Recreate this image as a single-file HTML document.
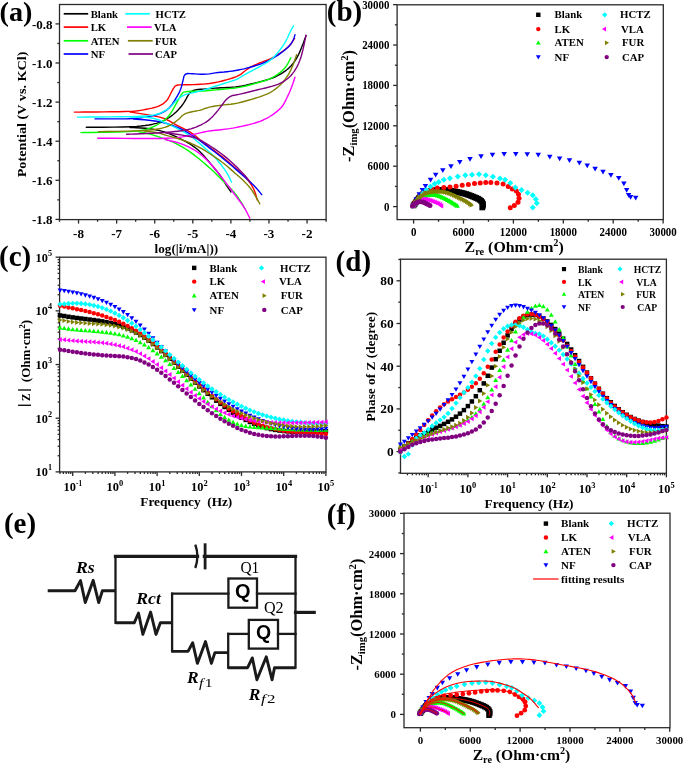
<!DOCTYPE html><html><head><meta charset="utf-8"><style>html,body{margin:0;padding:0;background:#fff;width:685px;height:763px;overflow:hidden}svg{display:block;will-change:transform;filter:blur(0.35px)}</style></head><body>
<svg width="685" height="763" viewBox="0 0 685 763">
<rect width="685" height="763" fill="#fff"/>
<rect x="59.5" y="4.5" width="266.6" height="215.1" fill="none" stroke="#2a2a2a" stroke-width="1.3"/>
<line x1="55.5" y1="23.9" x2="59.5" y2="23.9" stroke="#2a2a2a" stroke-width="1.3"/>
<text x="52.6" y="28.5" font-family='"Liberation Serif", serif' font-size="13.2" font-weight="bold" font-style="normal" text-anchor="end" textLength="20.6" lengthAdjust="spacingAndGlyphs" >-0.8</text>
<line x1="57.3" y1="43.45" x2="59.5" y2="43.45" stroke="#2a2a2a" stroke-width="1.3"/>
<line x1="55.5" y1="63" x2="59.5" y2="63" stroke="#2a2a2a" stroke-width="1.3"/>
<text x="52.6" y="67.6" font-family='"Liberation Serif", serif' font-size="13.2" font-weight="bold" font-style="normal" text-anchor="end" textLength="20.6" lengthAdjust="spacingAndGlyphs" >-1.0</text>
<line x1="57.3" y1="82.55" x2="59.5" y2="82.55" stroke="#2a2a2a" stroke-width="1.3"/>
<line x1="55.5" y1="102.1" x2="59.5" y2="102.1" stroke="#2a2a2a" stroke-width="1.3"/>
<text x="52.6" y="106.7" font-family='"Liberation Serif", serif' font-size="13.2" font-weight="bold" font-style="normal" text-anchor="end" textLength="20.6" lengthAdjust="spacingAndGlyphs" >-1.2</text>
<line x1="57.3" y1="121.65" x2="59.5" y2="121.65" stroke="#2a2a2a" stroke-width="1.3"/>
<line x1="55.5" y1="141.2" x2="59.5" y2="141.2" stroke="#2a2a2a" stroke-width="1.3"/>
<text x="52.6" y="145.8" font-family='"Liberation Serif", serif' font-size="13.2" font-weight="bold" font-style="normal" text-anchor="end" textLength="20.6" lengthAdjust="spacingAndGlyphs" >-1.4</text>
<line x1="57.3" y1="160.75" x2="59.5" y2="160.75" stroke="#2a2a2a" stroke-width="1.3"/>
<line x1="55.5" y1="180.3" x2="59.5" y2="180.3" stroke="#2a2a2a" stroke-width="1.3"/>
<text x="52.6" y="184.9" font-family='"Liberation Serif", serif' font-size="13.2" font-weight="bold" font-style="normal" text-anchor="end" textLength="20.6" lengthAdjust="spacingAndGlyphs" >-1.6</text>
<line x1="57.3" y1="199.85" x2="59.5" y2="199.85" stroke="#2a2a2a" stroke-width="1.3"/>
<line x1="55.5" y1="219.4" x2="59.5" y2="219.4" stroke="#2a2a2a" stroke-width="1.3"/>
<text x="52.6" y="224" font-family='"Liberation Serif", serif' font-size="13.2" font-weight="bold" font-style="normal" text-anchor="end" textLength="20.6" lengthAdjust="spacingAndGlyphs" >-1.8</text>
<line x1="59.5" y1="219.6" x2="59.5" y2="221.8" stroke="#2a2a2a" stroke-width="1.3"/>
<line x1="78.54" y1="219.6" x2="78.54" y2="223.6" stroke="#2a2a2a" stroke-width="1.3"/>
<text x="78.54" y="237.5" font-family='"Liberation Serif", serif' font-size="13.2" font-weight="bold" font-style="normal" text-anchor="middle" textLength="10.9" lengthAdjust="spacingAndGlyphs" >-8</text>
<line x1="97.59" y1="219.6" x2="97.59" y2="221.8" stroke="#2a2a2a" stroke-width="1.3"/>
<line x1="116.63" y1="219.6" x2="116.63" y2="223.6" stroke="#2a2a2a" stroke-width="1.3"/>
<text x="116.63" y="237.5" font-family='"Liberation Serif", serif' font-size="13.2" font-weight="bold" font-style="normal" text-anchor="middle" textLength="10.9" lengthAdjust="spacingAndGlyphs" >-7</text>
<line x1="135.67" y1="219.6" x2="135.67" y2="221.8" stroke="#2a2a2a" stroke-width="1.3"/>
<line x1="154.72" y1="219.6" x2="154.72" y2="223.6" stroke="#2a2a2a" stroke-width="1.3"/>
<text x="154.72" y="237.5" font-family='"Liberation Serif", serif' font-size="13.2" font-weight="bold" font-style="normal" text-anchor="middle" textLength="10.9" lengthAdjust="spacingAndGlyphs" >-6</text>
<line x1="173.76" y1="219.6" x2="173.76" y2="221.8" stroke="#2a2a2a" stroke-width="1.3"/>
<line x1="192.8" y1="219.6" x2="192.8" y2="223.6" stroke="#2a2a2a" stroke-width="1.3"/>
<text x="192.8" y="237.5" font-family='"Liberation Serif", serif' font-size="13.2" font-weight="bold" font-style="normal" text-anchor="middle" textLength="10.9" lengthAdjust="spacingAndGlyphs" >-5</text>
<line x1="211.84" y1="219.6" x2="211.84" y2="221.8" stroke="#2a2a2a" stroke-width="1.3"/>
<line x1="230.89" y1="219.6" x2="230.89" y2="223.6" stroke="#2a2a2a" stroke-width="1.3"/>
<text x="230.89" y="237.5" font-family='"Liberation Serif", serif' font-size="13.2" font-weight="bold" font-style="normal" text-anchor="middle" textLength="10.9" lengthAdjust="spacingAndGlyphs" >-4</text>
<line x1="249.93" y1="219.6" x2="249.93" y2="221.8" stroke="#2a2a2a" stroke-width="1.3"/>
<line x1="268.97" y1="219.6" x2="268.97" y2="223.6" stroke="#2a2a2a" stroke-width="1.3"/>
<text x="268.97" y="237.5" font-family='"Liberation Serif", serif' font-size="13.2" font-weight="bold" font-style="normal" text-anchor="middle" textLength="10.9" lengthAdjust="spacingAndGlyphs" >-3</text>
<line x1="288.02" y1="219.6" x2="288.02" y2="221.8" stroke="#2a2a2a" stroke-width="1.3"/>
<line x1="307.06" y1="219.6" x2="307.06" y2="223.6" stroke="#2a2a2a" stroke-width="1.3"/>
<text x="307.06" y="237.5" font-family='"Liberation Serif", serif' font-size="13.2" font-weight="bold" font-style="normal" text-anchor="middle" textLength="10.9" lengthAdjust="spacingAndGlyphs" >-2</text>
<line x1="326.1" y1="219.6" x2="326.1" y2="221.8" stroke="#2a2a2a" stroke-width="1.3"/>
<text x="186.4" y="252.5" font-family='"Liberation Serif", serif' font-size="12.3" font-weight="bold" font-style="normal" text-anchor="middle" textLength="63.6" lengthAdjust="spacingAndGlyphs" >log(|i/mA|))</text>
<text x="0" y="0" font-family='"Liberation Serif", serif' font-size="13.5" font-weight="bold" font-style="normal" text-anchor="middle" textLength="125.8" lengthAdjust="spacingAndGlyphs" transform="translate(26.1,114.4) rotate(-90)">Potential (V vs. KCl)</text>
<text x="-0.5" y="20.6" font-family='"Liberation Serif", serif' font-size="28.2" font-weight="bold" font-style="normal" text-anchor="start" >(a)</text>
<line x1="63.7" y1="13.8" x2="88.2" y2="13.8" stroke="#000000" stroke-width="1.7"/>
<text x="90.7" y="17.5" font-family='"Liberation Serif", serif' font-size="10.7" font-weight="bold" font-style="normal" text-anchor="start" >Blank</text>
<line x1="63.7" y1="27.1" x2="88.2" y2="27.1" stroke="#ff0000" stroke-width="1.7"/>
<text x="90.7" y="30.8" font-family='"Liberation Serif", serif' font-size="10.7" font-weight="bold" font-style="normal" text-anchor="start" >LK</text>
<line x1="63.7" y1="40.8" x2="88.2" y2="40.8" stroke="#00ff00" stroke-width="1.7"/>
<text x="90.7" y="44.5" font-family='"Liberation Serif", serif' font-size="10.7" font-weight="bold" font-style="normal" text-anchor="start" >ATEN</text>
<line x1="63.7" y1="54" x2="88.2" y2="54" stroke="#0000ff" stroke-width="1.7"/>
<text x="90.7" y="57.7" font-family='"Liberation Serif", serif' font-size="10.7" font-weight="bold" font-style="normal" text-anchor="start" >NF</text>
<line x1="125.4" y1="13.8" x2="149.9" y2="13.8" stroke="#00ffff" stroke-width="1.7"/>
<text x="155.6" y="17.5" font-family='"Liberation Serif", serif' font-size="10.7" font-weight="bold" font-style="normal" text-anchor="start" >HCTZ</text>
<line x1="127" y1="27.1" x2="151.6" y2="27.1" stroke="#ff00ff" stroke-width="1.7"/>
<text x="154" y="30.8" font-family='"Liberation Serif", serif' font-size="10.7" font-weight="bold" font-style="normal" text-anchor="start" >VLA</text>
<line x1="127.9" y1="40.8" x2="152.7" y2="40.8" stroke="#808000" stroke-width="1.7"/>
<text x="155" y="44.5" font-family='"Liberation Serif", serif' font-size="10.7" font-weight="bold" font-style="normal" text-anchor="start" >FUR</text>
<line x1="128.5" y1="54" x2="153" y2="54" stroke="#800080" stroke-width="1.7"/>
<text x="155" y="57.7" font-family='"Liberation Serif", serif' font-size="10.7" font-weight="bold" font-style="normal" text-anchor="start" >CAP</text>
<g clip-path="url(#clipA)">
<polyline points="86.3,127.3 89.03,127.28 94.49,127.24 102.69,127.19 113.61,127.11 122.91,126.96 130.57,126.74 136.6,126.44 141,126.06 145.17,125.56 149.12,124.94 152.85,124.19 156.35,123.31 159.5,122.36 162.3,121.32 164.75,120.2 166.85,119 168.86,117.74 170.79,116.41 172.62,115.03 174.38,113.58 176.12,111.98 177.88,110.23 179.62,108.33 181.38,106.28 182.98,104.16 184.44,101.97 185.76,99.71 186.94,97.39 188.11,95.39 189.29,93.71 190.46,92.36 191.64,91.34 193.24,90.52 195.28,89.91 197.75,89.5 200.65,89.3 203.56,89.09 206.47,88.86 209.39,88.62 212.31,88.38 215.24,88.16 218.16,87.97 221.09,87.81 224.01,87.69 226.93,87.54 229.84,87.36 232.75,87.16 235.65,86.94 238.81,86.54 242.22,85.96 245.89,85.21 249.81,84.29 253.74,83.33 257.66,82.34 261.59,81.33 265.51,80.28 269.11,79.16 272.39,77.99 275.34,76.75 277.96,75.45 280.46,74.08 282.82,72.64 285.05,71.14 287.15,69.56 289.12,67.86 290.96,66.02 292.66,64.05 294.24,61.95 295.74,59.66 297.18,57.17 298.55,54.49 299.85,51.61 301.09,48.73 302.26,45.84 303.38,42.95 304.42,40.05 305.21,37.88 305.74,36.43 306,35.7" fill="none" stroke="#000000" stroke-width="1.4" stroke-linejoin="round" stroke-linecap="round" />
<polyline points="130,127.5 131.1,127.54 133.3,127.63 136.6,127.76 141,127.94 145.39,128.29 149.78,128.81 154.16,129.51 158.54,130.39 162.68,131.44 166.59,132.68 170.28,134.1 173.72,135.7 176.97,137.23 180.01,138.69 182.84,140.09 185.46,141.41 188.09,142.89 190.71,144.53 193.34,146.33 195.96,148.28 198.43,150.31 200.72,152.44 202.86,154.65 204.84,156.95 206.73,159.17 208.54,161.31 210.28,163.36 211.93,165.34 213.57,167.31 215.21,169.29 216.84,171.26 218.46,173.24 220.01,175.27 221.49,177.36 222.89,179.5 224.21,181.7 225.51,183.79 226.77,185.76 228,187.62 229.2,189.38 230.1,190.69 230.7,191.56 231,192" fill="none" stroke="#000000" stroke-width="1.4" stroke-linejoin="round" stroke-linecap="round" />
<polyline points="74.4,112.1 76,112.09 79.2,112.08 84,112.06 90.4,112.04 97.07,111.99 104.03,111.91 111.25,111.81 118.75,111.69 124.92,111.54 129.77,111.38 133.3,111.2 135.5,111 137.92,110.71 140.56,110.32 143.41,109.84 146.49,109.26 149.34,108.68 151.98,108.08 154.4,107.46 156.6,106.84 158.69,106.06 160.66,105.14 162.53,104.06 164.28,102.84 165.78,101.54 167.04,100.18 168.06,98.75 168.84,97.25 169.61,95.75 170.37,94.25 171.12,92.75 171.88,91.25 172.61,89.88 173.34,88.64 174.05,87.54 174.75,86.56 175.64,85.81 176.73,85.29 178.01,84.99 179.49,84.91 181.69,84.84 184.61,84.76 188.26,84.69 192.64,84.61 196.65,84.49 200.3,84.31 203.59,84.09 206.51,83.81 209.44,83.46 212.36,83.02 215.29,82.5 218.21,81.9 221.14,81.23 224.06,80.49 226.99,79.69 229.91,78.81 232.46,78 234.64,77.25 236.44,76.56 237.86,75.94 239.26,75.2 240.62,74.35 241.95,73.39 243.25,72.31 244.56,71.28 245.87,70.28 247.19,69.31 248.51,68.39 250.16,67.4 252.14,66.35 254.44,65.24 257.06,64.06 259.56,62.99 261.92,62.03 264.15,61.17 266.25,60.42 268.28,59.63 270.24,58.79 272.14,57.91 273.96,56.99 275.79,55.97 277.61,54.86 279.44,53.65 281.26,52.35 283.03,51.05 284.72,49.75 286.36,48.45 287.94,47.15 289.38,45.74 290.69,44.23 291.88,42.61 292.92,40.89 293.71,39.59 294.24,38.73 294.5,38.3" fill="none" stroke="#ff0000" stroke-width="1.4" stroke-linejoin="round" stroke-linecap="round" />
<polyline points="130,112 130.88,112.14 132.64,112.41 135.29,112.82 138.81,113.38 142.14,113.9 145.26,114.4 148.19,114.88 150.91,115.32 153.59,115.82 156.21,116.36 158.79,116.94 161.31,117.56 163.91,118.44 166.57,119.56 169.3,120.94 172.1,122.56 175.18,124.27 178.54,126.06 182.19,127.93 186.11,129.88 189.71,131.91 192.99,134.04 195.94,136.25 198.56,138.55 201.19,140.77 203.83,142.91 206.48,144.96 209.12,146.94 211.77,148.91 214.41,150.89 217.04,152.86 219.66,154.84 222.29,156.89 224.91,159.03 227.54,161.25 230.16,163.55 232.79,165.85 235.41,168.15 238.04,170.45 240.66,172.75 243.04,174.97 245.18,177.11 247.07,179.16 248.72,181.14 250.21,183.11 251.52,185.09 252.66,187.06 253.64,189.04 254.5,191.01 255.25,192.97 255.89,194.92 256.41,196.88 256.81,198.34 257.07,199.31 257.2,199.8" fill="none" stroke="#ff0000" stroke-width="1.4" stroke-linejoin="round" stroke-linecap="round" />
<polyline points="81,132.6 84.61,132.54 91.84,132.43 102.68,132.26 117.12,132.04 128.84,131.59 137.83,130.93 144.09,130.05 147.61,128.95 150.91,127.74 153.99,126.43 156.84,125.01 159.46,123.49 161.84,121.95 163.98,120.4 165.88,118.84 167.52,117.26 169.12,115.43 170.67,113.33 172.17,110.96 173.62,108.34 175.08,105.71 176.54,103.09 178.01,100.46 179.49,97.84 180.74,95.72 181.76,94.11 182.56,93 183.14,92.4 184.88,91.92 187.79,91.56 191.88,91.31 197.12,91.19 202.16,90.98 206.99,90.69 211.6,90.32 216,89.88 220.39,89.44 224.76,89.01 229.12,88.6 233.48,88.2 237.72,87.64 241.86,86.91 245.89,86.02 249.81,84.97 253.74,83.89 257.66,82.78 261.59,81.64 265.51,80.46 269.11,79.12 272.39,77.62 275.34,75.96 277.96,74.14 280.26,72.38 282.24,70.68 283.89,69.04 285.21,67.46 286.43,65.82 287.54,64.11 288.55,62.33 289.45,60.48 290.12,59.09 290.58,58.16 290.8,57.7" fill="none" stroke="#00ff00" stroke-width="1.4" stroke-linejoin="round" stroke-linecap="round" />
<polyline points="138.8,131.8 139.35,131.9 140.45,132.1 142.1,132.4 144.3,132.8 146.92,133.39 149.96,134.18 153.41,135.16 157.29,136.34 161.02,137.55 164.61,138.8 168.05,140.09 171.35,141.41 174.64,142.89 177.93,144.53 181.21,146.33 184.49,148.28 187.76,150.39 191.04,152.68 194.31,155.14 197.59,157.76 200.71,160.31 203.67,162.77 206.48,165.15 209.12,167.45 211.77,169.84 214.41,172.31 217.04,174.88 219.66,177.52 222.29,180.17 224.91,182.81 227.54,185.44 230.16,188.06 232.54,190.61 234.66,193.07 236.54,195.45 238.16,197.75 239.66,199.96 241.04,202.09 242.29,204.12 243.41,206.08 244.26,207.54 244.82,208.51 245.1,209" fill="none" stroke="#00ff00" stroke-width="1.4" stroke-linejoin="round" stroke-linecap="round" />
<polyline points="95,118.9 97.41,118.9 102.24,118.9 109.48,118.9 119.12,118.9 127.39,118.74 134.26,118.43 139.75,117.96 143.85,117.34 147.58,116.71 150.94,116.07 153.94,115.43 156.56,114.77 159.12,113.92 161.62,112.86 164.06,111.59 166.44,110.11 168.58,108.43 170.49,106.53 172.17,104.41 173.62,102.09 175.01,99.83 176.32,97.64 177.56,95.53 178.74,93.47 179.77,91.35 180.66,89.15 181.4,86.88 182,84.53 182.56,82.29 183.07,80.16 183.54,78.15 183.96,76.25 184.83,74.85 186.14,73.95 187.9,73.55 190.1,73.65 192.48,73.77 195.03,73.92 197.75,74.1 200.65,74.3 203.56,74.32 206.47,74.17 209.39,73.85 212.31,73.35 215.24,72.92 218.16,72.56 221.09,72.26 224.01,72.04 226.93,71.75 229.84,71.4 232.75,70.99 235.65,70.51 238.48,69.99 241.24,69.43 243.94,68.83 246.56,68.17 249.19,67.49 251.81,66.76 254.44,66 257.06,65.2 259.68,64.31 262.29,63.32 264.9,62.24 267.5,61.06 270.11,59.76 272.72,58.32 275.34,56.75 277.96,55.05 280.39,53.38 282.63,51.74 284.68,50.14 286.53,48.56 288.18,46.99 289.62,45.41 290.88,43.84 291.92,42.26 292.81,40.76 293.52,39.32 294.06,37.95 294.44,36.65 294.72,35.67 294.91,35.03 295,34.7" fill="none" stroke="#0000ff" stroke-width="1.4" stroke-linejoin="round" stroke-linecap="round" />
<polyline points="133.6,119 134.69,119.08 136.88,119.24 140.16,119.49 144.54,119.81 148.74,120.21 152.76,120.69 156.61,121.24 160.29,121.86 164.03,122.71 167.83,123.79 171.69,125.09 175.61,126.61 179.38,128.25 182.99,130 186.45,131.86 189.75,133.84 192.88,135.81 195.84,137.79 198.64,139.76 201.26,141.74 203.89,143.71 206.51,145.67 209.14,147.62 211.76,149.57 214.55,151.7 217.5,154 220.61,156.48 223.89,159.12 227,161.69 229.95,164.16 232.74,166.55 235.36,168.85 237.99,171.15 240.61,173.45 243.24,175.75 245.86,178.05 248.24,180.18 250.38,182.14 252.28,183.94 253.93,185.56 255.49,187.19 256.98,188.83 258.39,190.48 259.71,192.12 260.71,193.36 261.37,194.19 261.7,194.6" fill="none" stroke="#0000ff" stroke-width="1.4" stroke-linejoin="round" stroke-linecap="round" />
<polyline points="77.5,117.1 80.78,117.08 87.34,117.04 97.19,116.99 110.31,116.91 121.26,116.8 130.02,116.65 136.6,116.46 141,116.24 144.96,115.96 148.47,115.64 151.54,115.26 154.16,114.84 156.68,114.24 159.09,113.48 161.4,112.55 163.6,111.45 165.51,110.42 167.12,109.46 168.44,108.56 169.46,107.74 170.53,106.77 171.64,105.66 172.8,104.4 174,103 175.41,101.55 177.04,100.05 178.88,98.5 180.92,96.9 183.05,95.59 185.25,94.56 187.52,93.82 189.88,93.38 192.36,92.86 194.99,92.27 197.75,91.61 200.65,90.89 203.56,90.09 206.47,89.21 209.39,88.26 212.31,87.24 215.24,86.25 218.16,85.3 221.09,84.39 224.01,83.51 226.72,82.69 229.21,81.91 231.47,81.19 233.53,80.51 235.27,79.88 236.72,79.29 237.87,78.75 238.73,78.25 240.02,77.49 241.76,76.48 243.94,75.21 246.56,73.69 249.19,72.21 251.81,70.79 254.44,69.41 257.06,68.09 259.68,66.7 262.29,65.25 264.9,63.74 267.5,62.16 269.97,60.39 272.32,58.43 274.55,56.27 276.65,53.92 278.62,51.58 280.46,49.22 282.16,46.87 283.74,44.53 285.18,42.17 286.49,39.81 287.68,37.44 288.73,35.06 289.71,32.92 290.64,31.02 291.5,29.36 292.3,27.94 292.9,26.87 293.3,26.16 293.5,25.8" fill="none" stroke="#00ffff" stroke-width="1.4" stroke-linejoin="round" stroke-linecap="round" />
<polyline points="130,117 131.1,117.01 133.3,117.02 136.6,117.04 141,117.06 144.96,117.22 148.47,117.52 151.54,117.96 154.16,118.54 156.61,119.21 158.89,119.99 160.99,120.86 162.91,121.84 165.18,122.92 167.78,124.11 170.71,125.4 173.99,126.8 177.26,128.34 180.54,130.03 183.81,131.86 187.09,133.84 190.2,135.89 193.15,138.03 195.94,140.25 198.56,142.55 201.19,144.85 203.83,147.15 206.48,149.45 209.12,151.75 211.6,154.05 213.9,156.35 216.03,158.65 217.97,160.95 219.85,163.25 221.65,165.55 223.38,167.85 225.02,170.15 226.51,172.4 227.84,174.6 229,176.75 230,178.85 230.75,180.43 231.25,181.47 231.5,182" fill="none" stroke="#00ffff" stroke-width="1.4" stroke-linejoin="round" stroke-linecap="round" />
<polyline points="97.7,138.2 100.34,138.22 105.63,138.26 113.56,138.31 124.14,138.39 133.63,138.44 142.04,138.48 149.38,138.5 155.62,138.5 161.25,138.44 166.25,138.31 170.62,138.12 174.38,137.88 178.27,137.44 182.31,136.83 186.49,136.04 190.81,135.06 194.71,134.17 198.19,133.36 201.24,132.62 203.86,131.98 207.14,131.36 211.08,130.77 215.68,130.21 220.93,129.69 225.52,129.17 229.46,128.66 232.74,128.15 235.36,127.65 238.32,127.05 241.61,126.35 245.23,125.55 249.17,124.65 252.96,123.64 256.57,122.53 260.01,121.31 263.29,119.99 266.57,118.38 269.86,116.49 273.15,114.32 276.45,111.88 279.22,109.51 281.46,107.22 283.16,105.01 284.34,102.89 285.55,100.57 286.8,98.06 288.09,95.35 289.41,92.45 290.63,89.59 291.74,86.76 292.75,83.97 293.65,81.22 294.33,79.16 294.77,77.79 295,77.1" fill="none" stroke="#ff00ff" stroke-width="1.4" stroke-linejoin="round" stroke-linecap="round" />
<polyline points="165.1,139.6 166.12,139.84 168.17,140.31 171.25,141.03 175.35,141.97 179.41,143.18 183.44,144.63 187.42,146.33 191.38,148.28 195.16,150.48 198.77,152.94 202.21,155.66 205.49,158.64 208.6,161.69 211.55,164.81 214.34,168.01 216.96,171.29 219.43,174.4 221.72,177.35 223.86,180.14 225.84,182.76 227.81,185.39 229.79,188.01 231.76,190.64 233.74,193.26 235.71,195.89 237.69,198.51 239.66,201.14 241.64,203.76 243.44,206.39 245.08,209.01 246.55,211.64 247.85,214.26 248.83,216.23 249.48,217.54 249.8,218.2" fill="none" stroke="#ff00ff" stroke-width="1.4" stroke-linejoin="round" stroke-linecap="round" />
<polyline points="98.5,131.7 101.35,131.64 107.05,131.53 115.6,131.36 127,131.14 136.42,130.86 143.88,130.54 149.35,130.16 152.85,129.74 156.13,129.25 159.19,128.7 162.04,128.09 164.66,127.41 167.23,126.51 169.74,125.37 172.2,124 174.6,122.4 176.76,120.81 178.69,119.22 180.38,117.64 181.83,116.06 183.5,114.74 185.4,113.66 187.52,112.84 189.88,112.26 192.08,111.76 194.12,111.32 196.03,110.95 197.78,110.65 199.38,110.32 200.83,109.96 202.13,109.56 203.27,109.14 204.51,108.71 205.82,108.27 207.21,107.82 208.69,107.38 210.53,106.93 212.73,106.49 215.29,106.06 218.21,105.64 221.21,105.24 224.27,104.88 227.4,104.55 230.6,104.25 233.94,103.77 237.43,103.11 241.06,102.26 244.84,101.24 248.32,100.27 251.53,99.36 254.44,98.5 257.06,97.7 259.68,96.84 262.29,95.91 264.9,94.93 267.5,93.87 270.11,92.56 272.72,90.99 275.34,89.15 277.96,87.05 280.39,84.83 282.63,82.48 284.68,80 286.53,77.4 288.18,74.86 289.62,72.37 290.88,69.94 291.92,67.56 292.91,65.19 293.82,62.83 294.66,60.47 295.44,58.13 296.02,56.36 296.41,55.19 296.6,54.6" fill="none" stroke="#808000" stroke-width="1.4" stroke-linejoin="round" stroke-linecap="round" />
<polyline points="144.1,131 144.97,131.1 146.72,131.3 149.35,131.6 152.85,132 155.96,132.47 158.67,133.01 160.99,133.61 162.91,134.29 165.34,135.05 168.26,135.9 171.69,136.84 175.61,137.86 179.54,139.04 183.48,140.38 187.42,141.88 191.38,143.52 195.16,145.26 198.77,147.07 202.21,148.96 205.49,150.94 208.77,152.99 212.06,155.13 215.35,157.35 218.65,159.65 221.78,161.95 224.74,164.25 227.54,166.55 230.16,168.85 232.79,171.15 235.41,173.45 238.04,175.75 240.66,178.05 243.12,180.34 245.42,182.63 247.56,184.91 249.54,187.19 251.48,189.72 253.37,192.51 255.24,195.55 257.06,198.85 258.43,201.33 259.34,202.98 259.8,203.8" fill="none" stroke="#808000" stroke-width="1.4" stroke-linejoin="round" stroke-linecap="round" />
<polyline points="126.6,134.3 128.06,134.24 130.99,134.11 135.38,133.93 141.23,133.68 146.6,133.44 151.5,133.21 155.93,133 159.88,132.8 163.73,132.56 167.48,132.27 171.12,131.94 174.67,131.56 177.92,131.19 180.88,130.81 183.52,130.44 185.88,130.06 188.29,129.54 190.78,128.86 193.34,128.04 195.96,127.06 198.54,125.98 201.08,124.79 203.58,123.5 206.02,122.1 208.45,120.37 210.85,118.31 213.22,115.91 215.57,113.19 217.92,110.34 220.26,107.36 222.59,104.26 224.91,101.04 227.38,98.49 229.99,96.63 232.75,95.45 235.65,94.95 238.81,94.33 242.22,93.58 245.89,92.7 249.81,91.7 253.74,90.73 257.66,89.78 261.59,88.85 265.51,87.95 269.11,87.04 272.39,86.13 275.34,85.21 277.96,84.29 280.46,83.2 282.82,81.95 285.05,80.54 287.15,78.96 289.12,77.26 290.96,75.42 292.66,73.45 294.24,71.35 295.74,68.99 297.18,66.36 298.55,63.48 299.85,60.33 301.09,56.69 302.26,52.56 303.38,47.95 304.42,42.85 305.21,39.03 305.74,36.48 306,35.2" fill="none" stroke="#800080" stroke-width="1.4" stroke-linejoin="round" stroke-linecap="round" />
<polyline points="165.8,133 166.69,133.09 168.46,133.28 171.12,133.56 174.67,133.94 178.42,134.44 182.36,135.08 186.49,135.85 190.81,136.75 194.88,137.92 198.68,139.36 202.21,141.06 205.49,143.04 208.77,145.09 212.06,147.23 215.35,149.45 218.65,151.75 221.78,154.05 224.74,156.35 227.54,158.65 230.16,160.95 232.71,163.25 235.17,165.55 237.55,167.85 239.85,170.15 241.98,172.37 243.94,174.51 245.74,176.56 247.36,178.54 248.58,180.02 249.39,181.01 249.8,181.5" fill="none" stroke="#800080" stroke-width="1.4" stroke-linejoin="round" stroke-linecap="round" />
</g>
<clipPath id="clipA"><rect x="59.5" y="4.5" width="266.6" height="215.1"/></clipPath>
<rect x="397.1" y="4.8" width="266.2" height="214.8" fill="none" stroke="#2a2a2a" stroke-width="1.3"/>
<line x1="393.1" y1="206.6" x2="397.1" y2="206.6" stroke="#2a2a2a" stroke-width="1.3"/>
<text x="389.4" y="210.5" font-family='"Liberation Serif", serif' font-size="11.6" font-weight="bold" font-style="normal" text-anchor="end" textLength="5.45" lengthAdjust="spacingAndGlyphs" >0</text>
<line x1="394.9" y1="186.4" x2="397.1" y2="186.4" stroke="#2a2a2a" stroke-width="1.3"/>
<line x1="393.1" y1="166.21" x2="397.1" y2="166.21" stroke="#2a2a2a" stroke-width="1.3"/>
<text x="389.4" y="170.11" font-family='"Liberation Serif", serif' font-size="11.6" font-weight="bold" font-style="normal" text-anchor="end" textLength="21.8" lengthAdjust="spacingAndGlyphs" >6000</text>
<line x1="394.9" y1="146.01" x2="397.1" y2="146.01" stroke="#2a2a2a" stroke-width="1.3"/>
<line x1="393.1" y1="125.82" x2="397.1" y2="125.82" stroke="#2a2a2a" stroke-width="1.3"/>
<text x="389.4" y="129.72" font-family='"Liberation Serif", serif' font-size="11.6" font-weight="bold" font-style="normal" text-anchor="end" textLength="27.25" lengthAdjust="spacingAndGlyphs" >12000</text>
<line x1="394.9" y1="105.62" x2="397.1" y2="105.62" stroke="#2a2a2a" stroke-width="1.3"/>
<line x1="393.1" y1="85.42" x2="397.1" y2="85.42" stroke="#2a2a2a" stroke-width="1.3"/>
<text x="389.4" y="89.32" font-family='"Liberation Serif", serif' font-size="11.6" font-weight="bold" font-style="normal" text-anchor="end" textLength="27.25" lengthAdjust="spacingAndGlyphs" >18000</text>
<line x1="394.9" y1="65.23" x2="397.1" y2="65.23" stroke="#2a2a2a" stroke-width="1.3"/>
<line x1="393.1" y1="45.03" x2="397.1" y2="45.03" stroke="#2a2a2a" stroke-width="1.3"/>
<text x="389.4" y="48.93" font-family='"Liberation Serif", serif' font-size="11.6" font-weight="bold" font-style="normal" text-anchor="end" textLength="27.25" lengthAdjust="spacingAndGlyphs" >24000</text>
<line x1="394.9" y1="24.84" x2="397.1" y2="24.84" stroke="#2a2a2a" stroke-width="1.3"/>
<line x1="393.1" y1="4.64" x2="397.1" y2="4.64" stroke="#2a2a2a" stroke-width="1.3"/>
<text x="389.4" y="8.54" font-family='"Liberation Serif", serif' font-size="11.6" font-weight="bold" font-style="normal" text-anchor="end" textLength="27.25" lengthAdjust="spacingAndGlyphs" >30000</text>
<line x1="413.6" y1="219.6" x2="413.6" y2="223.6" stroke="#2a2a2a" stroke-width="1.3"/>
<text x="413.6" y="235.5" font-family='"Liberation Serif", serif' font-size="11.6" font-weight="bold" font-style="normal" text-anchor="middle" textLength="5.45" lengthAdjust="spacingAndGlyphs" >0</text>
<line x1="438.55" y1="219.6" x2="438.55" y2="221.8" stroke="#2a2a2a" stroke-width="1.3"/>
<line x1="463.5" y1="219.6" x2="463.5" y2="223.6" stroke="#2a2a2a" stroke-width="1.3"/>
<text x="463.5" y="235.5" font-family='"Liberation Serif", serif' font-size="11.6" font-weight="bold" font-style="normal" text-anchor="middle" textLength="21.8" lengthAdjust="spacingAndGlyphs" >6000</text>
<line x1="488.45" y1="219.6" x2="488.45" y2="221.8" stroke="#2a2a2a" stroke-width="1.3"/>
<line x1="513.4" y1="219.6" x2="513.4" y2="223.6" stroke="#2a2a2a" stroke-width="1.3"/>
<text x="513.4" y="235.5" font-family='"Liberation Serif", serif' font-size="11.6" font-weight="bold" font-style="normal" text-anchor="middle" textLength="27.25" lengthAdjust="spacingAndGlyphs" >12000</text>
<line x1="538.36" y1="219.6" x2="538.36" y2="221.8" stroke="#2a2a2a" stroke-width="1.3"/>
<line x1="563.31" y1="219.6" x2="563.31" y2="223.6" stroke="#2a2a2a" stroke-width="1.3"/>
<text x="563.31" y="235.5" font-family='"Liberation Serif", serif' font-size="11.6" font-weight="bold" font-style="normal" text-anchor="middle" textLength="27.25" lengthAdjust="spacingAndGlyphs" >18000</text>
<line x1="588.26" y1="219.6" x2="588.26" y2="221.8" stroke="#2a2a2a" stroke-width="1.3"/>
<line x1="613.21" y1="219.6" x2="613.21" y2="223.6" stroke="#2a2a2a" stroke-width="1.3"/>
<text x="613.21" y="235.5" font-family='"Liberation Serif", serif' font-size="11.6" font-weight="bold" font-style="normal" text-anchor="middle" textLength="27.25" lengthAdjust="spacingAndGlyphs" >24000</text>
<line x1="638.16" y1="219.6" x2="638.16" y2="221.8" stroke="#2a2a2a" stroke-width="1.3"/>
<line x1="663.11" y1="219.6" x2="663.11" y2="223.6" stroke="#2a2a2a" stroke-width="1.3"/>
<text x="663.11" y="235.5" font-family='"Liberation Serif", serif' font-size="11.6" font-weight="bold" font-style="normal" text-anchor="middle" textLength="27.25" lengthAdjust="spacingAndGlyphs" >30000</text>
<clipPath id="clipB"><rect x="397.1" y="4.8" width="266.19999999999993" height="214.79999999999998"/></clipPath>
<g clip-path="url(#clipB)">
<polyline points="413.58,205.4 413.98,204.84 414.52,204.06 415.17,203.14 415.87,202.15 416.58,201.18 417.26,200.29 417.92,199.46 418.59,198.61 419.28,197.77 419.97,196.97 420.66,196.24 421.35,195.59 422.03,195.04 422.71,194.58 423.39,194.17 424.07,193.81 424.76,193.47 425.44,193.14 426.11,192.81 426.76,192.51 427.42,192.23 428.09,191.97 428.78,191.73 429.52,191.5 430.32,191.29 431.15,191.09 432.02,190.91 432.89,190.75 433.77,190.61 434.63,190.48 435.49,190.37 436.34,190.28 437.19,190.21 438.04,190.15 438.89,190.11 439.74,190.07 440.6,190.04 441.45,190.02 442.3,190.01 443.15,190.01 444,190.03 444.85,190.07 445.67,190.13 446.44,190.2 447.22,190.29 448.03,190.4 448.93,190.53 449.96,190.68 451.15,190.87 452.46,191.08 453.86,191.31 455.3,191.56 456.74,191.83 458.14,192.12 459.5,192.41 460.86,192.71 462.22,193.03 463.59,193.38 464.95,193.75 466.31,194.16 467.71,194.62 469.15,195.13 470.59,195.67 471.99,196.21 473.3,196.74 474.49,197.22 475.54,197.67 476.51,198.08 477.39,198.48 478.19,198.87 478.92,199.26 479.6,199.68 480.2,200.11 480.73,200.55 481.19,200.99 481.59,201.44 481.95,201.89 482.25,202.33 482.51,202.78 482.72,203.23 482.88,203.68 482.99,204.12 483.05,204.56 483.07,204.99 483.02,205.44 482.89,205.91 482.71,206.38 482.53,206.82 482.36,207.18 482.25,207.44" fill="none" stroke="#000000" stroke-width="3.6" stroke-linejoin="round" stroke-linecap="round" />
<rect x="410.71" y="202.52" width="5.75" height="5.75" fill="#000000"/>
<rect x="411.76" y="201.02" width="5.75" height="5.75" fill="#000000"/>
<rect x="412.82" y="199.52" width="5.75" height="5.75" fill="#000000"/>
<rect x="413.91" y="198.04" width="5.75" height="5.75" fill="#000000"/>
<rect x="415.04" y="196.59" width="5.75" height="5.75" fill="#000000"/>
<rect x="416.19" y="195.16" width="5.75" height="5.75" fill="#000000"/>
<rect x="417.4" y="193.78" width="5.75" height="5.75" fill="#000000"/>
<rect x="418.73" y="192.51" width="5.75" height="5.75" fill="#000000"/>
<rect x="420.24" y="191.46" width="5.75" height="5.75" fill="#000000"/>
<rect x="421.86" y="190.61" width="5.75" height="5.75" fill="#000000"/>
<rect x="423.51" y="189.81" width="5.75" height="5.75" fill="#000000"/>
<rect x="425.21" y="189.1" width="5.75" height="5.75" fill="#000000"/>
<rect x="426.96" y="188.54" width="5.75" height="5.75" fill="#000000"/>
<rect x="428.75" y="188.12" width="5.75" height="5.75" fill="#000000"/>
<rect x="430.55" y="187.79" width="5.75" height="5.75" fill="#000000"/>
<rect x="432.37" y="187.53" width="5.75" height="5.75" fill="#000000"/>
<rect x="434.2" y="187.35" width="5.75" height="5.75" fill="#000000"/>
<rect x="436.03" y="187.23" width="5.75" height="5.75" fill="#000000"/>
<rect x="437.87" y="187.16" width="5.75" height="5.75" fill="#000000"/>
<rect x="439.7" y="187.13" width="5.75" height="5.75" fill="#000000"/>
<rect x="441.54" y="187.18" width="5.75" height="5.75" fill="#000000"/>
<rect x="443.37" y="187.31" width="5.75" height="5.75" fill="#000000"/>
<rect x="445.2" y="187.53" width="5.75" height="5.75" fill="#000000"/>
<rect x="447.01" y="187.8" width="5.75" height="5.75" fill="#000000"/>
<rect x="448.83" y="188.08" width="5.75" height="5.75" fill="#000000"/>
<rect x="450.64" y="188.38" width="5.75" height="5.75" fill="#000000"/>
<rect x="452.45" y="188.69" width="5.75" height="5.75" fill="#000000"/>
<rect x="454.26" y="189.04" width="5.75" height="5.75" fill="#000000"/>
<rect x="456.06" y="189.41" width="5.75" height="5.75" fill="#000000"/>
<rect x="457.85" y="189.81" width="5.75" height="5.75" fill="#000000"/>
<rect x="459.64" y="190.23" width="5.75" height="5.75" fill="#000000"/>
<rect x="461.41" y="190.7" width="5.75" height="5.75" fill="#000000"/>
<rect x="463.18" y="191.21" width="5.75" height="5.75" fill="#000000"/>
<rect x="464.93" y="191.77" width="5.75" height="5.75" fill="#000000"/>
<rect x="466.65" y="192.39" width="5.75" height="5.75" fill="#000000"/>
<rect x="468.37" y="193.05" width="5.75" height="5.75" fill="#000000"/>
<rect x="470.08" y="193.72" width="5.75" height="5.75" fill="#000000"/>
<rect x="471.78" y="194.42" width="5.75" height="5.75" fill="#000000"/>
<rect x="473.47" y="195.14" width="5.75" height="5.75" fill="#000000"/>
<rect x="475.14" y="195.91" width="5.75" height="5.75" fill="#000000"/>
<rect x="476.74" y="196.81" width="5.75" height="5.75" fill="#000000"/>
<rect x="478.16" y="197.97" width="5.75" height="5.75" fill="#000000"/>
<rect x="479.33" y="199.38" width="5.75" height="5.75" fill="#000000"/>
<rect x="480.07" y="201.05" width="5.75" height="5.75" fill="#000000"/>
<rect x="480.06" y="202.87" width="5.75" height="5.75" fill="#000000"/>
<rect x="479.38" y="204.57" width="5.75" height="5.75" fill="#000000"/>
<circle cx="413.58" cy="205.4" r="2.5" fill="#ff0000"/>
<circle cx="415.22" cy="202.33" r="2.5" fill="#ff0000"/>
<circle cx="417.26" cy="199.27" r="2.5" fill="#ff0000"/>
<circle cx="419.71" cy="196.41" r="2.5" fill="#ff0000"/>
<circle cx="422.58" cy="193.55" r="2.5" fill="#ff0000"/>
<circle cx="426.46" cy="191.09" r="2.5" fill="#ff0000"/>
<circle cx="431.57" cy="189.05" r="2.5" fill="#ff0000"/>
<circle cx="437.29" cy="188.03" r="2.5" fill="#ff0000"/>
<circle cx="443.83" cy="187.41" r="2.5" fill="#ff0000"/>
<circle cx="449.96" cy="187.01" r="2.5" fill="#ff0000"/>
<circle cx="456.09" cy="186.19" r="2.5" fill="#ff0000"/>
<circle cx="462.22" cy="185.37" r="2.5" fill="#ff0000"/>
<circle cx="468.36" cy="184.55" r="2.5" fill="#ff0000"/>
<circle cx="474.49" cy="183.53" r="2.5" fill="#ff0000"/>
<circle cx="480.21" cy="182.92" r="2.5" fill="#ff0000"/>
<circle cx="485.73" cy="182.51" r="2.5" fill="#ff0000"/>
<circle cx="490.84" cy="182.51" r="2.5" fill="#ff0000"/>
<circle cx="496.97" cy="182.92" r="2.5" fill="#ff0000"/>
<circle cx="503.1" cy="183.94" r="2.5" fill="#ff0000"/>
<circle cx="508.21" cy="186.6" r="2.5" fill="#ff0000"/>
<circle cx="512.3" cy="189.05" r="2.5" fill="#ff0000"/>
<circle cx="516.38" cy="191.09" r="2.5" fill="#ff0000"/>
<circle cx="518.43" cy="194.16" r="2.5" fill="#ff0000"/>
<circle cx="519.04" cy="198.25" r="2.5" fill="#ff0000"/>
<circle cx="518.02" cy="202.33" r="2.5" fill="#ff0000"/>
<circle cx="514.34" cy="205.4" r="2.5" fill="#ff0000"/>
<circle cx="510.25" cy="207.85" r="2.5" fill="#ff0000"/>
<polyline points="413.58,205.4 413.87,204.99 414.26,204.4 414.72,203.71 415.23,202.99 415.74,202.31 416.24,201.72 416.73,201.24 417.23,200.8 417.75,200.39 418.27,200.01 418.79,199.64 419.31,199.27 419.82,198.9 420.33,198.53 420.84,198.18 421.35,197.85 421.86,197.53 422.37,197.22 422.87,196.95 423.36,196.69 423.84,196.45 424.34,196.22 424.87,196 425.44,195.79 426.06,195.59 426.72,195.39 427.42,195.19 428.12,195.02 428.83,194.88 429.52,194.77 430.21,194.7 430.89,194.67 431.57,194.66 432.25,194.67 432.93,194.71 433.61,194.77 434.29,194.85 434.97,194.95 435.66,195.08 436.34,195.23 437.02,195.4 437.7,195.59 438.33,195.79 438.91,195.98 439.49,196.2 440.12,196.47 440.87,196.8 441.79,197.22 442.93,197.76 444.25,198.39 445.68,199.09 447.16,199.83 448.61,200.58 449.96,201.31 451.3,202.09 452.69,202.95 454.05,203.82 455.3,204.63 456.35,205.31 457.12,205.81" fill="none" stroke="#00ff00" stroke-width="3.0" stroke-linejoin="round" stroke-linecap="round" />
<polygon points="413.58,202.79 416.2,207.3 410.97,207.3" fill="#00ff00"/>
<polygon points="414.62,201.25 417.23,205.76 412.01,205.76" fill="#00ff00"/>
<polygon points="415.7,199.75 418.32,204.26 413.09,204.26" fill="#00ff00"/>
<polygon points="416.98,198.41 419.59,202.92 414.37,202.92" fill="#00ff00"/>
<polygon points="418.44,197.27 421.06,201.79 415.83,201.79" fill="#00ff00"/>
<polygon points="419.95,196.19 422.56,200.7 417.34,200.7" fill="#00ff00"/>
<polygon points="421.48,195.15 424.09,199.66 418.87,199.66" fill="#00ff00"/>
<polygon points="423.08,194.22 425.7,198.73 420.47,198.73" fill="#00ff00"/>
<polygon points="424.76,193.43 427.37,197.95 422.15,197.95" fill="#00ff00"/>
<polygon points="426.51,192.84 429.13,197.35 423.9,197.35" fill="#00ff00"/>
<polygon points="428.31,192.37 430.92,196.88 425.69,196.88" fill="#00ff00"/>
<polygon points="430.14,192.1 432.75,196.61 427.53,196.61" fill="#00ff00"/>
<polygon points="431.99,192.05 434.6,196.57 429.38,196.57" fill="#00ff00"/>
<polygon points="433.84,192.19 436.45,196.7 431.23,196.7" fill="#00ff00"/>
<polygon points="435.67,192.47 438.28,196.98 433.06,196.98" fill="#00ff00"/>
<polygon points="437.47,192.91 440.08,197.42 434.86,197.42" fill="#00ff00"/>
<polygon points="439.23,193.49 441.84,198 436.62,198" fill="#00ff00"/>
<polygon points="440.93,194.22 443.55,198.73 438.32,198.73" fill="#00ff00"/>
<polygon points="442.61,195 445.23,199.51 440,199.51" fill="#00ff00"/>
<polygon points="444.29,195.8 446.9,200.31 441.67,200.31" fill="#00ff00"/>
<polygon points="445.95,196.61 448.56,201.12 443.34,201.12" fill="#00ff00"/>
<polygon points="447.61,197.45 450.22,201.96 444.99,201.96" fill="#00ff00"/>
<polygon points="449.24,198.31 451.86,202.82 446.63,202.82" fill="#00ff00"/>
<polygon points="450.86,199.22 453.47,203.73 448.25,203.73" fill="#00ff00"/>
<polygon points="452.44,200.18 455.05,204.7 449.83,204.7" fill="#00ff00"/>
<polygon points="454.01,201.18 456.62,205.69 451.39,205.69" fill="#00ff00"/>
<polygon points="455.56,202.19 458.17,206.7 452.95,206.7" fill="#00ff00"/>
<polygon points="457.12,203.2 459.73,207.71 454.5,207.71" fill="#00ff00"/>
<polygon points="413.58,208.15 416.33,203.4 410.83,203.4" fill="#0000ff"/>
<polygon points="416.24,202.02 418.99,197.27 413.49,197.27" fill="#0000ff"/>
<polygon points="419.31,196.91 422.06,192.16 416.56,192.16" fill="#0000ff"/>
<polygon points="422.37,192.82 425.12,188.07 419.62,188.07" fill="#0000ff"/>
<polygon points="425.44,188.73 428.19,183.98 422.69,183.98" fill="#0000ff"/>
<polygon points="430.55,182.6 433.3,177.85 427.8,177.85" fill="#0000ff"/>
<polygon points="435.66,177.49 438.41,172.74 432.91,172.74" fill="#0000ff"/>
<polygon points="442.81,173 445.56,168.25 440.06,168.25" fill="#0000ff"/>
<polygon points="450.98,168.91 453.73,164.16 448.23,164.16" fill="#0000ff"/>
<polygon points="459.77,164.82 462.52,160.07 457.02,160.07" fill="#0000ff"/>
<polygon points="469.99,161.76 472.74,157.01 467.24,157.01" fill="#0000ff"/>
<polygon points="481.03,159.1 483.78,154.35 478.28,154.35" fill="#0000ff"/>
<polygon points="492.47,157.46 495.22,152.71 489.72,152.71" fill="#0000ff"/>
<polygon points="504.12,156.65 506.87,151.9 501.37,151.9" fill="#0000ff"/>
<polygon points="515.77,156.65 518.52,151.9 513.02,151.9" fill="#0000ff"/>
<polygon points="527.22,157.06 529.97,152.31 524.47,152.31" fill="#0000ff"/>
<polygon points="538.25,157.46 541,152.71 535.5,152.71" fill="#0000ff"/>
<polygon points="549.78,159.55 552.53,154.8 547.03,154.8" fill="#0000ff"/>
<polygon points="559.64,161.13 562.39,156.38 556.89,156.38" fill="#0000ff"/>
<polygon points="569.49,163.1 572.24,158.35 566.74,158.35" fill="#0000ff"/>
<polygon points="579.35,165.47 582.1,160.72 576.6,160.72" fill="#0000ff"/>
<polygon points="587.23,168.22 589.98,163.47 584.48,163.47" fill="#0000ff"/>
<polygon points="595.11,171.38 597.86,166.63 592.36,166.63" fill="#0000ff"/>
<polygon points="603,174.53 605.75,169.78 600.25,169.78" fill="#0000ff"/>
<polygon points="610.88,177.68 613.63,172.93 608.13,172.93" fill="#0000ff"/>
<polygon points="618.76,180.84 621.51,176.09 616.01,176.09" fill="#0000ff"/>
<polygon points="623.89,186.36 626.64,181.61 621.14,181.61" fill="#0000ff"/>
<polygon points="626.65,192.66 629.4,187.91 623.9,187.91" fill="#0000ff"/>
<polygon points="628.62,197.79 631.37,193.04 625.87,193.04" fill="#0000ff"/>
<polygon points="630.59,199.76 633.34,195.01 627.84,195.01" fill="#0000ff"/>
<polygon points="635.71,200.55 638.46,195.8 632.96,195.8" fill="#0000ff"/>
<polygon points="413.58,202.4 416.58,205.4 413.58,208.4 410.58,205.4" fill="#00ffff"/>
<polygon points="416.24,198.52 419.24,201.52 416.24,204.52 413.24,201.52" fill="#00ffff"/>
<polygon points="419.31,194.63 422.31,197.63 419.31,200.63 416.31,197.63" fill="#00ffff"/>
<polygon points="422.78,190.55 425.78,193.55 422.78,196.55 419.78,193.55" fill="#00ffff"/>
<polygon points="426.46,187.07 429.46,190.07 426.46,193.07 423.46,190.07" fill="#00ffff"/>
<polygon points="430.55,183.6 433.55,186.6 430.55,189.6 427.55,186.6" fill="#00ffff"/>
<polygon points="434.63,180.74 437.63,183.74 434.63,186.74 431.63,183.74" fill="#00ffff"/>
<polygon points="438.72,178.9 441.72,181.9 438.72,184.9 435.72,181.9" fill="#00ffff"/>
<polygon points="443.83,176.85 446.83,179.85 443.83,182.85 440.83,179.85" fill="#00ffff"/>
<polygon points="449.96,175.22 452.96,178.22 449.96,181.22 446.96,178.22" fill="#00ffff"/>
<polygon points="457.73,173.38 460.73,176.38 457.73,179.38 454.73,176.38" fill="#00ffff"/>
<polygon points="465.29,172.15 468.29,175.15 465.29,178.15 462.29,175.15" fill="#00ffff"/>
<polygon points="472.03,171.74 475.03,174.74 472.03,177.74 469.03,174.74" fill="#00ffff"/>
<polygon points="478.98,171.33 481.98,174.33 478.98,177.33 475.98,174.33" fill="#00ffff"/>
<polygon points="485.73,172.15 488.73,175.15 485.73,178.15 482.73,175.15" fill="#00ffff"/>
<polygon points="492.88,173.79 495.88,176.79 492.88,179.79 489.88,176.79" fill="#00ffff"/>
<polygon points="500.03,175.42 503.03,178.42 500.03,181.42 497.03,178.42" fill="#00ffff"/>
<polygon points="505.14,176.85 508.14,179.85 505.14,182.85 502.14,179.85" fill="#00ffff"/>
<polygon points="510.25,179.92 513.25,182.92 510.25,185.92 507.25,182.92" fill="#00ffff"/>
<polygon points="515.36,184.41 518.36,187.41 515.36,190.41 512.36,187.41" fill="#00ffff"/>
<polygon points="521.49,187.07 524.49,190.07 521.49,193.07 518.49,190.07" fill="#00ffff"/>
<polygon points="527.62,189.73 530.62,192.73 527.62,195.73 524.62,192.73" fill="#00ffff"/>
<polygon points="532.73,192.18 535.73,195.18 532.73,198.18 529.73,195.18" fill="#00ffff"/>
<polygon points="535.8,196.27 538.8,199.27 535.8,202.27 532.8,199.27" fill="#00ffff"/>
<polygon points="536.82,200.36 539.82,203.36 536.82,206.36 533.82,203.36" fill="#00ffff"/>
<polygon points="532.73,204.44 535.73,207.44 532.73,210.44 529.73,207.44" fill="#00ffff"/>
<polyline points="413.58,205.4 413.76,205.12 413.99,204.73 414.27,204.28 414.58,203.79 414.9,203.34 415.22,202.95 415.53,202.62 415.85,202.33 416.19,202.07 416.54,201.81 416.89,201.56 417.26,201.31 417.65,201.05 418.04,200.79 418.45,200.53 418.87,200.29 419.29,200.07 419.71,199.88 420.14,199.72 420.57,199.59 421.01,199.49 421.45,199.4 421.9,199.33 422.37,199.27 422.87,199.23 423.4,199.21 423.94,199.2 424.48,199.22 424.98,199.24 425.44,199.27 425.83,199.31 426.16,199.36 426.46,199.42 426.76,199.5 427.09,199.58 427.48,199.68 427.93,199.78 428.43,199.9 428.95,200.03 429.49,200.18 430.02,200.33 430.55,200.49 431.03,200.67 431.49,200.84 431.95,201.03 432.44,201.24 432.98,201.46 433.61,201.72 434.37,202.01 435.25,202.34 436.19,202.69 437.12,203.05 437.99,203.41 438.72,203.76 439.34,204.13 439.89,204.52 440.37,204.91 440.78,205.28 441.12,205.59 441.38,205.81" fill="none" stroke="#ff00ff" stroke-width="3.0" stroke-linejoin="round" stroke-linecap="round" />
<polygon points="410.97,205.4 415.48,202.79 415.48,208.01" fill="#ff00ff"/>
<polygon points="411.95,203.82 416.47,201.21 416.47,206.43" fill="#ff00ff"/>
<polygon points="413.16,202.41 417.67,199.8 417.67,205.02" fill="#ff00ff"/>
<polygon points="414.66,201.31 419.17,198.69 419.17,203.92" fill="#ff00ff"/>
<polygon points="416.23,200.31 420.74,197.69 420.74,202.92" fill="#ff00ff"/>
<polygon points="417.95,199.6 422.46,196.98 422.46,202.21" fill="#ff00ff"/>
<polygon points="419.78,199.27 424.29,196.65 424.29,201.88" fill="#ff00ff"/>
<polygon points="421.64,199.21 426.15,196.6 426.15,201.82" fill="#ff00ff"/>
<polygon points="423.49,199.35 428,196.74 428,201.96" fill="#ff00ff"/>
<polygon points="425.3,199.78 429.82,197.17 429.82,202.39" fill="#ff00ff"/>
<polygon points="427.11,200.24 431.62,197.63 431.62,202.86" fill="#ff00ff"/>
<polygon points="428.87,200.84 433.38,198.23 433.38,203.45" fill="#ff00ff"/>
<polygon points="430.59,201.55 435.1,198.94 435.1,204.17" fill="#ff00ff"/>
<polygon points="432.33,202.22 436.84,199.61 436.84,204.84" fill="#ff00ff"/>
<polygon points="434.07,202.88 438.58,200.27 438.58,205.49" fill="#ff00ff"/>
<polygon points="435.78,203.61 440.29,201 440.29,206.22" fill="#ff00ff"/>
<polygon points="437.36,204.59 441.87,201.98 441.87,207.2" fill="#ff00ff"/>
<polygon points="438.77,205.81 443.28,203.2 443.28,208.42" fill="#ff00ff"/>
<polyline points="413.58,205.4 413.98,204.83 414.52,204.04 415.17,203.1 415.87,202.11 416.58,201.14 417.26,200.29 417.92,199.53 418.59,198.79 419.28,198.08 419.97,197.41 420.66,196.78 421.35,196.2 422.03,195.69 422.71,195.23 423.39,194.81 424.07,194.43 424.76,194.08 425.44,193.75 426.11,193.45 426.76,193.17 427.42,192.93 428.09,192.71 428.78,192.51 429.52,192.32 430.32,192.14 431.15,191.97 432.02,191.82 432.89,191.69 433.77,191.58 434.63,191.5 435.49,191.45 436.34,191.42 437.19,191.41 438.04,191.43 438.89,191.46 439.74,191.5 440.6,191.56 441.45,191.63 442.3,191.72 443.15,191.83 444,191.96 444.85,192.12 445.67,192.28 446.44,192.45 447.22,192.64 448.03,192.87 448.93,193.17 449.96,193.55 451.15,194.02 452.46,194.59 453.86,195.22 455.3,195.88 456.74,196.56 458.14,197.22 459.54,197.89 460.98,198.57 462.42,199.27 463.81,199.96 465.13,200.65 466.31,201.31 467.4,201.99 468.43,202.7 469.38,203.41 470.21,204.05 470.9,204.6 471.42,204.99" fill="none" stroke="#808000" stroke-width="3.0" stroke-linejoin="round" stroke-linecap="round" />
<polygon points="416.2,205.4 411.68,202.79 411.68,208.01" fill="#808000"/>
<polygon points="417.24,203.88 412.73,201.27 412.73,206.49" fill="#808000"/>
<polygon points="418.3,202.37 413.78,199.76 413.78,204.98" fill="#808000"/>
<polygon points="419.4,200.89 414.88,198.28 414.88,203.5" fill="#808000"/>
<polygon points="420.58,199.48 416.07,196.87 416.07,202.09" fill="#808000"/>
<polygon points="421.84,198.13 417.33,195.52 417.33,200.75" fill="#808000"/>
<polygon points="423.18,196.87 418.67,194.25 418.67,199.48" fill="#808000"/>
<polygon points="424.62,195.71 420.1,193.1 420.1,198.32" fill="#808000"/>
<polygon points="426.17,194.72 421.66,192.11 421.66,197.33" fill="#808000"/>
<polygon points="427.8,193.87 423.29,191.26 423.29,196.48" fill="#808000"/>
<polygon points="429.49,193.13 424.98,190.52 424.98,195.74" fill="#808000"/>
<polygon points="431.24,192.56 426.73,189.94 426.73,195.17" fill="#808000"/>
<polygon points="433.03,192.12 428.52,189.5 428.52,194.73" fill="#808000"/>
<polygon points="434.85,191.79 430.34,189.18 430.34,194.4" fill="#808000"/>
<polygon points="436.68,191.56 432.16,188.94 432.16,194.17" fill="#808000"/>
<polygon points="438.52,191.43 434,188.82 434,194.05" fill="#808000"/>
<polygon points="440.36,191.42 435.85,188.81 435.85,194.03" fill="#808000"/>
<polygon points="442.2,191.49 437.69,188.88 437.69,194.11" fill="#808000"/>
<polygon points="444.04,191.63 439.53,189.02 439.53,194.24" fill="#808000"/>
<polygon points="445.87,191.84 441.36,189.23 441.36,194.46" fill="#808000"/>
<polygon points="447.69,192.16 443.17,189.55 443.17,194.77" fill="#808000"/>
<polygon points="449.49,192.55 444.97,189.94 444.97,195.17" fill="#808000"/>
<polygon points="451.26,193.07 446.74,190.46 446.74,195.69" fill="#808000"/>
<polygon points="452.98,193.71 448.47,191.1 448.47,196.32" fill="#808000"/>
<polygon points="454.69,194.42 450.17,191.81 450.17,197.04" fill="#808000"/>
<polygon points="456.37,195.17 451.86,192.56 451.86,197.79" fill="#808000"/>
<polygon points="458.04,195.95 453.53,193.33 453.53,198.56" fill="#808000"/>
<polygon points="459.71,196.73 455.2,194.12 455.2,199.34" fill="#808000"/>
<polygon points="461.38,197.52 456.86,194.91 456.86,200.13" fill="#808000"/>
<polygon points="463.04,198.31 458.53,195.7 458.53,200.92" fill="#808000"/>
<polygon points="464.7,199.11 460.19,196.5 460.19,201.72" fill="#808000"/>
<polygon points="466.36,199.93 461.84,197.32 461.84,202.54" fill="#808000"/>
<polygon points="467.99,200.79 463.47,198.18 463.47,203.4" fill="#808000"/>
<polygon points="469.58,201.72 465.07,199.11 465.07,204.33" fill="#808000"/>
<polygon points="471.11,202.75 466.59,200.14 466.59,205.36" fill="#808000"/>
<polygon points="472.58,203.86 468.06,201.25 468.06,206.47" fill="#808000"/>
<polygon points="474.03,204.99 469.52,202.38 469.52,207.6" fill="#808000"/>
<polyline points="412.52,205.93 412.65,205.78 412.84,205.57 413.06,205.32 413.3,205.06 413.54,204.8 413.77,204.58 413.97,204.39 414.15,204.22 414.34,204.05 414.55,203.88 414.8,203.7 415.1,203.5 415.45,203.27 415.85,203 416.29,202.72 416.75,202.45 417.25,202.21 417.76,202.02 418.3,201.88 418.89,201.77 419.49,201.69 420.11,201.65 420.73,201.64 421.33,201.69 421.92,201.78 422.51,201.93 423.09,202.13 423.67,202.35 424.25,202.59 424.83,202.83 425.43,203.1 426.06,203.4 426.69,203.72 427.29,204.03 427.84,204.33 428.32,204.58 428.72,204.8 429.07,204.99 429.37,205.16 429.62,205.31 429.82,205.43 429.98,205.52" fill="none" stroke="#800080" stroke-width="3.2" stroke-linejoin="round" stroke-linecap="round" />
<circle cx="412.52" cy="205.93" r="2.5" fill="#800080"/>
<circle cx="413.87" cy="204.49" r="2.5" fill="#800080"/>
<circle cx="415.43" cy="203.28" r="2.5" fill="#800080"/>
<circle cx="417.12" cy="202.27" r="2.5" fill="#800080"/>
<circle cx="419.01" cy="201.75" r="2.5" fill="#800080"/>
<circle cx="420.98" cy="201.66" r="2.5" fill="#800080"/>
<circle cx="422.9" cy="202.07" r="2.5" fill="#800080"/>
<circle cx="424.74" cy="202.79" r="2.5" fill="#800080"/>
<circle cx="426.52" cy="203.63" r="2.5" fill="#800080"/>
<circle cx="428.27" cy="204.55" r="2.5" fill="#800080"/>
<circle cx="429.98" cy="205.52" r="2.5" fill="#800080"/>
</g>
<text x="326.8" y="20.8" font-family='"Liberation Serif", serif' font-size="29" font-weight="bold" font-style="normal" text-anchor="start" >(b)</text>
<text x="514.2" y="251.5" font-family='"Liberation Serif", serif' font-size="14.5" font-weight="bold" font-style="normal" text-anchor="middle" textLength="99.3" lengthAdjust="spacingAndGlyphs" >Z<tspan font-size="9.43" dy="3">re</tspan><tspan dy="-3"> (Ohm·cm</tspan><tspan font-size="9.43" dy="-6">2</tspan><tspan dy="6">)</tspan></text>
<text x="0" y="0" font-family='"Liberation Serif", serif' font-size="16.2" font-weight="bold" font-style="normal" text-anchor="middle" textLength="112" lengthAdjust="spacingAndGlyphs" transform="translate(354.4,106) rotate(-90)">-Z<tspan font-size="10.53" dy="3">img</tspan><tspan dy="-3">(Ohm·cm</tspan><tspan font-size="10.53" dy="-6">2</tspan><tspan dy="6">)</tspan></text>
<rect x="536.1" y="12.6" width="4.4" height="4.4" fill="#000000"/>
<text x="554.6" y="18.4" font-family='"Liberation Serif", serif' font-size="10.8" font-weight="bold" font-style="normal" text-anchor="start" >Blank</text>
<polygon points="604.7,12.16 607.34,14.8 604.7,17.44 602.06,14.8" fill="#00ffff"/>
<text x="620" y="18.4" font-family='"Liberation Serif", serif' font-size="10.8" font-weight="bold" font-style="normal" text-anchor="start" >HCTZ</text>
<circle cx="538.3" cy="29.1" r="2.2" fill="#ff0000"/>
<text x="554.6" y="32.7" font-family='"Liberation Serif", serif' font-size="10.8" font-weight="bold" font-style="normal" text-anchor="start" >LK</text>
<polygon points="601.88,29.1 606.06,26.68 606.06,31.52" fill="#ff00ff"/>
<text x="621" y="32.7" font-family='"Liberation Serif", serif' font-size="10.8" font-weight="bold" font-style="normal" text-anchor="start" >VLA</text>
<polygon points="538.3,40.38 540.72,44.56 535.88,44.56" fill="#00ff00"/>
<text x="554.6" y="46.4" font-family='"Liberation Serif", serif' font-size="10.8" font-weight="bold" font-style="normal" text-anchor="start" >ATEN</text>
<polygon points="609.12,42.8 604.94,40.38 604.94,45.22" fill="#808000"/>
<text x="622" y="46.4" font-family='"Liberation Serif", serif' font-size="10.8" font-weight="bold" font-style="normal" text-anchor="start" >FUR</text>
<polygon points="538.3,59.52 540.72,55.34 535.88,55.34" fill="#0000ff"/>
<text x="554.6" y="60.7" font-family='"Liberation Serif", serif' font-size="10.8" font-weight="bold" font-style="normal" text-anchor="start" >NF</text>
<circle cx="606.7" cy="57.1" r="2.2" fill="#800080"/>
<text x="622" y="60.7" font-family='"Liberation Serif", serif' font-size="10.8" font-weight="bold" font-style="normal" text-anchor="start" >CAP</text>
<rect x="404" y="513.2" width="266" height="214.5" fill="none" stroke="#2a2a2a" stroke-width="1.3"/>
<line x1="400" y1="714.4" x2="404" y2="714.4" stroke="#2a2a2a" stroke-width="1.3"/>
<text x="396" y="718.3" font-family='"Liberation Serif", serif' font-size="11.4" font-weight="bold" font-style="normal" text-anchor="end" textLength="5.45" lengthAdjust="spacingAndGlyphs" >0</text>
<line x1="401.8" y1="694.3" x2="404" y2="694.3" stroke="#2a2a2a" stroke-width="1.3"/>
<line x1="400" y1="674.2" x2="404" y2="674.2" stroke="#2a2a2a" stroke-width="1.3"/>
<text x="396" y="678.1" font-family='"Liberation Serif", serif' font-size="11.4" font-weight="bold" font-style="normal" text-anchor="end" textLength="21.8" lengthAdjust="spacingAndGlyphs" >6000</text>
<line x1="401.8" y1="654.1" x2="404" y2="654.1" stroke="#2a2a2a" stroke-width="1.3"/>
<line x1="400" y1="634" x2="404" y2="634" stroke="#2a2a2a" stroke-width="1.3"/>
<text x="396" y="637.9" font-family='"Liberation Serif", serif' font-size="11.4" font-weight="bold" font-style="normal" text-anchor="end" textLength="27.25" lengthAdjust="spacingAndGlyphs" >12000</text>
<line x1="401.8" y1="613.9" x2="404" y2="613.9" stroke="#2a2a2a" stroke-width="1.3"/>
<line x1="400" y1="593.8" x2="404" y2="593.8" stroke="#2a2a2a" stroke-width="1.3"/>
<text x="396" y="597.7" font-family='"Liberation Serif", serif' font-size="11.4" font-weight="bold" font-style="normal" text-anchor="end" textLength="27.25" lengthAdjust="spacingAndGlyphs" >18000</text>
<line x1="401.8" y1="573.7" x2="404" y2="573.7" stroke="#2a2a2a" stroke-width="1.3"/>
<line x1="400" y1="553.6" x2="404" y2="553.6" stroke="#2a2a2a" stroke-width="1.3"/>
<text x="396" y="557.5" font-family='"Liberation Serif", serif' font-size="11.4" font-weight="bold" font-style="normal" text-anchor="end" textLength="27.25" lengthAdjust="spacingAndGlyphs" >24000</text>
<line x1="401.8" y1="533.5" x2="404" y2="533.5" stroke="#2a2a2a" stroke-width="1.3"/>
<line x1="400" y1="513.4" x2="404" y2="513.4" stroke="#2a2a2a" stroke-width="1.3"/>
<text x="396" y="517.3" font-family='"Liberation Serif", serif' font-size="11.4" font-weight="bold" font-style="normal" text-anchor="end" textLength="27.25" lengthAdjust="spacingAndGlyphs" >30000</text>
<line x1="420.4" y1="727.7" x2="420.4" y2="731.7" stroke="#2a2a2a" stroke-width="1.3"/>
<text x="420.4" y="744.2" font-family='"Liberation Serif", serif' font-size="11.4" font-weight="bold" font-style="normal" text-anchor="middle" textLength="5.45" lengthAdjust="spacingAndGlyphs" >0</text>
<line x1="445.33" y1="727.7" x2="445.33" y2="729.9" stroke="#2a2a2a" stroke-width="1.3"/>
<line x1="470.26" y1="727.7" x2="470.26" y2="731.7" stroke="#2a2a2a" stroke-width="1.3"/>
<text x="470.26" y="744.2" font-family='"Liberation Serif", serif' font-size="11.4" font-weight="bold" font-style="normal" text-anchor="middle" textLength="21.8" lengthAdjust="spacingAndGlyphs" >6000</text>
<line x1="495.19" y1="727.7" x2="495.19" y2="729.9" stroke="#2a2a2a" stroke-width="1.3"/>
<line x1="520.12" y1="727.7" x2="520.12" y2="731.7" stroke="#2a2a2a" stroke-width="1.3"/>
<text x="520.12" y="744.2" font-family='"Liberation Serif", serif' font-size="11.4" font-weight="bold" font-style="normal" text-anchor="middle" textLength="27.25" lengthAdjust="spacingAndGlyphs" >12000</text>
<line x1="545.05" y1="727.7" x2="545.05" y2="729.9" stroke="#2a2a2a" stroke-width="1.3"/>
<line x1="569.98" y1="727.7" x2="569.98" y2="731.7" stroke="#2a2a2a" stroke-width="1.3"/>
<text x="569.98" y="744.2" font-family='"Liberation Serif", serif' font-size="11.4" font-weight="bold" font-style="normal" text-anchor="middle" textLength="27.25" lengthAdjust="spacingAndGlyphs" >18000</text>
<line x1="594.91" y1="727.7" x2="594.91" y2="729.9" stroke="#2a2a2a" stroke-width="1.3"/>
<line x1="619.84" y1="727.7" x2="619.84" y2="731.7" stroke="#2a2a2a" stroke-width="1.3"/>
<text x="619.84" y="744.2" font-family='"Liberation Serif", serif' font-size="11.4" font-weight="bold" font-style="normal" text-anchor="middle" textLength="27.25" lengthAdjust="spacingAndGlyphs" >24000</text>
<line x1="644.77" y1="727.7" x2="644.77" y2="729.9" stroke="#2a2a2a" stroke-width="1.3"/>
<line x1="669.7" y1="727.7" x2="669.7" y2="731.7" stroke="#2a2a2a" stroke-width="1.3"/>
<text x="669.7" y="744.2" font-family='"Liberation Serif", serif' font-size="11.4" font-weight="bold" font-style="normal" text-anchor="middle" textLength="27.25" lengthAdjust="spacingAndGlyphs" >30000</text>
<clipPath id="clipF"><rect x="404.0" y="513.2" width="266.0" height="214.5"/></clipPath>
<g clip-path="url(#clipF)">
<polyline points="420.38,713.21 420.78,712.65 421.32,711.87 421.97,710.96 422.67,709.97 423.38,709 424.06,708.12 424.72,707.29 425.39,706.45 426.08,705.62 426.77,704.82 427.46,704.09 428.14,703.44 428.82,702.9 429.5,702.43 430.19,702.03 430.87,701.67 431.55,701.33 432.23,701 432.9,700.68 433.55,700.38 434.21,700.1 434.87,699.84 435.57,699.6 436.31,699.37 437.1,699.16 437.94,698.97 438.8,698.79 439.68,698.63 440.55,698.48 441.42,698.36 442.27,698.25 443.12,698.16 443.97,698.09 444.82,698.03 445.67,697.99 446.52,697.95 447.37,697.92 448.22,697.9 449.07,697.89 449.92,697.89 450.78,697.91 451.63,697.95 452.44,698.01 453.21,698.08 453.99,698.17 454.8,698.27 455.7,698.4 456.73,698.56 457.92,698.74 459.23,698.95 460.62,699.18 462.06,699.43 463.5,699.7 464.9,699.98 466.26,700.28 467.62,700.58 468.98,700.9 470.35,701.24 471.71,701.61 473.07,702.02 474.46,702.47 475.9,702.98 477.34,703.52 478.74,704.06 480.05,704.58 481.24,705.07 482.29,705.51 483.26,705.92 484.13,706.32 484.93,706.7 485.67,707.1 486.34,707.51 486.95,707.94 487.48,708.38 487.94,708.82 488.34,709.27 488.69,709.71 489,710.15 489.26,710.6 489.46,711.04 489.62,711.49 489.73,711.93 489.79,712.37 489.81,712.8 489.76,713.25 489.63,713.72 489.45,714.18 489.27,714.61 489.1,714.98 489,715.24" fill="none" stroke="#000000" stroke-width="3.6" stroke-linejoin="round" stroke-linecap="round" />
<rect x="417.62" y="710.45" width="5.52" height="5.52" fill="#000000"/>
<rect x="418.68" y="708.95" width="5.52" height="5.52" fill="#000000"/>
<rect x="419.74" y="707.45" width="5.52" height="5.52" fill="#000000"/>
<rect x="420.83" y="705.97" width="5.52" height="5.52" fill="#000000"/>
<rect x="421.96" y="704.53" width="5.52" height="5.52" fill="#000000"/>
<rect x="423.11" y="703.1" width="5.52" height="5.52" fill="#000000"/>
<rect x="424.32" y="701.73" width="5.52" height="5.52" fill="#000000"/>
<rect x="425.65" y="700.47" width="5.52" height="5.52" fill="#000000"/>
<rect x="427.16" y="699.43" width="5.52" height="5.52" fill="#000000"/>
<rect x="428.78" y="698.58" width="5.52" height="5.52" fill="#000000"/>
<rect x="430.43" y="697.78" width="5.52" height="5.52" fill="#000000"/>
<rect x="432.13" y="697.08" width="5.52" height="5.52" fill="#000000"/>
<rect x="433.88" y="696.53" width="5.52" height="5.52" fill="#000000"/>
<rect x="435.66" y="696.11" width="5.52" height="5.52" fill="#000000"/>
<rect x="437.47" y="695.78" width="5.52" height="5.52" fill="#000000"/>
<rect x="439.28" y="695.52" width="5.52" height="5.52" fill="#000000"/>
<rect x="441.11" y="695.34" width="5.52" height="5.52" fill="#000000"/>
<rect x="442.94" y="695.23" width="5.52" height="5.52" fill="#000000"/>
<rect x="444.77" y="695.16" width="5.52" height="5.52" fill="#000000"/>
<rect x="446.6" y="695.13" width="5.52" height="5.52" fill="#000000"/>
<rect x="448.43" y="695.17" width="5.52" height="5.52" fill="#000000"/>
<rect x="450.26" y="695.3" width="5.52" height="5.52" fill="#000000"/>
<rect x="452.08" y="695.52" width="5.52" height="5.52" fill="#000000"/>
<rect x="453.9" y="695.79" width="5.52" height="5.52" fill="#000000"/>
<rect x="455.71" y="696.07" width="5.52" height="5.52" fill="#000000"/>
<rect x="457.52" y="696.37" width="5.52" height="5.52" fill="#000000"/>
<rect x="459.33" y="696.68" width="5.52" height="5.52" fill="#000000"/>
<rect x="461.13" y="697.02" width="5.52" height="5.52" fill="#000000"/>
<rect x="462.92" y="697.39" width="5.52" height="5.52" fill="#000000"/>
<rect x="464.72" y="697.79" width="5.52" height="5.52" fill="#000000"/>
<rect x="466.5" y="698.21" width="5.52" height="5.52" fill="#000000"/>
<rect x="468.27" y="698.67" width="5.52" height="5.52" fill="#000000"/>
<rect x="470.04" y="699.18" width="5.52" height="5.52" fill="#000000"/>
<rect x="471.78" y="699.74" width="5.52" height="5.52" fill="#000000"/>
<rect x="473.51" y="700.36" width="5.52" height="5.52" fill="#000000"/>
<rect x="475.22" y="701.01" width="5.52" height="5.52" fill="#000000"/>
<rect x="476.93" y="701.68" width="5.52" height="5.52" fill="#000000"/>
<rect x="478.63" y="702.37" width="5.52" height="5.52" fill="#000000"/>
<rect x="480.32" y="703.08" width="5.52" height="5.52" fill="#000000"/>
<rect x="481.98" y="703.85" width="5.52" height="5.52" fill="#000000"/>
<rect x="483.58" y="704.75" width="5.52" height="5.52" fill="#000000"/>
<rect x="485.01" y="705.9" width="5.52" height="5.52" fill="#000000"/>
<rect x="486.17" y="707.31" width="5.52" height="5.52" fill="#000000"/>
<rect x="486.92" y="708.97" width="5.52" height="5.52" fill="#000000"/>
<rect x="486.92" y="710.78" width="5.52" height="5.52" fill="#000000"/>
<rect x="486.24" y="712.48" width="5.52" height="5.52" fill="#000000"/>
<circle cx="420.38" cy="713.21" r="2.4" fill="#ff0000"/>
<circle cx="422.02" cy="710.15" r="2.4" fill="#ff0000"/>
<circle cx="424.06" cy="707.1" r="2.4" fill="#ff0000"/>
<circle cx="426.51" cy="704.26" r="2.4" fill="#ff0000"/>
<circle cx="429.37" cy="701.41" r="2.4" fill="#ff0000"/>
<circle cx="433.25" cy="698.97" r="2.4" fill="#ff0000"/>
<circle cx="438.35" cy="696.93" r="2.4" fill="#ff0000"/>
<circle cx="444.07" cy="695.92" r="2.4" fill="#ff0000"/>
<circle cx="450.61" cy="695.31" r="2.4" fill="#ff0000"/>
<circle cx="456.73" cy="694.9" r="2.4" fill="#ff0000"/>
<circle cx="462.86" cy="694.09" r="2.4" fill="#ff0000"/>
<circle cx="468.98" cy="693.27" r="2.4" fill="#ff0000"/>
<circle cx="475.11" cy="692.46" r="2.4" fill="#ff0000"/>
<circle cx="481.24" cy="691.44" r="2.4" fill="#ff0000"/>
<circle cx="486.95" cy="690.83" r="2.4" fill="#ff0000"/>
<circle cx="492.47" cy="690.42" r="2.4" fill="#ff0000"/>
<circle cx="497.57" cy="690.42" r="2.4" fill="#ff0000"/>
<circle cx="503.7" cy="690.83" r="2.4" fill="#ff0000"/>
<circle cx="509.82" cy="691.85" r="2.4" fill="#ff0000"/>
<circle cx="514.93" cy="694.49" r="2.4" fill="#ff0000"/>
<circle cx="519.01" cy="696.93" r="2.4" fill="#ff0000"/>
<circle cx="523.1" cy="698.97" r="2.4" fill="#ff0000"/>
<circle cx="525.14" cy="702.02" r="2.4" fill="#ff0000"/>
<circle cx="525.75" cy="706.09" r="2.4" fill="#ff0000"/>
<circle cx="524.73" cy="710.15" r="2.4" fill="#ff0000"/>
<circle cx="521.06" cy="713.21" r="2.4" fill="#ff0000"/>
<circle cx="516.97" cy="715.65" r="2.4" fill="#ff0000"/>
<polyline points="420.38,713.21 420.67,712.79 421.06,712.21 421.52,711.53 422.02,710.81 422.54,710.13 423.04,709.54 423.53,709.06 424.03,708.62 424.54,708.22 425.07,707.84 425.59,707.47 426.1,707.1 426.61,706.73 427.12,706.37 427.63,706.02 428.14,705.69 428.65,705.37 429.16,705.07 429.66,704.79 430.15,704.53 430.63,704.29 431.13,704.07 431.66,703.85 432.23,703.65 432.85,703.44 433.51,703.24 434.21,703.05 434.91,702.88 435.62,702.73 436.31,702.63 436.99,702.56 437.67,702.52 438.35,702.51 439.03,702.53 439.71,702.57 440.4,702.63 441.08,702.71 441.76,702.81 442.44,702.93 443.12,703.08 443.8,703.25 444.48,703.44 445.11,703.64 445.69,703.83 446.27,704.05 446.9,704.32 447.65,704.65 448.56,705.07 449.7,705.6 451.02,706.23 452.46,706.93 453.93,707.66 455.38,708.41 456.73,709.14 458.06,709.91 459.45,710.76 460.82,711.63 462.06,712.44 463.11,713.12 463.88,713.61" fill="none" stroke="#00ff00" stroke-width="3.0" stroke-linejoin="round" stroke-linecap="round" />
<polygon points="420.38,710.7 422.89,715.03 417.88,715.03" fill="#00ff00"/>
<polygon points="421.42,709.17 423.93,713.5 418.91,713.5" fill="#00ff00"/>
<polygon points="422.5,707.67 425.01,712 420,712" fill="#00ff00"/>
<polygon points="423.78,706.33 426.29,710.66 421.27,710.66" fill="#00ff00"/>
<polygon points="425.25,705.2 427.76,709.54 422.74,709.54" fill="#00ff00"/>
<polygon points="426.75,704.13 429.26,708.46 424.24,708.46" fill="#00ff00"/>
<polygon points="428.28,703.09 430.79,707.42 425.78,707.42" fill="#00ff00"/>
<polygon points="429.88,702.17 432.39,706.5 427.38,706.5" fill="#00ff00"/>
<polygon points="431.56,701.38 434.07,705.72 429.05,705.72" fill="#00ff00"/>
<polygon points="433.31,700.79 435.82,705.12 430.8,705.12" fill="#00ff00"/>
<polygon points="435.1,700.33 437.61,704.66 432.6,704.66" fill="#00ff00"/>
<polygon points="436.93,700.06 439.44,704.39 434.42,704.39" fill="#00ff00"/>
<polygon points="438.78,700.02 441.29,704.35 436.27,704.35" fill="#00ff00"/>
<polygon points="440.63,700.15 443.13,704.48 438.12,704.48" fill="#00ff00"/>
<polygon points="442.45,700.43 444.96,704.76 439.95,704.76" fill="#00ff00"/>
<polygon points="444.25,700.87 446.76,705.2 441.74,705.2" fill="#00ff00"/>
<polygon points="446.01,701.45 448.51,705.78 443.5,705.78" fill="#00ff00"/>
<polygon points="447.71,702.17 450.22,706.5 445.2,706.5" fill="#00ff00"/>
<polygon points="449.39,702.95 451.9,707.28 446.88,707.28" fill="#00ff00"/>
<polygon points="451.06,703.74 453.57,708.07 448.55,708.07" fill="#00ff00"/>
<polygon points="452.72,704.55 455.23,708.88 450.21,708.88" fill="#00ff00"/>
<polygon points="454.38,705.38 456.88,709.71 451.87,709.71" fill="#00ff00"/>
<polygon points="456.01,706.24 458.52,710.57 453.51,710.57" fill="#00ff00"/>
<polygon points="457.63,707.15 460.13,711.48 455.12,711.48" fill="#00ff00"/>
<polygon points="459.21,708.11 461.72,712.44 456.7,712.44" fill="#00ff00"/>
<polygon points="460.77,709.09 463.28,713.43 458.26,713.43" fill="#00ff00"/>
<polygon points="462.33,710.1 464.83,714.43 459.82,714.43" fill="#00ff00"/>
<polygon points="463.88,711.1 466.39,715.44 461.37,715.44" fill="#00ff00"/>
<polygon points="420.38,715.85 423.02,711.29 417.74,711.29" fill="#0000ff"/>
<polygon points="423.04,709.74 425.68,705.18 420.4,705.18" fill="#0000ff"/>
<polygon points="426.1,704.66 428.74,700.1 423.46,700.1" fill="#0000ff"/>
<polygon points="429.16,700.59 431.8,696.03 426.52,696.03" fill="#0000ff"/>
<polygon points="432.23,696.52 434.87,691.96 429.59,691.96" fill="#0000ff"/>
<polygon points="437.33,690.42 439.97,685.86 434.69,685.86" fill="#0000ff"/>
<polygon points="442.44,685.33 445.08,680.77 439.8,680.77" fill="#0000ff"/>
<polygon points="449.58,680.86 452.22,676.3 446.94,676.3" fill="#0000ff"/>
<polygon points="457.75,676.79 460.39,672.23 455.11,672.23" fill="#0000ff"/>
<polygon points="466.53,672.72 469.17,668.16 463.89,668.16" fill="#0000ff"/>
<polygon points="476.74,669.67 479.38,665.11 474.1,665.11" fill="#0000ff"/>
<polygon points="487.77,667.03 490.41,662.47 485.13,662.47" fill="#0000ff"/>
<polygon points="499.21,665.4 501.85,660.84 496.57,660.84" fill="#0000ff"/>
<polygon points="510.85,664.59 513.49,660.03 508.21,660.03" fill="#0000ff"/>
<polygon points="522.48,664.59 525.12,660.03 519.84,660.03" fill="#0000ff"/>
<polygon points="533.92,664.99 536.56,660.43 531.28,660.43" fill="#0000ff"/>
<polygon points="544.95,665.4 547.59,660.84 542.31,660.84" fill="#0000ff"/>
<polygon points="556.47,667.48 559.11,662.92 553.83,662.92" fill="#0000ff"/>
<polygon points="566.31,669.05 568.95,664.49 563.67,664.49" fill="#0000ff"/>
<polygon points="576.16,671.01 578.8,666.45 573.52,666.45" fill="#0000ff"/>
<polygon points="586.01,673.36 588.65,668.8 583.37,668.8" fill="#0000ff"/>
<polygon points="593.88,676.11 596.52,671.55 591.24,671.55" fill="#0000ff"/>
<polygon points="601.76,679.25 604.4,674.69 599.12,674.69" fill="#0000ff"/>
<polygon points="609.64,682.39 612.28,677.83 607,677.83" fill="#0000ff"/>
<polygon points="617.51,685.53 620.15,680.97 614.87,680.97" fill="#0000ff"/>
<polygon points="625.39,688.66 628.03,684.1 622.75,684.1" fill="#0000ff"/>
<polygon points="630.51,694.16 633.15,689.6 627.87,689.6" fill="#0000ff"/>
<polygon points="633.27,700.43 635.91,695.87 630.63,695.87" fill="#0000ff"/>
<polygon points="635.24,705.53 637.88,700.97 632.6,700.97" fill="#0000ff"/>
<polygon points="637.2,707.49 639.84,702.93 634.56,702.93" fill="#0000ff"/>
<polygon points="642.32,708.28 644.96,703.72 639.68,703.72" fill="#0000ff"/>
<polygon points="420.38,710.33 423.26,713.21 420.38,716.09 417.5,713.21" fill="#00ffff"/>
<polygon points="423.04,706.46 425.92,709.34 423.04,712.22 420.16,709.34" fill="#00ffff"/>
<polygon points="426.1,702.6 428.98,705.48 426.1,708.36 423.22,705.48" fill="#00ffff"/>
<polygon points="429.57,698.53 432.45,701.41 429.57,704.29 426.69,701.41" fill="#00ffff"/>
<polygon points="433.25,695.07 436.13,697.95 433.25,700.83 430.37,697.95" fill="#00ffff"/>
<polygon points="437.33,691.61 440.21,694.49 437.33,697.37 434.45,694.49" fill="#00ffff"/>
<polygon points="441.42,688.76 444.3,691.64 441.42,694.52 438.54,691.64" fill="#00ffff"/>
<polygon points="445.5,686.93 448.38,689.81 445.5,692.69 442.62,689.81" fill="#00ffff"/>
<polygon points="450.61,684.9 453.49,687.78 450.61,690.66 447.73,687.78" fill="#00ffff"/>
<polygon points="456.73,683.27 459.61,686.15 456.73,689.03 453.85,686.15" fill="#00ffff"/>
<polygon points="464.49,681.44 467.37,684.32 464.49,687.2 461.61,684.32" fill="#00ffff"/>
<polygon points="472.05,680.22 474.93,683.1 472.05,685.98 469.17,683.1" fill="#00ffff"/>
<polygon points="478.79,679.81 481.67,682.69 478.79,685.57 475.91,682.69" fill="#00ffff"/>
<polygon points="485.73,679.41 488.61,682.29 485.73,685.17 482.85,682.29" fill="#00ffff"/>
<polygon points="492.47,680.22 495.35,683.1 492.47,685.98 489.59,683.1" fill="#00ffff"/>
<polygon points="499.61,681.85 502.49,684.73 499.61,687.61 496.73,684.73" fill="#00ffff"/>
<polygon points="506.76,683.48 509.64,686.36 506.76,689.24 503.88,686.36" fill="#00ffff"/>
<polygon points="511.87,684.9 514.75,687.78 511.87,690.66 508.99,687.78" fill="#00ffff"/>
<polygon points="516.97,687.95 519.85,690.83 516.97,693.71 514.09,690.83" fill="#00ffff"/>
<polygon points="522.08,692.43 524.96,695.31 522.08,698.19 519.2,695.31" fill="#00ffff"/>
<polygon points="528.2,695.07 531.08,697.95 528.2,700.83 525.32,697.95" fill="#00ffff"/>
<polygon points="534.33,697.71 537.21,700.59 534.33,703.47 531.45,700.59" fill="#00ffff"/>
<polygon points="539.43,700.16 542.31,703.04 539.43,705.92 536.55,703.04" fill="#00ffff"/>
<polygon points="542.5,704.22 545.38,707.1 542.5,709.98 539.62,707.1" fill="#00ffff"/>
<polygon points="543.52,708.29 546.4,711.17 543.52,714.05 540.64,711.17" fill="#00ffff"/>
<polygon points="539.43,712.36 542.31,715.24 539.43,718.12 536.55,715.24" fill="#00ffff"/>
<polyline points="420.38,713.21 420.56,712.93 420.79,712.54 421.07,712.09 421.38,711.61 421.7,711.15 422.02,710.76 422.33,710.44 422.65,710.15 422.99,709.89 423.33,709.63 423.69,709.39 424.06,709.14 424.44,708.88 424.84,708.62 425.25,708.36 425.66,708.12 426.08,707.9 426.51,707.71 426.94,707.56 427.36,707.43 427.8,707.32 428.24,707.23 428.7,707.16 429.16,707.1 429.66,707.06 430.19,707.04 430.73,707.04 431.27,707.05 431.77,707.07 432.23,707.1 432.62,707.14 432.95,707.19 433.25,707.26 433.55,707.33 433.88,707.41 434.27,707.51 434.72,707.62 435.21,707.74 435.74,707.87 436.27,708.01 436.81,708.16 437.33,708.32 437.82,708.49 438.28,708.67 438.74,708.86 439.22,709.06 439.77,709.29 440.4,709.54 441.16,709.84 442.04,710.16 442.97,710.51 443.9,710.87 444.77,711.23 445.5,711.58 446.12,711.94 446.67,712.33 447.15,712.72 447.56,713.08 447.89,713.39 448.16,713.61" fill="none" stroke="#ff00ff" stroke-width="3.0" stroke-linejoin="round" stroke-linecap="round" />
<polygon points="417.88,713.21 422.21,710.7 422.21,715.71" fill="#ff00ff"/>
<polygon points="418.86,711.63 423.19,709.12 423.19,714.14" fill="#ff00ff"/>
<polygon points="420.07,710.22 424.4,707.72 424.4,712.73" fill="#ff00ff"/>
<polygon points="421.57,709.13 425.9,706.62 425.9,711.63" fill="#ff00ff"/>
<polygon points="423.14,708.13 427.47,705.62 427.47,710.64" fill="#ff00ff"/>
<polygon points="424.85,707.43 429.18,704.92 429.18,709.94" fill="#ff00ff"/>
<polygon points="426.68,707.1 431.01,704.59 431.01,709.61" fill="#ff00ff"/>
<polygon points="428.54,707.05 432.87,704.54 432.87,709.55" fill="#ff00ff"/>
<polygon points="430.39,707.19 434.72,704.68 434.72,709.69" fill="#ff00ff"/>
<polygon points="432.2,707.61 436.53,705.11 436.53,710.12" fill="#ff00ff"/>
<polygon points="434,708.07 438.33,705.57 438.33,710.58" fill="#ff00ff"/>
<polygon points="435.76,708.67 440.09,706.16 440.09,711.17" fill="#ff00ff"/>
<polygon points="437.48,709.38 441.81,706.87 441.81,711.89" fill="#ff00ff"/>
<polygon points="439.21,710.04 443.54,707.54 443.54,712.55" fill="#ff00ff"/>
<polygon points="440.95,710.7 445.28,708.19 445.28,713.21" fill="#ff00ff"/>
<polygon points="442.66,711.42 447,708.91 447,713.93" fill="#ff00ff"/>
<polygon points="444.24,712.4 448.57,709.89 448.57,714.91" fill="#ff00ff"/>
<polygon points="445.65,713.61 449.98,711.1 449.98,716.12" fill="#ff00ff"/>
<polyline points="420.38,713.21 420.78,712.64 421.32,711.85 421.97,710.92 422.67,709.93 423.38,708.97 424.06,708.12 424.72,707.36 425.39,706.63 426.08,705.92 426.77,705.25 427.46,704.62 428.14,704.05 428.82,703.54 429.5,703.08 430.19,702.67 430.87,702.29 431.55,701.94 432.23,701.61 432.9,701.31 433.55,701.04 434.21,700.8 434.87,700.58 435.57,700.38 436.31,700.19 437.1,700.01 437.94,699.84 438.8,699.69 439.68,699.56 440.55,699.46 441.42,699.37 442.27,699.32 443.12,699.29 443.97,699.28 444.82,699.3 445.67,699.33 446.52,699.37 447.37,699.43 448.22,699.5 449.07,699.59 449.92,699.7 450.78,699.83 451.63,699.98 452.44,700.15 453.21,700.32 453.99,700.51 454.8,700.74 455.7,701.03 456.73,701.41 457.92,701.88 459.23,702.45 460.62,703.07 462.06,703.74 463.5,704.41 464.9,705.07 466.3,705.73 467.74,706.41 469.18,707.1 470.57,707.8 471.88,708.48 473.07,709.14 474.15,709.81 475.19,710.52 476.13,711.22 476.96,711.86 477.65,712.4 478.17,712.8" fill="none" stroke="#808000" stroke-width="3.0" stroke-linejoin="round" stroke-linecap="round" />
<polygon points="422.89,713.21 418.56,710.7 418.56,715.71" fill="#808000"/>
<polygon points="423.94,711.69 419.61,709.18 419.61,714.2" fill="#808000"/>
<polygon points="424.99,710.18 420.66,707.68 420.66,712.69" fill="#808000"/>
<polygon points="426.1,708.71 421.76,706.2 421.76,711.22" fill="#808000"/>
<polygon points="427.28,707.3 422.95,704.79 422.95,709.81" fill="#808000"/>
<polygon points="428.54,705.96 424.21,703.46 424.21,708.47" fill="#808000"/>
<polygon points="429.88,704.7 425.55,702.19 425.55,707.21" fill="#808000"/>
<polygon points="431.32,703.55 426.99,701.04 426.99,706.06" fill="#808000"/>
<polygon points="432.87,702.57 428.54,700.06 428.54,705.08" fill="#808000"/>
<polygon points="434.51,701.72 430.17,699.21 430.17,704.23" fill="#808000"/>
<polygon points="436.19,700.99 431.86,698.48 431.86,703.5" fill="#808000"/>
<polygon points="437.94,700.42 433.61,697.91 433.61,702.93" fill="#808000"/>
<polygon points="439.73,699.98 435.4,697.48 435.4,702.49" fill="#808000"/>
<polygon points="441.54,699.66 437.21,697.15 437.21,702.17" fill="#808000"/>
<polygon points="443.37,699.43 439.04,696.92 439.04,701.93" fill="#808000"/>
<polygon points="445.2,699.31 440.87,696.8 440.87,701.81" fill="#808000"/>
<polygon points="447.04,699.29 442.71,696.79 442.71,701.8" fill="#808000"/>
<polygon points="448.88,699.37 444.55,696.86 444.55,701.87" fill="#808000"/>
<polygon points="450.72,699.5 446.39,696.99 446.39,702.01" fill="#808000"/>
<polygon points="452.55,699.72 448.21,697.21 448.21,702.22" fill="#808000"/>
<polygon points="454.36,700.03 450.03,697.52 450.03,702.54" fill="#808000"/>
<polygon points="456.16,700.42 451.82,697.91 451.82,702.93" fill="#808000"/>
<polygon points="457.92,700.94 453.59,698.43 453.59,703.45" fill="#808000"/>
<polygon points="459.65,701.57 455.32,699.06 455.32,704.08" fill="#808000"/>
<polygon points="461.35,702.28 457.02,699.77 457.02,704.79" fill="#808000"/>
<polygon points="463.03,703.03 458.7,700.52 458.7,705.54" fill="#808000"/>
<polygon points="464.7,703.8 460.37,701.29 460.37,706.3" fill="#808000"/>
<polygon points="466.37,704.58 462.04,702.07 462.04,707.09" fill="#808000"/>
<polygon points="468.03,705.36 463.7,702.86 463.7,707.87" fill="#808000"/>
<polygon points="469.7,706.15 465.36,703.64 465.36,708.66" fill="#808000"/>
<polygon points="471.36,706.95 467.02,704.44 467.02,709.45" fill="#808000"/>
<polygon points="473.01,707.76 468.67,705.25 468.67,710.27" fill="#808000"/>
<polygon points="474.64,708.61 470.3,706.11 470.3,711.12" fill="#808000"/>
<polygon points="476.23,709.54 471.89,707.03 471.89,712.05" fill="#808000"/>
<polygon points="477.75,710.57 473.42,708.06 473.42,713.08" fill="#808000"/>
<polygon points="479.22,711.67 474.89,709.17 474.89,714.18" fill="#808000"/>
<polygon points="480.68,712.8 476.35,710.29 476.35,715.31" fill="#808000"/>
<polyline points="419.32,713.73 419.45,713.58 419.64,713.37 419.86,713.13 420.1,712.87 420.34,712.61 420.57,712.39 420.77,712.2 420.95,712.03 421.14,711.86 421.35,711.7 421.6,711.52 421.9,711.32 422.25,711.08 422.65,710.81 423.09,710.53 423.55,710.27 424.04,710.03 424.55,709.84 425.1,709.71 425.68,709.59 426.29,709.51 426.91,709.47 427.53,709.47 428.13,709.51 428.71,709.61 429.3,709.76 429.88,709.95 430.46,710.17 431.04,710.41 431.62,710.65 432.22,710.91 432.85,711.21 433.48,711.53 434.08,711.85 434.63,712.14 435.11,712.39 435.51,712.6 435.86,712.8 436.16,712.97 436.41,713.11 436.61,713.24 436.77,713.33" fill="none" stroke="#800080" stroke-width="3.2" stroke-linejoin="round" stroke-linecap="round" />
<circle cx="419.32" cy="713.73" r="2.4" fill="#800080"/>
<circle cx="420.67" cy="712.29" r="2.4" fill="#800080"/>
<circle cx="422.23" cy="711.1" r="2.4" fill="#800080"/>
<circle cx="423.92" cy="710.09" r="2.4" fill="#800080"/>
<circle cx="425.81" cy="709.58" r="2.4" fill="#800080"/>
<circle cx="427.77" cy="709.48" r="2.4" fill="#800080"/>
<circle cx="429.7" cy="709.89" r="2.4" fill="#800080"/>
<circle cx="431.53" cy="710.61" r="2.4" fill="#800080"/>
<circle cx="433.31" cy="711.45" r="2.4" fill="#800080"/>
<circle cx="435.05" cy="712.36" r="2.4" fill="#800080"/>
<circle cx="436.77" cy="713.33" r="2.4" fill="#800080"/>
<polyline points="420.4,714.4 420.91,713.24 421.6,711.62 422.43,709.71 423.33,707.68 424.24,705.72 425.1,704 425.94,702.5 426.82,701.06 427.71,699.69 428.58,698.38 429.42,697.12 430.2,695.9 430.84,694.8 431.35,693.83 431.82,692.92 432.36,691.97 433.05,690.89 434,689.6 435.25,688.02 436.74,686.2 438.39,684.25 440.12,682.29 441.85,680.44 443.5,678.8 445.06,677.38 446.6,676.08 448.14,674.88 449.7,673.77 451.31,672.71 453,671.7 454.78,670.74 456.63,669.84 458.53,669.01 460.46,668.23 462.39,667.49 464.3,666.8 466.15,666.16 467.95,665.59 469.76,665.06 471.61,664.57 473.58,664.08 475.7,663.6 478.01,663.11 480.49,662.62 483.06,662.15 485.69,661.7 488.32,661.28 490.9,660.9 493.43,660.56 495.97,660.24 498.5,659.96 501.03,659.7 503.57,659.48 506.1,659.3 508.63,659.14 511.17,659.01 513.7,658.92 516.23,658.86 518.77,658.85 521.3,658.9 523.88,659.01 526.5,659.18 529.13,659.4 531.71,659.65 534.18,659.92 536.5,660.2 538.65,660.5 540.68,660.82 542.61,661.17 544.45,661.52 546.24,661.87 548,662.2 549.61,662.5 551.02,662.76 552.38,663.03 553.81,663.3 555.48,663.62 557.5,664 559.95,664.45 562.74,664.94 565.74,665.48 568.86,666.04 571.98,666.62 575,667.2 577.93,667.77 580.86,668.33 583.79,668.91 586.73,669.53 589.67,670.22 592.6,671 595.62,671.9 598.73,672.89 601.84,673.96 604.86,675.05 607.68,676.14 610.2,677.2 612.4,678.22 614.36,679.24 616.12,680.26 617.73,681.27 619.24,682.28 620.7,683.3 622.08,684.31 623.33,685.3 624.48,686.29 625.55,687.3 626.58,688.33 627.6,689.4 628.61,690.52 629.59,691.7 630.52,692.89 631.39,694.09 632.19,695.27 632.9,696.4 633.52,697.55 634.06,698.76 634.53,699.94 634.93,701.02 635.25,701.93 635.5,702.6" fill="none" stroke="#ff0000" stroke-width="1.1" stroke-linejoin="round" stroke-linecap="round" />
<polyline points="420.4,714.4 421.03,712.98 421.9,710.98 422.92,708.62 424.06,706.17 425.24,703.84 426.4,701.9 427.55,700.33 428.74,698.94 429.98,697.69 431.27,696.53 432.6,695.42 434,694.3 435.47,693.18 437.03,692.1 438.63,691.06 440.26,690.08 441.89,689.15 443.5,688.3 445.06,687.52 446.6,686.82 448.14,686.18 449.7,685.59 451.31,685.03 453,684.5 454.76,683.99 456.56,683.51 458.41,683.07 460.32,682.67 462.28,682.31 464.3,682 466.4,681.74 468.59,681.54 470.83,681.38 473.09,681.25 475.36,681.16 477.6,681.1 479.84,681.06 482.1,681.03 484.37,681.04 486.61,681.09 488.79,681.21 490.9,681.4 492.91,681.67 494.84,682.02 496.72,682.43 498.57,682.89 500.42,683.38 502.3,683.9 504.22,684.44 506.17,685 508.12,685.6 510.04,686.24 511.91,686.94 513.7,687.7 515.42,688.54 517.08,689.46 518.69,690.43 520.24,691.43 521.75,692.43 523.2,693.4 524.58,694.32 525.87,695.2 527.12,696.07 528.34,696.99 529.56,697.99 530.8,699.1 532.15,700.45 533.61,702.04 535.07,703.71 536.43,705.29 537.57,706.64 538.4,707.6" fill="none" stroke="#ff0000" stroke-width="1.1" stroke-linejoin="round" stroke-linecap="round" />
<polyline points="420.4,714.4 420.78,713.44 421.31,712.06 421.93,710.46 422.61,708.79 423.32,707.25 424,706 424.62,705.09 425.19,704.37 425.78,703.78 426.46,703.23 427.27,702.63 428.3,701.9 429.56,701.01 431.01,700.01 432.61,698.97 434.3,697.94 436.05,697 437.8,696.2 439.57,695.56 441.39,695.02 443.27,694.56 445.2,694.16 447.17,693.78 449.2,693.4 451.27,693.02 453.39,692.68 455.56,692.36 457.79,692.06 460.06,691.77 462.4,691.5 464.84,691.24 467.39,691 469.99,690.77 472.6,690.56 475.15,690.37 477.6,690.2 479.97,690.05 482.31,689.9 484.61,689.78 486.82,689.69 488.93,689.62 490.9,689.6 492.7,689.62 494.35,689.66 495.89,689.74 497.37,689.86 498.86,690.01 500.4,690.2 502.01,690.42 503.64,690.66 505.27,690.93 506.87,691.26 508.43,691.64 509.9,692.1 511.31,692.65 512.68,693.28 514,693.97 515.25,694.7 516.42,695.45 517.5,696.2 518.47,696.96 519.35,697.75 520.14,698.56 520.87,699.38 521.55,700.2 522.2,701 522.81,701.8 523.37,702.61 523.89,703.41 524.35,704.2 524.75,704.97 525.1,705.7 525.38,706.43 525.58,707.17 525.73,707.89 525.84,708.55 525.93,709.1 526,709.5" fill="none" stroke="#ff0000" stroke-width="1.1" stroke-linejoin="round" stroke-linecap="round" />
<polyline points="420.38,713.21 420.78,712.65 421.32,711.87 421.97,710.96 422.67,709.97 423.38,709 424.06,708.12 424.72,707.29 425.39,706.45 426.08,705.62 426.77,704.82 427.46,704.09 428.14,703.44 428.82,702.9 429.5,702.43 430.19,702.03 430.87,701.67 431.55,701.33 432.23,701 432.9,700.68 433.55,700.38 434.21,700.1 434.87,699.84 435.57,699.6 436.31,699.37 437.1,699.16 437.94,698.97 438.8,698.79 439.68,698.63 440.55,698.48 441.42,698.36 442.27,698.25 443.12,698.16 443.97,698.09 444.82,698.03 445.67,697.99 446.52,697.95 447.37,697.92 448.22,697.9 449.07,697.89 449.92,697.89 450.78,697.91 451.63,697.95 452.44,698.01 453.21,698.08 453.99,698.17 454.8,698.27 455.7,698.4 456.73,698.56 457.92,698.74 459.23,698.95 460.62,699.18 462.06,699.43 463.5,699.7 464.9,699.98 466.26,700.28 467.62,700.58 468.98,700.9 470.35,701.24 471.71,701.61 473.07,702.02 474.46,702.47 475.9,702.98 477.34,703.52 478.74,704.06 480.05,704.58 481.24,705.07 482.29,705.51 483.26,705.92 484.13,706.32 484.93,706.7 485.67,707.1 486.34,707.51 486.95,707.94 487.48,708.38 487.94,708.82 488.34,709.27 488.69,709.71 489,710.15 489.26,710.6 489.46,711.04 489.62,711.49 489.73,711.93 489.79,712.37 489.81,712.8 489.76,713.25 489.63,713.72 489.45,714.18 489.27,714.61 489.1,714.98 489,715.24" fill="none" stroke="#ff0000" stroke-width="1.0" stroke-linejoin="round" stroke-linecap="round" />
<polyline points="420.38,713.21 420.78,712.64 421.32,711.85 421.97,710.92 422.67,709.93 423.38,708.97 424.06,708.12 424.72,707.36 425.39,706.63 426.08,705.92 426.77,705.25 427.46,704.62 428.14,704.05 428.82,703.54 429.5,703.08 430.19,702.67 430.87,702.29 431.55,701.94 432.23,701.61 432.9,701.31 433.55,701.04 434.21,700.8 434.87,700.58 435.57,700.38 436.31,700.19 437.1,700.01 437.94,699.84 438.8,699.69 439.68,699.56 440.55,699.46 441.42,699.37 442.27,699.32 443.12,699.29 443.97,699.28 444.82,699.3 445.67,699.33 446.52,699.37 447.37,699.43 448.22,699.5 449.07,699.59 449.92,699.7 450.78,699.83 451.63,699.98 452.44,700.15 453.21,700.32 453.99,700.51 454.8,700.74 455.7,701.03 456.73,701.41 457.92,701.88 459.23,702.45 460.62,703.07 462.06,703.74 463.5,704.41 464.9,705.07 466.3,705.73 467.74,706.41 469.18,707.1 470.57,707.8 471.88,708.48 473.07,709.14 474.15,709.81 475.19,710.52 476.13,711.22 476.96,711.86 477.65,712.4 478.17,712.8" fill="none" stroke="#ff0000" stroke-width="1.0" stroke-linejoin="round" stroke-linecap="round" />
<polyline points="420.38,713.21 420.67,712.79 421.06,712.21 421.52,711.53 422.02,710.81 422.54,710.13 423.04,709.54 423.53,709.06 424.03,708.62 424.54,708.22 425.07,707.84 425.59,707.47 426.1,707.1 426.61,706.73 427.12,706.37 427.63,706.02 428.14,705.69 428.65,705.37 429.16,705.07 429.66,704.79 430.15,704.53 430.63,704.29 431.13,704.07 431.66,703.85 432.23,703.65 432.85,703.44 433.51,703.24 434.21,703.05 434.91,702.88 435.62,702.73 436.31,702.63 436.99,702.56 437.67,702.52 438.35,702.51 439.03,702.53 439.71,702.57 440.4,702.63 441.08,702.71 441.76,702.81 442.44,702.93 443.12,703.08 443.8,703.25 444.48,703.44 445.11,703.64 445.69,703.83 446.27,704.05 446.9,704.32 447.65,704.65 448.56,705.07 449.7,705.6 451.02,706.23 452.46,706.93 453.93,707.66 455.38,708.41 456.73,709.14 458.06,709.91 459.45,710.76 460.82,711.63 462.06,712.44 463.11,713.12 463.88,713.61" fill="none" stroke="#ff0000" stroke-width="1.0" stroke-linejoin="round" stroke-linecap="round" />
<polyline points="420.38,713.21 420.56,712.93 420.79,712.54 421.07,712.09 421.38,711.61 421.7,711.15 422.02,710.76 422.33,710.44 422.65,710.15 422.99,709.89 423.33,709.63 423.69,709.39 424.06,709.14 424.44,708.88 424.84,708.62 425.25,708.36 425.66,708.12 426.08,707.9 426.51,707.71 426.94,707.56 427.36,707.43 427.8,707.32 428.24,707.23 428.7,707.16 429.16,707.1 429.66,707.06 430.19,707.04 430.73,707.04 431.27,707.05 431.77,707.07 432.23,707.1 432.62,707.14 432.95,707.19 433.25,707.26 433.55,707.33 433.88,707.41 434.27,707.51 434.72,707.62 435.21,707.74 435.74,707.87 436.27,708.01 436.81,708.16 437.33,708.32 437.82,708.49 438.28,708.67 438.74,708.86 439.22,709.06 439.77,709.29 440.4,709.54 441.16,709.84 442.04,710.16 442.97,710.51 443.9,710.87 444.77,711.23 445.5,711.58 446.12,711.94 446.67,712.33 447.15,712.72 447.56,713.08 447.89,713.39 448.16,713.61" fill="none" stroke="#ff0000" stroke-width="1.0" stroke-linejoin="round" stroke-linecap="round" />
<polyline points="419.32,713.73 419.45,713.58 419.64,713.37 419.86,713.13 420.1,712.87 420.34,712.61 420.57,712.39 420.77,712.2 420.95,712.03 421.14,711.86 421.35,711.7 421.6,711.52 421.9,711.32 422.25,711.08 422.65,710.81 423.09,710.53 423.55,710.27 424.04,710.03 424.55,709.84 425.1,709.71 425.68,709.59 426.29,709.51 426.91,709.47 427.53,709.47 428.13,709.51 428.71,709.61 429.3,709.76 429.88,709.95 430.46,710.17 431.04,710.41 431.62,710.65 432.22,710.91 432.85,711.21 433.48,711.53 434.08,711.85 434.63,712.14 435.11,712.39 435.51,712.6 435.86,712.8 436.16,712.97 436.41,713.11 436.61,713.24 436.77,713.33" fill="none" stroke="#ff0000" stroke-width="1.0" stroke-linejoin="round" stroke-linecap="round" />
</g>
<text x="326.8" y="524" font-family='"Liberation Serif", serif' font-size="29" font-weight="bold" font-style="normal" text-anchor="start" >(f)</text>
<text x="521.5" y="759.5" font-family='"Liberation Serif", serif' font-size="15" font-weight="bold" font-style="normal" text-anchor="middle" textLength="97.6" lengthAdjust="spacingAndGlyphs" >Z<tspan font-size="9.75" dy="3">re</tspan><tspan dy="-3"> (Ohm·cm</tspan><tspan font-size="9.75" dy="-6">2</tspan><tspan dy="6">)</tspan></text>
<text x="0" y="0" font-family='"Liberation Serif", serif' font-size="16.2" font-weight="bold" font-style="normal" text-anchor="middle" textLength="112" lengthAdjust="spacingAndGlyphs" transform="translate(362.3,614.6) rotate(-90)">-Z<tspan font-size="10.53" dy="3">img</tspan><tspan dy="-3">(Ohm·cm</tspan><tspan font-size="10.53" dy="-6">2</tspan><tspan dy="6">)</tspan></text>
<rect x="543.7" y="521.4" width="4.4" height="4.4" fill="#000000"/>
<text x="561.1" y="527.2" font-family='"Liberation Serif", serif' font-size="11" font-weight="bold" font-style="normal" text-anchor="start" >Blank</text>
<polygon points="611.3,520.96 613.94,523.6 611.3,526.24 608.66,523.6" fill="#00ffff"/>
<text x="627.1" y="527.2" font-family='"Liberation Serif", serif' font-size="11" font-weight="bold" font-style="normal" text-anchor="start" >HCTZ</text>
<circle cx="545.9" cy="537.5" r="2.2" fill="#ff0000"/>
<text x="561.1" y="541.1" font-family='"Liberation Serif", serif' font-size="11" font-weight="bold" font-style="normal" text-anchor="start" >LK</text>
<polygon points="609.28,537.5 613.46,535.08 613.46,539.92" fill="#ff00ff"/>
<text x="627.7" y="541.1" font-family='"Liberation Serif", serif' font-size="11" font-weight="bold" font-style="normal" text-anchor="start" >VLA</text>
<polygon points="545.9,548.98 548.32,553.16 543.48,553.16" fill="#00ff00"/>
<text x="561.1" y="555" font-family='"Liberation Serif", serif' font-size="11" font-weight="bold" font-style="normal" text-anchor="start" >ATEN</text>
<polygon points="615.82,551.4 611.64,548.98 611.64,553.82" fill="#808000"/>
<text x="629.1" y="555" font-family='"Liberation Serif", serif' font-size="11" font-weight="bold" font-style="normal" text-anchor="start" >FUR</text>
<polygon points="545.9,567.52 548.32,563.34 543.48,563.34" fill="#0000ff"/>
<text x="561.1" y="568.7" font-family='"Liberation Serif", serif' font-size="11" font-weight="bold" font-style="normal" text-anchor="start" >NF</text>
<circle cx="613.4" cy="565.1" r="2.2" fill="#800080"/>
<text x="629.1" y="568.7" font-family='"Liberation Serif", serif' font-size="11" font-weight="bold" font-style="normal" text-anchor="start" >CAP</text>
<line x1="533.1" y1="579" x2="558.6" y2="579" stroke="#ff0000" stroke-width="1.2"/>
<text x="561.1" y="582.6" font-family='"Liberation Serif", serif' font-size="11" font-weight="bold" font-style="normal" text-anchor="start" textLength="63.3" lengthAdjust="spacingAndGlyphs" >fitting results</text>
<rect x="59.6" y="257.2" width="266.4" height="214.7" fill="none" stroke="#2a2a2a" stroke-width="1.3"/>
<clipPath id="clipC"><rect x="56.6" y="257.2" width="272.4" height="214.7"/></clipPath>
<line x1="57.6" y1="455.72" x2="59.6" y2="455.72" stroke="#2a2a2a" stroke-width="1.3"/>
<line x1="57.6" y1="446.27" x2="59.6" y2="446.27" stroke="#2a2a2a" stroke-width="1.3"/>
<line x1="57.6" y1="439.57" x2="59.6" y2="439.57" stroke="#2a2a2a" stroke-width="1.3"/>
<line x1="57.6" y1="434.37" x2="59.6" y2="434.37" stroke="#2a2a2a" stroke-width="1.3"/>
<line x1="57.6" y1="430.12" x2="59.6" y2="430.12" stroke="#2a2a2a" stroke-width="1.3"/>
<line x1="57.6" y1="426.52" x2="59.6" y2="426.52" stroke="#2a2a2a" stroke-width="1.3"/>
<line x1="57.6" y1="423.41" x2="59.6" y2="423.41" stroke="#2a2a2a" stroke-width="1.3"/>
<line x1="57.6" y1="420.67" x2="59.6" y2="420.67" stroke="#2a2a2a" stroke-width="1.3"/>
<line x1="57.6" y1="402.05" x2="59.6" y2="402.05" stroke="#2a2a2a" stroke-width="1.3"/>
<line x1="57.6" y1="392.6" x2="59.6" y2="392.6" stroke="#2a2a2a" stroke-width="1.3"/>
<line x1="57.6" y1="385.9" x2="59.6" y2="385.9" stroke="#2a2a2a" stroke-width="1.3"/>
<line x1="57.6" y1="380.7" x2="59.6" y2="380.7" stroke="#2a2a2a" stroke-width="1.3"/>
<line x1="57.6" y1="376.45" x2="59.6" y2="376.45" stroke="#2a2a2a" stroke-width="1.3"/>
<line x1="57.6" y1="372.85" x2="59.6" y2="372.85" stroke="#2a2a2a" stroke-width="1.3"/>
<line x1="57.6" y1="369.74" x2="59.6" y2="369.74" stroke="#2a2a2a" stroke-width="1.3"/>
<line x1="57.6" y1="367" x2="59.6" y2="367" stroke="#2a2a2a" stroke-width="1.3"/>
<line x1="57.6" y1="348.38" x2="59.6" y2="348.38" stroke="#2a2a2a" stroke-width="1.3"/>
<line x1="57.6" y1="338.93" x2="59.6" y2="338.93" stroke="#2a2a2a" stroke-width="1.3"/>
<line x1="57.6" y1="332.23" x2="59.6" y2="332.23" stroke="#2a2a2a" stroke-width="1.3"/>
<line x1="57.6" y1="327.03" x2="59.6" y2="327.03" stroke="#2a2a2a" stroke-width="1.3"/>
<line x1="57.6" y1="322.78" x2="59.6" y2="322.78" stroke="#2a2a2a" stroke-width="1.3"/>
<line x1="57.6" y1="319.18" x2="59.6" y2="319.18" stroke="#2a2a2a" stroke-width="1.3"/>
<line x1="57.6" y1="316.07" x2="59.6" y2="316.07" stroke="#2a2a2a" stroke-width="1.3"/>
<line x1="57.6" y1="313.33" x2="59.6" y2="313.33" stroke="#2a2a2a" stroke-width="1.3"/>
<line x1="57.6" y1="294.71" x2="59.6" y2="294.71" stroke="#2a2a2a" stroke-width="1.3"/>
<line x1="57.6" y1="285.26" x2="59.6" y2="285.26" stroke="#2a2a2a" stroke-width="1.3"/>
<line x1="57.6" y1="278.56" x2="59.6" y2="278.56" stroke="#2a2a2a" stroke-width="1.3"/>
<line x1="57.6" y1="273.36" x2="59.6" y2="273.36" stroke="#2a2a2a" stroke-width="1.3"/>
<line x1="57.6" y1="269.11" x2="59.6" y2="269.11" stroke="#2a2a2a" stroke-width="1.3"/>
<line x1="57.6" y1="265.51" x2="59.6" y2="265.51" stroke="#2a2a2a" stroke-width="1.3"/>
<line x1="57.6" y1="262.4" x2="59.6" y2="262.4" stroke="#2a2a2a" stroke-width="1.3"/>
<line x1="57.6" y1="259.66" x2="59.6" y2="259.66" stroke="#2a2a2a" stroke-width="1.3"/>
<line x1="55.6" y1="471.88" x2="59.6" y2="471.88" stroke="#2a2a2a" stroke-width="1.3"/>
<text x="47.8" y="476.18" font-family='"Liberation Serif", serif' font-size="12.8" font-weight="bold" font-style="normal" text-anchor="end" textLength="12.3" lengthAdjust="spacingAndGlyphs" >10</text>
<text x="47.9" y="470.48" font-family='"Liberation Serif", serif' font-size="8.5" font-weight="bold" font-style="normal" text-anchor="start" textLength="4.1" lengthAdjust="spacingAndGlyphs" >1</text>
<line x1="55.6" y1="418.21" x2="59.6" y2="418.21" stroke="#2a2a2a" stroke-width="1.3"/>
<text x="47.8" y="422.51" font-family='"Liberation Serif", serif' font-size="12.8" font-weight="bold" font-style="normal" text-anchor="end" textLength="12.3" lengthAdjust="spacingAndGlyphs" >10</text>
<text x="47.9" y="416.81" font-family='"Liberation Serif", serif' font-size="8.5" font-weight="bold" font-style="normal" text-anchor="start" textLength="4.1" lengthAdjust="spacingAndGlyphs" >2</text>
<line x1="55.6" y1="364.54" x2="59.6" y2="364.54" stroke="#2a2a2a" stroke-width="1.3"/>
<text x="47.8" y="368.84" font-family='"Liberation Serif", serif' font-size="12.8" font-weight="bold" font-style="normal" text-anchor="end" textLength="12.3" lengthAdjust="spacingAndGlyphs" >10</text>
<text x="47.9" y="363.14" font-family='"Liberation Serif", serif' font-size="8.5" font-weight="bold" font-style="normal" text-anchor="start" textLength="4.1" lengthAdjust="spacingAndGlyphs" >3</text>
<line x1="55.6" y1="310.87" x2="59.6" y2="310.87" stroke="#2a2a2a" stroke-width="1.3"/>
<text x="47.8" y="315.17" font-family='"Liberation Serif", serif' font-size="12.8" font-weight="bold" font-style="normal" text-anchor="end" textLength="12.3" lengthAdjust="spacingAndGlyphs" >10</text>
<text x="47.9" y="309.47" font-family='"Liberation Serif", serif' font-size="8.5" font-weight="bold" font-style="normal" text-anchor="start" textLength="4.1" lengthAdjust="spacingAndGlyphs" >4</text>
<line x1="55.6" y1="257.2" x2="59.6" y2="257.2" stroke="#2a2a2a" stroke-width="1.3"/>
<text x="47.8" y="261.5" font-family='"Liberation Serif", serif' font-size="12.8" font-weight="bold" font-style="normal" text-anchor="end" textLength="12.3" lengthAdjust="spacingAndGlyphs" >10</text>
<text x="47.9" y="255.8" font-family='"Liberation Serif", serif' font-size="8.5" font-weight="bold" font-style="normal" text-anchor="start" textLength="4.1" lengthAdjust="spacingAndGlyphs" >5</text>
<line x1="60" y1="471.9" x2="60" y2="473.9" stroke="#2a2a2a" stroke-width="1.3"/>
<line x1="63.34" y1="471.9" x2="63.34" y2="473.9" stroke="#2a2a2a" stroke-width="1.3"/>
<line x1="66.16" y1="471.9" x2="66.16" y2="473.9" stroke="#2a2a2a" stroke-width="1.3"/>
<line x1="68.61" y1="471.9" x2="68.61" y2="473.9" stroke="#2a2a2a" stroke-width="1.3"/>
<line x1="70.77" y1="471.9" x2="70.77" y2="473.9" stroke="#2a2a2a" stroke-width="1.3"/>
<line x1="85.4" y1="471.9" x2="85.4" y2="473.9" stroke="#2a2a2a" stroke-width="1.3"/>
<line x1="92.83" y1="471.9" x2="92.83" y2="473.9" stroke="#2a2a2a" stroke-width="1.3"/>
<line x1="98.11" y1="471.9" x2="98.11" y2="473.9" stroke="#2a2a2a" stroke-width="1.3"/>
<line x1="102.2" y1="471.9" x2="102.2" y2="473.9" stroke="#2a2a2a" stroke-width="1.3"/>
<line x1="105.54" y1="471.9" x2="105.54" y2="473.9" stroke="#2a2a2a" stroke-width="1.3"/>
<line x1="108.36" y1="471.9" x2="108.36" y2="473.9" stroke="#2a2a2a" stroke-width="1.3"/>
<line x1="110.81" y1="471.9" x2="110.81" y2="473.9" stroke="#2a2a2a" stroke-width="1.3"/>
<line x1="112.97" y1="471.9" x2="112.97" y2="473.9" stroke="#2a2a2a" stroke-width="1.3"/>
<line x1="127.6" y1="471.9" x2="127.6" y2="473.9" stroke="#2a2a2a" stroke-width="1.3"/>
<line x1="135.03" y1="471.9" x2="135.03" y2="473.9" stroke="#2a2a2a" stroke-width="1.3"/>
<line x1="140.31" y1="471.9" x2="140.31" y2="473.9" stroke="#2a2a2a" stroke-width="1.3"/>
<line x1="144.4" y1="471.9" x2="144.4" y2="473.9" stroke="#2a2a2a" stroke-width="1.3"/>
<line x1="147.74" y1="471.9" x2="147.74" y2="473.9" stroke="#2a2a2a" stroke-width="1.3"/>
<line x1="150.56" y1="471.9" x2="150.56" y2="473.9" stroke="#2a2a2a" stroke-width="1.3"/>
<line x1="153.01" y1="471.9" x2="153.01" y2="473.9" stroke="#2a2a2a" stroke-width="1.3"/>
<line x1="155.17" y1="471.9" x2="155.17" y2="473.9" stroke="#2a2a2a" stroke-width="1.3"/>
<line x1="169.8" y1="471.9" x2="169.8" y2="473.9" stroke="#2a2a2a" stroke-width="1.3"/>
<line x1="177.23" y1="471.9" x2="177.23" y2="473.9" stroke="#2a2a2a" stroke-width="1.3"/>
<line x1="182.51" y1="471.9" x2="182.51" y2="473.9" stroke="#2a2a2a" stroke-width="1.3"/>
<line x1="186.6" y1="471.9" x2="186.6" y2="473.9" stroke="#2a2a2a" stroke-width="1.3"/>
<line x1="189.94" y1="471.9" x2="189.94" y2="473.9" stroke="#2a2a2a" stroke-width="1.3"/>
<line x1="192.76" y1="471.9" x2="192.76" y2="473.9" stroke="#2a2a2a" stroke-width="1.3"/>
<line x1="195.21" y1="471.9" x2="195.21" y2="473.9" stroke="#2a2a2a" stroke-width="1.3"/>
<line x1="197.37" y1="471.9" x2="197.37" y2="473.9" stroke="#2a2a2a" stroke-width="1.3"/>
<line x1="212" y1="471.9" x2="212" y2="473.9" stroke="#2a2a2a" stroke-width="1.3"/>
<line x1="219.43" y1="471.9" x2="219.43" y2="473.9" stroke="#2a2a2a" stroke-width="1.3"/>
<line x1="224.71" y1="471.9" x2="224.71" y2="473.9" stroke="#2a2a2a" stroke-width="1.3"/>
<line x1="228.8" y1="471.9" x2="228.8" y2="473.9" stroke="#2a2a2a" stroke-width="1.3"/>
<line x1="232.14" y1="471.9" x2="232.14" y2="473.9" stroke="#2a2a2a" stroke-width="1.3"/>
<line x1="234.96" y1="471.9" x2="234.96" y2="473.9" stroke="#2a2a2a" stroke-width="1.3"/>
<line x1="237.41" y1="471.9" x2="237.41" y2="473.9" stroke="#2a2a2a" stroke-width="1.3"/>
<line x1="239.57" y1="471.9" x2="239.57" y2="473.9" stroke="#2a2a2a" stroke-width="1.3"/>
<line x1="254.2" y1="471.9" x2="254.2" y2="473.9" stroke="#2a2a2a" stroke-width="1.3"/>
<line x1="261.63" y1="471.9" x2="261.63" y2="473.9" stroke="#2a2a2a" stroke-width="1.3"/>
<line x1="266.91" y1="471.9" x2="266.91" y2="473.9" stroke="#2a2a2a" stroke-width="1.3"/>
<line x1="271" y1="471.9" x2="271" y2="473.9" stroke="#2a2a2a" stroke-width="1.3"/>
<line x1="274.34" y1="471.9" x2="274.34" y2="473.9" stroke="#2a2a2a" stroke-width="1.3"/>
<line x1="277.16" y1="471.9" x2="277.16" y2="473.9" stroke="#2a2a2a" stroke-width="1.3"/>
<line x1="279.61" y1="471.9" x2="279.61" y2="473.9" stroke="#2a2a2a" stroke-width="1.3"/>
<line x1="281.77" y1="471.9" x2="281.77" y2="473.9" stroke="#2a2a2a" stroke-width="1.3"/>
<line x1="296.4" y1="471.9" x2="296.4" y2="473.9" stroke="#2a2a2a" stroke-width="1.3"/>
<line x1="303.83" y1="471.9" x2="303.83" y2="473.9" stroke="#2a2a2a" stroke-width="1.3"/>
<line x1="309.11" y1="471.9" x2="309.11" y2="473.9" stroke="#2a2a2a" stroke-width="1.3"/>
<line x1="313.2" y1="471.9" x2="313.2" y2="473.9" stroke="#2a2a2a" stroke-width="1.3"/>
<line x1="316.54" y1="471.9" x2="316.54" y2="473.9" stroke="#2a2a2a" stroke-width="1.3"/>
<line x1="319.36" y1="471.9" x2="319.36" y2="473.9" stroke="#2a2a2a" stroke-width="1.3"/>
<line x1="321.81" y1="471.9" x2="321.81" y2="473.9" stroke="#2a2a2a" stroke-width="1.3"/>
<line x1="323.97" y1="471.9" x2="323.97" y2="473.9" stroke="#2a2a2a" stroke-width="1.3"/>
<line x1="72.7" y1="471.9" x2="72.7" y2="475.9" stroke="#2a2a2a" stroke-width="1.3"/>
<text x="63.5" y="490.6" font-family='"Liberation Serif", serif' font-size="13" font-weight="bold" font-style="normal" text-anchor="start" textLength="12.4" lengthAdjust="spacingAndGlyphs" >10</text>
<text x="76" y="485.8" font-family='"Liberation Serif", serif' font-size="8.7" font-weight="bold" font-style="normal" text-anchor="start" textLength="6" lengthAdjust="spacingAndGlyphs" >-1</text>
<line x1="114.9" y1="471.9" x2="114.9" y2="475.9" stroke="#2a2a2a" stroke-width="1.3"/>
<text x="106.6" y="490.6" font-family='"Liberation Serif", serif' font-size="13" font-weight="bold" font-style="normal" text-anchor="start" textLength="12.4" lengthAdjust="spacingAndGlyphs" >10</text>
<text x="119.1" y="485.8" font-family='"Liberation Serif", serif' font-size="8.7" font-weight="bold" font-style="normal" text-anchor="start" textLength="4.2" lengthAdjust="spacingAndGlyphs" >0</text>
<line x1="157.1" y1="471.9" x2="157.1" y2="475.9" stroke="#2a2a2a" stroke-width="1.3"/>
<text x="148.8" y="490.6" font-family='"Liberation Serif", serif' font-size="13" font-weight="bold" font-style="normal" text-anchor="start" textLength="12.4" lengthAdjust="spacingAndGlyphs" >10</text>
<text x="161.3" y="485.8" font-family='"Liberation Serif", serif' font-size="8.7" font-weight="bold" font-style="normal" text-anchor="start" textLength="4.2" lengthAdjust="spacingAndGlyphs" >1</text>
<line x1="199.3" y1="471.9" x2="199.3" y2="475.9" stroke="#2a2a2a" stroke-width="1.3"/>
<text x="191" y="490.6" font-family='"Liberation Serif", serif' font-size="13" font-weight="bold" font-style="normal" text-anchor="start" textLength="12.4" lengthAdjust="spacingAndGlyphs" >10</text>
<text x="203.5" y="485.8" font-family='"Liberation Serif", serif' font-size="8.7" font-weight="bold" font-style="normal" text-anchor="start" textLength="4.2" lengthAdjust="spacingAndGlyphs" >2</text>
<line x1="241.5" y1="471.9" x2="241.5" y2="475.9" stroke="#2a2a2a" stroke-width="1.3"/>
<text x="233.2" y="490.6" font-family='"Liberation Serif", serif' font-size="13" font-weight="bold" font-style="normal" text-anchor="start" textLength="12.4" lengthAdjust="spacingAndGlyphs" >10</text>
<text x="245.7" y="485.8" font-family='"Liberation Serif", serif' font-size="8.7" font-weight="bold" font-style="normal" text-anchor="start" textLength="4.2" lengthAdjust="spacingAndGlyphs" >3</text>
<line x1="283.7" y1="471.9" x2="283.7" y2="475.9" stroke="#2a2a2a" stroke-width="1.3"/>
<text x="275.4" y="490.6" font-family='"Liberation Serif", serif' font-size="13" font-weight="bold" font-style="normal" text-anchor="start" textLength="12.4" lengthAdjust="spacingAndGlyphs" >10</text>
<text x="287.9" y="485.8" font-family='"Liberation Serif", serif' font-size="8.7" font-weight="bold" font-style="normal" text-anchor="start" textLength="4.2" lengthAdjust="spacingAndGlyphs" >4</text>
<line x1="325.9" y1="471.9" x2="325.9" y2="475.9" stroke="#2a2a2a" stroke-width="1.3"/>
<text x="317.6" y="490.6" font-family='"Liberation Serif", serif' font-size="13" font-weight="bold" font-style="normal" text-anchor="start" textLength="12.4" lengthAdjust="spacingAndGlyphs" >10</text>
<text x="330.1" y="485.8" font-family='"Liberation Serif", serif' font-size="8.7" font-weight="bold" font-style="normal" text-anchor="start" textLength="4.2" lengthAdjust="spacingAndGlyphs" >5</text>
<g clip-path="url(#clipC)">
<rect x="323.65" y="428.98" width="4.5" height="4.5" fill="#000000"/>
<rect x="319.43" y="429.08" width="4.5" height="4.5" fill="#000000"/>
<rect x="315.21" y="429.22" width="4.5" height="4.5" fill="#000000"/>
<rect x="310.99" y="429.35" width="4.5" height="4.5" fill="#000000"/>
<rect x="306.77" y="429.47" width="4.5" height="4.5" fill="#000000"/>
<rect x="302.55" y="429.54" width="4.5" height="4.5" fill="#000000"/>
<rect x="298.33" y="429.57" width="4.5" height="4.5" fill="#000000"/>
<rect x="294.11" y="429.52" width="4.5" height="4.5" fill="#000000"/>
<rect x="289.89" y="429.38" width="4.5" height="4.5" fill="#000000"/>
<rect x="285.67" y="429.14" width="4.5" height="4.5" fill="#000000"/>
<rect x="281.45" y="428.78" width="4.5" height="4.5" fill="#000000"/>
<rect x="277.23" y="428.29" width="4.5" height="4.5" fill="#000000"/>
<rect x="273.01" y="427.64" width="4.5" height="4.5" fill="#000000"/>
<rect x="268.79" y="426.82" width="4.5" height="4.5" fill="#000000"/>
<rect x="264.57" y="425.82" width="4.5" height="4.5" fill="#000000"/>
<rect x="260.35" y="424.61" width="4.5" height="4.5" fill="#000000"/>
<rect x="256.13" y="423.19" width="4.5" height="4.5" fill="#000000"/>
<rect x="251.91" y="421.55" width="4.5" height="4.5" fill="#000000"/>
<rect x="247.69" y="419.71" width="4.5" height="4.5" fill="#000000"/>
<rect x="243.47" y="417.66" width="4.5" height="4.5" fill="#000000"/>
<rect x="239.25" y="415.42" width="4.5" height="4.5" fill="#000000"/>
<rect x="235.03" y="413" width="4.5" height="4.5" fill="#000000"/>
<rect x="230.81" y="410.4" width="4.5" height="4.5" fill="#000000"/>
<rect x="226.59" y="407.63" width="4.5" height="4.5" fill="#000000"/>
<rect x="222.37" y="404.7" width="4.5" height="4.5" fill="#000000"/>
<rect x="218.15" y="401.62" width="4.5" height="4.5" fill="#000000"/>
<rect x="213.93" y="398.4" width="4.5" height="4.5" fill="#000000"/>
<rect x="209.71" y="395.04" width="4.5" height="4.5" fill="#000000"/>
<rect x="205.49" y="391.55" width="4.5" height="4.5" fill="#000000"/>
<rect x="201.27" y="387.94" width="4.5" height="4.5" fill="#000000"/>
<rect x="197.05" y="384.22" width="4.5" height="4.5" fill="#000000"/>
<rect x="192.83" y="380.39" width="4.5" height="4.5" fill="#000000"/>
<rect x="188.61" y="376.48" width="4.5" height="4.5" fill="#000000"/>
<rect x="184.39" y="372.49" width="4.5" height="4.5" fill="#000000"/>
<rect x="180.17" y="368.46" width="4.5" height="4.5" fill="#000000"/>
<rect x="175.95" y="364.43" width="4.5" height="4.5" fill="#000000"/>
<rect x="171.73" y="360.42" width="4.5" height="4.5" fill="#000000"/>
<rect x="167.51" y="356.46" width="4.5" height="4.5" fill="#000000"/>
<rect x="163.29" y="352.58" width="4.5" height="4.5" fill="#000000"/>
<rect x="159.07" y="348.82" width="4.5" height="4.5" fill="#000000"/>
<rect x="154.85" y="345.19" width="4.5" height="4.5" fill="#000000"/>
<rect x="150.63" y="341.75" width="4.5" height="4.5" fill="#000000"/>
<rect x="146.41" y="338.5" width="4.5" height="4.5" fill="#000000"/>
<rect x="142.19" y="335.48" width="4.5" height="4.5" fill="#000000"/>
<rect x="137.97" y="332.73" width="4.5" height="4.5" fill="#000000"/>
<rect x="133.75" y="330.28" width="4.5" height="4.5" fill="#000000"/>
<rect x="129.53" y="328.11" width="4.5" height="4.5" fill="#000000"/>
<rect x="125.31" y="326.21" width="4.5" height="4.5" fill="#000000"/>
<rect x="121.09" y="324.56" width="4.5" height="4.5" fill="#000000"/>
<rect x="116.87" y="323.12" width="4.5" height="4.5" fill="#000000"/>
<rect x="112.65" y="321.89" width="4.5" height="4.5" fill="#000000"/>
<rect x="108.43" y="320.83" width="4.5" height="4.5" fill="#000000"/>
<rect x="104.21" y="319.92" width="4.5" height="4.5" fill="#000000"/>
<rect x="99.99" y="319.13" width="4.5" height="4.5" fill="#000000"/>
<rect x="95.77" y="318.45" width="4.5" height="4.5" fill="#000000"/>
<rect x="91.55" y="317.84" width="4.5" height="4.5" fill="#000000"/>
<rect x="87.33" y="317.29" width="4.5" height="4.5" fill="#000000"/>
<rect x="83.11" y="316.77" width="4.5" height="4.5" fill="#000000"/>
<rect x="78.89" y="316.25" width="4.5" height="4.5" fill="#000000"/>
<rect x="74.67" y="315.72" width="4.5" height="4.5" fill="#000000"/>
<rect x="70.45" y="315.15" width="4.5" height="4.5" fill="#000000"/>
<rect x="66.23" y="314.51" width="4.5" height="4.5" fill="#000000"/>
<rect x="62.01" y="313.78" width="4.5" height="4.5" fill="#000000"/>
<rect x="57.79" y="313.21" width="4.5" height="4.5" fill="#000000"/>
<circle cx="325.9" cy="433.89" r="2.25" fill="#ff0000"/>
<circle cx="321.68" cy="433.68" r="2.25" fill="#ff0000"/>
<circle cx="317.46" cy="433.42" r="2.25" fill="#ff0000"/>
<circle cx="313.24" cy="433.19" r="2.25" fill="#ff0000"/>
<circle cx="309.02" cy="432.97" r="2.25" fill="#ff0000"/>
<circle cx="304.8" cy="432.74" r="2.25" fill="#ff0000"/>
<circle cx="300.58" cy="432.48" r="2.25" fill="#ff0000"/>
<circle cx="296.36" cy="432.17" r="2.25" fill="#ff0000"/>
<circle cx="292.14" cy="431.79" r="2.25" fill="#ff0000"/>
<circle cx="287.92" cy="431.34" r="2.25" fill="#ff0000"/>
<circle cx="283.7" cy="430.79" r="2.25" fill="#ff0000"/>
<circle cx="279.48" cy="430.11" r="2.25" fill="#ff0000"/>
<circle cx="275.26" cy="429.31" r="2.25" fill="#ff0000"/>
<circle cx="271.04" cy="428.35" r="2.25" fill="#ff0000"/>
<circle cx="266.82" cy="427.22" r="2.25" fill="#ff0000"/>
<circle cx="262.6" cy="425.9" r="2.25" fill="#ff0000"/>
<circle cx="258.38" cy="424.38" r="2.25" fill="#ff0000"/>
<circle cx="254.16" cy="422.65" r="2.25" fill="#ff0000"/>
<circle cx="249.94" cy="420.73" r="2.25" fill="#ff0000"/>
<circle cx="245.72" cy="418.61" r="2.25" fill="#ff0000"/>
<circle cx="241.5" cy="416.32" r="2.25" fill="#ff0000"/>
<circle cx="237.28" cy="413.86" r="2.25" fill="#ff0000"/>
<circle cx="233.06" cy="411.23" r="2.25" fill="#ff0000"/>
<circle cx="228.84" cy="408.44" r="2.25" fill="#ff0000"/>
<circle cx="224.62" cy="405.51" r="2.25" fill="#ff0000"/>
<circle cx="220.4" cy="402.43" r="2.25" fill="#ff0000"/>
<circle cx="216.18" cy="399.22" r="2.25" fill="#ff0000"/>
<circle cx="211.96" cy="395.89" r="2.25" fill="#ff0000"/>
<circle cx="207.74" cy="392.44" r="2.25" fill="#ff0000"/>
<circle cx="203.52" cy="388.88" r="2.25" fill="#ff0000"/>
<circle cx="199.3" cy="385.22" r="2.25" fill="#ff0000"/>
<circle cx="195.08" cy="381.46" r="2.25" fill="#ff0000"/>
<circle cx="190.86" cy="377.63" r="2.25" fill="#ff0000"/>
<circle cx="186.64" cy="373.73" r="2.25" fill="#ff0000"/>
<circle cx="182.42" cy="369.79" r="2.25" fill="#ff0000"/>
<circle cx="178.2" cy="365.83" r="2.25" fill="#ff0000"/>
<circle cx="173.98" cy="361.89" r="2.25" fill="#ff0000"/>
<circle cx="169.76" cy="357.98" r="2.25" fill="#ff0000"/>
<circle cx="165.54" cy="354.12" r="2.25" fill="#ff0000"/>
<circle cx="161.32" cy="350.35" r="2.25" fill="#ff0000"/>
<circle cx="157.1" cy="346.68" r="2.25" fill="#ff0000"/>
<circle cx="152.88" cy="343.15" r="2.25" fill="#ff0000"/>
<circle cx="148.66" cy="339.76" r="2.25" fill="#ff0000"/>
<circle cx="144.44" cy="336.56" r="2.25" fill="#ff0000"/>
<circle cx="140.22" cy="333.56" r="2.25" fill="#ff0000"/>
<circle cx="136" cy="330.78" r="2.25" fill="#ff0000"/>
<circle cx="131.78" cy="328.24" r="2.25" fill="#ff0000"/>
<circle cx="127.56" cy="325.9" r="2.25" fill="#ff0000"/>
<circle cx="123.34" cy="323.77" r="2.25" fill="#ff0000"/>
<circle cx="119.12" cy="321.82" r="2.25" fill="#ff0000"/>
<circle cx="114.9" cy="320.04" r="2.25" fill="#ff0000"/>
<circle cx="110.68" cy="318.41" r="2.25" fill="#ff0000"/>
<circle cx="106.46" cy="316.93" r="2.25" fill="#ff0000"/>
<circle cx="102.24" cy="315.56" r="2.25" fill="#ff0000"/>
<circle cx="98.02" cy="314.31" r="2.25" fill="#ff0000"/>
<circle cx="93.8" cy="313.16" r="2.25" fill="#ff0000"/>
<circle cx="89.58" cy="312.08" r="2.25" fill="#ff0000"/>
<circle cx="85.36" cy="311.08" r="2.25" fill="#ff0000"/>
<circle cx="81.14" cy="310.12" r="2.25" fill="#ff0000"/>
<circle cx="76.92" cy="309.2" r="2.25" fill="#ff0000"/>
<circle cx="72.7" cy="308.3" r="2.25" fill="#ff0000"/>
<circle cx="68.48" cy="307.41" r="2.25" fill="#ff0000"/>
<circle cx="64.26" cy="306.51" r="2.25" fill="#ff0000"/>
<circle cx="60.04" cy="305.87" r="2.25" fill="#ff0000"/>
<polygon points="325.9,427.48 328.38,431.76 323.43,431.76" fill="#00ff00"/>
<polygon points="321.68,427.56 324.16,431.83 319.2,431.83" fill="#00ff00"/>
<polygon points="317.46,427.6 319.94,431.88 314.99,431.88" fill="#00ff00"/>
<polygon points="313.24,427.6 315.72,431.87 310.76,431.87" fill="#00ff00"/>
<polygon points="309.02,427.55 311.5,431.82 306.54,431.82" fill="#00ff00"/>
<polygon points="304.8,427.45 307.28,431.73 302.32,431.73" fill="#00ff00"/>
<polygon points="300.58,427.32 303.06,431.59 298.11,431.59" fill="#00ff00"/>
<polygon points="296.36,427.15 298.84,431.42 293.88,431.42" fill="#00ff00"/>
<polygon points="292.14,426.95 294.62,431.23 289.67,431.23" fill="#00ff00"/>
<polygon points="287.92,426.73 290.4,431.01 285.44,431.01" fill="#00ff00"/>
<polygon points="283.7,426.5 286.18,430.77 281.22,430.77" fill="#00ff00"/>
<polygon points="279.48,426.24 281.96,430.52 277,430.52" fill="#00ff00"/>
<polygon points="275.26,425.98 277.74,430.26 272.78,430.26" fill="#00ff00"/>
<polygon points="271.04,425.72 273.52,429.99 268.56,429.99" fill="#00ff00"/>
<polygon points="266.82,425.46 269.3,429.73 264.34,429.73" fill="#00ff00"/>
<polygon points="262.6,425.2 265.08,429.47 260.12,429.47" fill="#00ff00"/>
<polygon points="258.38,424.95 260.86,429.22 255.91,429.22" fill="#00ff00"/>
<polygon points="254.16,424.65 256.64,428.92 251.69,428.92" fill="#00ff00"/>
<polygon points="249.94,424.22 252.41,428.5 247.47,428.5" fill="#00ff00"/>
<polygon points="245.72,423.6 248.2,427.88 243.25,427.88" fill="#00ff00"/>
<polygon points="241.5,422.7 243.97,426.98 239.03,426.98" fill="#00ff00"/>
<polygon points="237.28,421.45 239.76,425.73 234.81,425.73" fill="#00ff00"/>
<polygon points="233.06,419.77 235.53,424.04 230.59,424.04" fill="#00ff00"/>
<polygon points="228.84,417.58 231.31,421.85 226.36,421.85" fill="#00ff00"/>
<polygon points="224.62,414.86 227.09,419.14 222.15,419.14" fill="#00ff00"/>
<polygon points="220.4,411.68 222.88,415.95 217.93,415.95" fill="#00ff00"/>
<polygon points="216.18,408.06 218.66,412.34 213.71,412.34" fill="#00ff00"/>
<polygon points="211.96,404.07 214.43,408.35 209.48,408.35" fill="#00ff00"/>
<polygon points="207.74,399.77 210.22,404.04 205.27,404.04" fill="#00ff00"/>
<polygon points="203.52,395.32 205.99,399.6 201.04,399.6" fill="#00ff00"/>
<polygon points="199.3,390.93 201.78,395.2 196.83,395.2" fill="#00ff00"/>
<polygon points="195.08,386.59 197.56,390.87 192.61,390.87" fill="#00ff00"/>
<polygon points="190.86,382.29 193.34,386.56 188.39,386.56" fill="#00ff00"/>
<polygon points="186.64,378.02 189.11,382.3 184.16,382.3" fill="#00ff00"/>
<polygon points="182.42,373.82 184.9,378.1 179.95,378.1" fill="#00ff00"/>
<polygon points="178.2,369.7 180.67,373.98 175.72,373.98" fill="#00ff00"/>
<polygon points="173.98,365.69 176.46,369.96 171.51,369.96" fill="#00ff00"/>
<polygon points="169.76,361.8 172.23,366.07 167.28,366.07" fill="#00ff00"/>
<polygon points="165.54,358.06 168.01,362.33 163.06,362.33" fill="#00ff00"/>
<polygon points="161.32,354.48 163.79,358.76 158.84,358.76" fill="#00ff00"/>
<polygon points="157.1,351.1 159.58,355.38 154.63,355.38" fill="#00ff00"/>
<polygon points="152.88,347.94 155.35,352.21 150.41,352.21" fill="#00ff00"/>
<polygon points="148.66,345 151.13,349.28 146.19,349.28" fill="#00ff00"/>
<polygon points="144.44,342.33 146.91,346.6 141.97,346.6" fill="#00ff00"/>
<polygon points="140.22,339.93 142.69,344.2 137.75,344.2" fill="#00ff00"/>
<polygon points="136,337.82 138.47,342.1 133.53,342.1" fill="#00ff00"/>
<polygon points="131.78,336.02 134.25,340.29 129.3,340.29" fill="#00ff00"/>
<polygon points="127.56,334.47 130.03,338.75 125.09,338.75" fill="#00ff00"/>
<polygon points="123.34,333.17 125.81,337.45 120.86,337.45" fill="#00ff00"/>
<polygon points="119.12,332.09 121.59,336.36 116.64,336.36" fill="#00ff00"/>
<polygon points="114.9,331.19 117.38,335.47 112.43,335.47" fill="#00ff00"/>
<polygon points="110.68,330.46 113.15,334.74 108.2,334.74" fill="#00ff00"/>
<polygon points="106.46,329.87 108.94,334.14 103.99,334.14" fill="#00ff00"/>
<polygon points="102.24,329.38 104.71,333.66 99.76,333.66" fill="#00ff00"/>
<polygon points="98.02,328.98 100.49,333.26 95.54,333.26" fill="#00ff00"/>
<polygon points="93.8,328.64 96.28,332.92 91.33,332.92" fill="#00ff00"/>
<polygon points="89.58,328.33 92.05,332.61 87.1,332.61" fill="#00ff00"/>
<polygon points="85.36,328.03 87.83,332.31 82.89,332.31" fill="#00ff00"/>
<polygon points="81.14,327.71 83.61,331.99 78.66,331.99" fill="#00ff00"/>
<polygon points="76.92,327.35 79.39,331.62 74.44,331.62" fill="#00ff00"/>
<polygon points="72.7,326.91 75.17,331.18 70.23,331.18" fill="#00ff00"/>
<polygon points="68.48,326.37 70.95,330.65 66,330.65" fill="#00ff00"/>
<polygon points="64.26,325.71 66.73,329.98 61.78,329.98" fill="#00ff00"/>
<polygon points="60.04,325.17 62.51,329.44 57.56,329.44" fill="#00ff00"/>
<polygon points="325.9,431.12 328.38,426.84 323.43,426.84" fill="#0000ff"/>
<polygon points="321.68,431.49 324.16,427.22 319.2,427.22" fill="#0000ff"/>
<polygon points="317.46,431.85 319.94,427.57 314.99,427.57" fill="#0000ff"/>
<polygon points="313.24,432.05 315.72,427.78 310.76,427.78" fill="#0000ff"/>
<polygon points="309.02,432.11 311.5,427.83 306.54,427.83" fill="#0000ff"/>
<polygon points="304.8,432.02 307.28,427.74 302.32,427.74" fill="#0000ff"/>
<polygon points="300.58,431.78 303.06,427.5 298.11,427.5" fill="#0000ff"/>
<polygon points="296.36,431.4 298.84,427.12 293.88,427.12" fill="#0000ff"/>
<polygon points="292.14,430.87 294.62,426.59 289.67,426.59" fill="#0000ff"/>
<polygon points="287.92,430.2 290.4,425.92 285.44,425.92" fill="#0000ff"/>
<polygon points="283.7,429.38 286.18,425.11 281.22,425.11" fill="#0000ff"/>
<polygon points="279.48,428.43 281.96,424.16 277,424.16" fill="#0000ff"/>
<polygon points="275.26,427.34 277.74,423.06 272.78,423.06" fill="#0000ff"/>
<polygon points="271.04,426.11 273.52,421.83 268.56,421.83" fill="#0000ff"/>
<polygon points="266.82,424.74 269.3,420.46 264.34,420.46" fill="#0000ff"/>
<polygon points="262.6,423.24 265.08,418.96 260.12,418.96" fill="#0000ff"/>
<polygon points="258.38,421.6 260.86,417.32 255.91,417.32" fill="#0000ff"/>
<polygon points="254.16,419.83 256.64,415.55 251.69,415.55" fill="#0000ff"/>
<polygon points="249.94,417.92 252.41,413.65 247.47,413.65" fill="#0000ff"/>
<polygon points="245.72,415.89 248.2,411.61 243.25,411.61" fill="#0000ff"/>
<polygon points="241.5,413.72 243.97,409.45 239.03,409.45" fill="#0000ff"/>
<polygon points="237.28,411.43 239.76,407.16 234.81,407.16" fill="#0000ff"/>
<polygon points="233.06,409.01 235.53,404.74 230.59,404.74" fill="#0000ff"/>
<polygon points="228.84,406.46 231.31,402.19 226.36,402.19" fill="#0000ff"/>
<polygon points="224.62,403.79 227.09,399.52 222.15,399.52" fill="#0000ff"/>
<polygon points="220.4,401 222.88,396.72 217.93,396.72" fill="#0000ff"/>
<polygon points="216.18,398.08 218.66,393.81 213.71,393.81" fill="#0000ff"/>
<polygon points="211.96,395.04 214.43,390.77 209.48,390.77" fill="#0000ff"/>
<polygon points="207.74,391.89 210.22,387.61 205.27,387.61" fill="#0000ff"/>
<polygon points="203.52,388.61 205.99,384.33 201.04,384.33" fill="#0000ff"/>
<polygon points="199.3,385.21 201.78,380.94 196.83,380.94" fill="#0000ff"/>
<polygon points="195.08,381.7 197.56,377.43 192.61,377.43" fill="#0000ff"/>
<polygon points="190.86,378.08 193.34,373.8 188.39,373.8" fill="#0000ff"/>
<polygon points="186.64,374.34 189.11,370.06 184.16,370.06" fill="#0000ff"/>
<polygon points="182.42,370.48 184.9,366.21 179.95,366.21" fill="#0000ff"/>
<polygon points="178.2,366.51 180.67,362.23 175.72,362.23" fill="#0000ff"/>
<polygon points="173.98,362.41 176.46,358.14 171.51,358.14" fill="#0000ff"/>
<polygon points="169.76,358.2 172.23,353.92 167.28,353.92" fill="#0000ff"/>
<polygon points="165.54,353.85 168.01,349.58 163.06,349.58" fill="#0000ff"/>
<polygon points="161.32,349.4 163.79,345.13 158.84,345.13" fill="#0000ff"/>
<polygon points="157.1,344.9 159.58,340.63 154.63,340.63" fill="#0000ff"/>
<polygon points="152.88,340.42 155.35,336.15 150.41,336.15" fill="#0000ff"/>
<polygon points="148.66,336.02 151.13,331.75 146.19,331.75" fill="#0000ff"/>
<polygon points="144.44,331.77 146.91,327.49 141.97,327.49" fill="#0000ff"/>
<polygon points="140.22,327.73 142.69,323.45 137.75,323.45" fill="#0000ff"/>
<polygon points="136,323.96 138.47,319.68 133.53,319.68" fill="#0000ff"/>
<polygon points="131.78,320.49 134.25,316.21 129.3,316.21" fill="#0000ff"/>
<polygon points="127.56,317.3 130.03,313.02 125.09,313.02" fill="#0000ff"/>
<polygon points="123.34,314.38 125.81,310.1 120.86,310.1" fill="#0000ff"/>
<polygon points="119.12,311.71 121.59,307.43 116.64,307.43" fill="#0000ff"/>
<polygon points="114.9,309.27 117.38,305 112.43,305" fill="#0000ff"/>
<polygon points="110.68,307.06 113.15,302.79 108.2,302.79" fill="#0000ff"/>
<polygon points="106.46,305.06 108.94,300.78 103.99,300.78" fill="#0000ff"/>
<polygon points="102.24,303.25 104.71,298.97 99.76,298.97" fill="#0000ff"/>
<polygon points="98.02,301.62 100.49,297.34 95.54,297.34" fill="#0000ff"/>
<polygon points="93.8,300.15 96.28,295.87 91.33,295.87" fill="#0000ff"/>
<polygon points="89.58,298.83 92.05,294.55 87.1,294.55" fill="#0000ff"/>
<polygon points="85.36,297.64 87.83,293.37 82.89,293.37" fill="#0000ff"/>
<polygon points="81.14,296.57 83.61,292.3 78.66,292.3" fill="#0000ff"/>
<polygon points="76.92,295.61 79.39,291.33 74.44,291.33" fill="#0000ff"/>
<polygon points="72.7,294.73 75.17,290.46 70.23,290.46" fill="#0000ff"/>
<polygon points="68.48,293.93 70.95,289.66 66,289.66" fill="#0000ff"/>
<polygon points="64.26,293.19 66.73,288.92 61.78,288.92" fill="#0000ff"/>
<polygon points="60.04,292.71 62.51,288.43 57.56,288.43" fill="#0000ff"/>
<polygon points="325.9,420.89 328.6,423.59 325.9,426.29 323.2,423.59" fill="#00ffff"/>
<polygon points="321.68,420.81 324.38,423.51 321.68,426.21 318.98,423.51" fill="#00ffff"/>
<polygon points="317.46,420.66 320.16,423.36 317.46,426.06 314.76,423.36" fill="#00ffff"/>
<polygon points="313.24,420.48 315.94,423.18 313.24,425.88 310.54,423.18" fill="#00ffff"/>
<polygon points="309.02,420.24 311.72,422.94 309.02,425.64 306.32,422.94" fill="#00ffff"/>
<polygon points="304.8,419.94 307.5,422.64 304.8,425.34 302.1,422.64" fill="#00ffff"/>
<polygon points="300.58,419.58 303.28,422.28 300.58,424.98 297.88,422.28" fill="#00ffff"/>
<polygon points="296.36,419.15 299.06,421.85 296.36,424.55 293.66,421.85" fill="#00ffff"/>
<polygon points="292.14,418.63 294.84,421.33 292.14,424.03 289.44,421.33" fill="#00ffff"/>
<polygon points="287.92,418.03 290.62,420.73 287.92,423.43 285.22,420.73" fill="#00ffff"/>
<polygon points="283.7,417.33 286.4,420.03 283.7,422.73 281,420.03" fill="#00ffff"/>
<polygon points="279.48,416.53 282.18,419.23 279.48,421.93 276.78,419.23" fill="#00ffff"/>
<polygon points="275.26,415.62 277.96,418.32 275.26,421.02 272.56,418.32" fill="#00ffff"/>
<polygon points="271.04,414.59 273.74,417.29 271.04,419.99 268.34,417.29" fill="#00ffff"/>
<polygon points="266.82,413.44 269.52,416.14 266.82,418.84 264.12,416.14" fill="#00ffff"/>
<polygon points="262.6,412.15 265.3,414.85 262.6,417.55 259.9,414.85" fill="#00ffff"/>
<polygon points="258.38,410.73 261.08,413.43 258.38,416.13 255.68,413.43" fill="#00ffff"/>
<polygon points="254.16,409.16 256.86,411.86 254.16,414.56 251.46,411.86" fill="#00ffff"/>
<polygon points="249.94,407.46 252.64,410.16 249.94,412.86 247.24,410.16" fill="#00ffff"/>
<polygon points="245.72,405.62 248.42,408.32 245.72,411.02 243.02,408.32" fill="#00ffff"/>
<polygon points="241.5,403.65 244.2,406.35 241.5,409.05 238.8,406.35" fill="#00ffff"/>
<polygon points="237.28,401.54 239.98,404.24 237.28,406.94 234.58,404.24" fill="#00ffff"/>
<polygon points="233.06,399.31 235.76,402.01 233.06,404.71 230.36,402.01" fill="#00ffff"/>
<polygon points="228.84,396.94 231.54,399.64 228.84,402.34 226.14,399.64" fill="#00ffff"/>
<polygon points="224.62,394.45 227.32,397.15 224.62,399.85 221.92,397.15" fill="#00ffff"/>
<polygon points="220.4,391.84 223.1,394.54 220.4,397.24 217.7,394.54" fill="#00ffff"/>
<polygon points="216.18,389.1 218.88,391.8 216.18,394.5 213.48,391.8" fill="#00ffff"/>
<polygon points="211.96,386.24 214.66,388.94 211.96,391.64 209.26,388.94" fill="#00ffff"/>
<polygon points="207.74,383.26 210.44,385.96 207.74,388.66 205.04,385.96" fill="#00ffff"/>
<polygon points="203.52,380.17 206.22,382.87 203.52,385.57 200.82,382.87" fill="#00ffff"/>
<polygon points="199.3,376.96 202,379.66 199.3,382.36 196.6,379.66" fill="#00ffff"/>
<polygon points="195.08,373.63 197.78,376.33 195.08,379.03 192.38,376.33" fill="#00ffff"/>
<polygon points="190.86,370.2 193.56,372.9 190.86,375.6 188.16,372.9" fill="#00ffff"/>
<polygon points="186.64,366.67 189.34,369.37 186.64,372.07 183.94,369.37" fill="#00ffff"/>
<polygon points="182.42,363.06 185.12,365.76 182.42,368.46 179.72,365.76" fill="#00ffff"/>
<polygon points="178.2,359.39 180.9,362.09 178.2,364.79 175.5,362.09" fill="#00ffff"/>
<polygon points="173.98,355.68 176.68,358.38 173.98,361.08 171.28,358.38" fill="#00ffff"/>
<polygon points="169.76,351.94 172.46,354.64 169.76,357.34 167.06,354.64" fill="#00ffff"/>
<polygon points="165.54,348.19 168.24,350.89 165.54,353.59 162.84,350.89" fill="#00ffff"/>
<polygon points="161.32,344.45 164.02,347.15 161.32,349.85 158.62,347.15" fill="#00ffff"/>
<polygon points="157.1,340.75 159.8,343.45 157.1,346.15 154.4,343.45" fill="#00ffff"/>
<polygon points="152.88,337.1 155.58,339.8 152.88,342.5 150.18,339.8" fill="#00ffff"/>
<polygon points="148.66,333.53 151.36,336.23 148.66,338.93 145.96,336.23" fill="#00ffff"/>
<polygon points="144.44,330.07 147.14,332.77 144.44,335.47 141.74,332.77" fill="#00ffff"/>
<polygon points="140.22,326.74 142.92,329.44 140.22,332.14 137.52,329.44" fill="#00ffff"/>
<polygon points="136,323.57 138.7,326.27 136,328.97 133.3,326.27" fill="#00ffff"/>
<polygon points="131.78,320.57 134.48,323.27 131.78,325.97 129.08,323.27" fill="#00ffff"/>
<polygon points="127.56,317.74 130.26,320.44 127.56,323.14 124.86,320.44" fill="#00ffff"/>
<polygon points="123.34,315.11 126.04,317.81 123.34,320.51 120.64,317.81" fill="#00ffff"/>
<polygon points="119.12,312.68 121.82,315.38 119.12,318.08 116.42,315.38" fill="#00ffff"/>
<polygon points="114.9,310.46 117.6,313.16 114.9,315.86 112.2,313.16" fill="#00ffff"/>
<polygon points="110.68,308.46 113.38,311.16 110.68,313.86 107.98,311.16" fill="#00ffff"/>
<polygon points="106.46,306.69 109.16,309.39 106.46,312.09 103.76,309.39" fill="#00ffff"/>
<polygon points="102.24,305.15 104.94,307.85 102.24,310.55 99.54,307.85" fill="#00ffff"/>
<polygon points="98.02,303.85 100.72,306.55 98.02,309.25 95.32,306.55" fill="#00ffff"/>
<polygon points="93.8,302.77 96.5,305.47 93.8,308.17 91.1,305.47" fill="#00ffff"/>
<polygon points="89.58,301.91 92.28,304.61 89.58,307.31 86.88,304.61" fill="#00ffff"/>
<polygon points="85.36,301.28 88.06,303.98 85.36,306.68 82.66,303.98" fill="#00ffff"/>
<polygon points="81.14,300.86 83.84,303.56 81.14,306.26 78.44,303.56" fill="#00ffff"/>
<polygon points="76.92,300.66 79.62,303.36 76.92,306.06 74.22,303.36" fill="#00ffff"/>
<polygon points="72.7,300.66 75.4,303.36 72.7,306.06 70,303.36" fill="#00ffff"/>
<polygon points="68.48,300.87 71.18,303.57 68.48,306.27 65.78,303.57" fill="#00ffff"/>
<polygon points="64.26,301.27 66.96,303.97 64.26,306.67 61.56,303.97" fill="#00ffff"/>
<polygon points="60.04,301.67 62.74,304.37 60.04,307.07 57.34,304.37" fill="#00ffff"/>
<polygon points="323.43,422.08 327.7,419.61 327.7,424.56" fill="#ff00ff"/>
<polygon points="319.2,422.17 323.48,419.69 323.48,424.64" fill="#ff00ff"/>
<polygon points="314.99,422.29 319.26,419.82 319.26,424.77" fill="#ff00ff"/>
<polygon points="310.76,422.42 315.04,419.94 315.04,424.89" fill="#ff00ff"/>
<polygon points="306.54,422.54 310.82,420.06 310.82,425.01" fill="#ff00ff"/>
<polygon points="302.32,422.65 306.6,420.18 306.6,425.13" fill="#ff00ff"/>
<polygon points="298.11,422.75 302.38,420.27 302.38,425.22" fill="#ff00ff"/>
<polygon points="293.88,422.82 298.16,420.35 298.16,425.3" fill="#ff00ff"/>
<polygon points="289.67,422.86 293.94,420.39 293.94,425.34" fill="#ff00ff"/>
<polygon points="285.44,422.87 289.72,420.39 289.72,425.34" fill="#ff00ff"/>
<polygon points="281.22,422.83 285.5,420.36 285.5,425.31" fill="#ff00ff"/>
<polygon points="277,422.74 281.28,420.27 281.28,425.22" fill="#ff00ff"/>
<polygon points="272.78,422.6 277.06,420.12 277.06,425.07" fill="#ff00ff"/>
<polygon points="268.56,422.38 272.84,419.91 272.84,424.86" fill="#ff00ff"/>
<polygon points="264.34,422.1 268.62,419.63 268.62,424.58" fill="#ff00ff"/>
<polygon points="260.12,421.74 264.4,419.27 264.4,424.22" fill="#ff00ff"/>
<polygon points="255.91,421.3 260.18,418.82 260.18,423.77" fill="#ff00ff"/>
<polygon points="251.69,420.75 255.96,418.28 255.96,423.23" fill="#ff00ff"/>
<polygon points="247.47,420.1 251.74,417.62 251.74,422.57" fill="#ff00ff"/>
<polygon points="243.25,419.31 247.52,416.83 247.52,421.78" fill="#ff00ff"/>
<polygon points="239.03,418.37 243.3,415.9 243.3,420.85" fill="#ff00ff"/>
<polygon points="234.81,417.27 239.08,414.8 239.08,419.75" fill="#ff00ff"/>
<polygon points="230.59,416 234.86,413.52 234.86,418.47" fill="#ff00ff"/>
<polygon points="226.36,414.52 230.64,412.05 230.64,417" fill="#ff00ff"/>
<polygon points="222.15,412.85 226.42,410.38 226.42,415.33" fill="#ff00ff"/>
<polygon points="217.93,410.98 222.2,408.5 222.2,413.45" fill="#ff00ff"/>
<polygon points="213.71,408.9 217.98,406.42 217.98,411.37" fill="#ff00ff"/>
<polygon points="209.48,406.62 213.76,404.15 213.76,409.1" fill="#ff00ff"/>
<polygon points="205.27,404.14 209.54,401.67 209.54,406.62" fill="#ff00ff"/>
<polygon points="201.04,401.47 205.32,398.99 205.32,403.94" fill="#ff00ff"/>
<polygon points="196.83,398.59 201.1,396.12 201.1,401.07" fill="#ff00ff"/>
<polygon points="192.61,395.52 196.88,393.04 196.88,397.99" fill="#ff00ff"/>
<polygon points="188.39,392.25 192.66,389.78 192.66,394.73" fill="#ff00ff"/>
<polygon points="184.16,388.83 188.44,386.36 188.44,391.31" fill="#ff00ff"/>
<polygon points="179.95,385.3 184.22,382.83 184.22,387.78" fill="#ff00ff"/>
<polygon points="175.72,381.71 180,379.24 180,384.19" fill="#ff00ff"/>
<polygon points="171.51,378.11 175.78,375.63 175.78,380.58" fill="#ff00ff"/>
<polygon points="167.28,374.54 171.56,372.06 171.56,377.01" fill="#ff00ff"/>
<polygon points="163.06,371.05 167.34,368.58 167.34,373.53" fill="#ff00ff"/>
<polygon points="158.84,367.69 163.12,365.22 163.12,370.17" fill="#ff00ff"/>
<polygon points="154.63,364.48 158.9,362 158.9,366.95" fill="#ff00ff"/>
<polygon points="150.41,361.44 154.68,358.97 154.68,363.92" fill="#ff00ff"/>
<polygon points="146.19,358.61 150.46,356.13 150.46,361.08" fill="#ff00ff"/>
<polygon points="141.97,356 146.24,353.52 146.24,358.47" fill="#ff00ff"/>
<polygon points="137.75,353.63 142.02,351.16 142.02,356.11" fill="#ff00ff"/>
<polygon points="133.53,351.54 137.8,349.07 137.8,354.02" fill="#ff00ff"/>
<polygon points="129.3,349.73 133.58,347.25 133.58,352.2" fill="#ff00ff"/>
<polygon points="125.09,348.16 129.36,345.69 129.36,350.64" fill="#ff00ff"/>
<polygon points="120.86,346.83 125.14,344.35 125.14,349.3" fill="#ff00ff"/>
<polygon points="116.64,345.69 120.92,343.22 120.92,348.17" fill="#ff00ff"/>
<polygon points="112.43,344.75 116.7,342.27 116.7,347.22" fill="#ff00ff"/>
<polygon points="108.2,343.97 112.48,341.49 112.48,346.44" fill="#ff00ff"/>
<polygon points="103.99,343.33 108.26,340.85 108.26,345.8" fill="#ff00ff"/>
<polygon points="99.76,342.8 104.04,340.33 104.04,345.28" fill="#ff00ff"/>
<polygon points="95.54,342.38 99.82,339.9 99.82,344.85" fill="#ff00ff"/>
<polygon points="91.33,342.03 95.6,339.55 95.6,344.5" fill="#ff00ff"/>
<polygon points="87.1,341.73 91.38,339.26 91.38,344.21" fill="#ff00ff"/>
<polygon points="82.89,341.47 87.16,338.99 87.16,343.94" fill="#ff00ff"/>
<polygon points="78.66,341.21 82.94,338.74 82.94,343.69" fill="#ff00ff"/>
<polygon points="74.44,340.95 78.72,338.47 78.72,343.42" fill="#ff00ff"/>
<polygon points="70.23,340.64 74.5,338.17 74.5,343.12" fill="#ff00ff"/>
<polygon points="66,340.29 70.28,337.81 70.28,342.76" fill="#ff00ff"/>
<polygon points="61.78,339.85 66.06,337.37 66.06,342.32" fill="#ff00ff"/>
<polygon points="57.56,339.49 61.84,337.02 61.84,341.97" fill="#ff00ff"/>
<polygon points="328.38,425.44 324.1,422.97 324.1,427.92" fill="#808000"/>
<polygon points="324.16,425.82 319.88,423.34 319.88,428.29" fill="#808000"/>
<polygon points="319.94,426.22 315.66,423.74 315.66,428.69" fill="#808000"/>
<polygon points="315.72,426.51 311.44,424.04 311.44,428.99" fill="#808000"/>
<polygon points="311.5,426.7 307.22,424.23 307.22,429.18" fill="#808000"/>
<polygon points="307.28,426.78 303,424.31 303,429.26" fill="#808000"/>
<polygon points="303.06,426.75 298.78,424.28 298.78,429.23" fill="#808000"/>
<polygon points="298.84,426.6 294.56,424.13 294.56,429.08" fill="#808000"/>
<polygon points="294.62,426.34 290.34,423.86 290.34,428.81" fill="#808000"/>
<polygon points="290.4,425.96 286.12,423.48 286.12,428.43" fill="#808000"/>
<polygon points="286.18,425.45 281.9,422.98 281.9,427.93" fill="#808000"/>
<polygon points="281.96,424.83 277.68,422.35 277.68,427.3" fill="#808000"/>
<polygon points="277.74,424.07 273.46,421.6 273.46,426.55" fill="#808000"/>
<polygon points="273.52,423.19 269.24,420.72 269.24,425.67" fill="#808000"/>
<polygon points="269.3,422.18 265.02,419.71 265.02,424.66" fill="#808000"/>
<polygon points="265.08,421.04 260.8,418.56 260.8,423.51" fill="#808000"/>
<polygon points="260.86,419.76 256.58,417.29 256.58,422.24" fill="#808000"/>
<polygon points="256.64,418.35 252.36,415.87 252.36,420.82" fill="#808000"/>
<polygon points="252.41,416.8 248.14,414.32 248.14,419.27" fill="#808000"/>
<polygon points="248.2,415.1 243.92,412.63 243.92,417.58" fill="#808000"/>
<polygon points="243.97,413.26 239.7,410.79 239.7,415.74" fill="#808000"/>
<polygon points="239.76,411.28 235.48,408.81 235.48,413.76" fill="#808000"/>
<polygon points="235.53,409.15 231.26,406.67 231.26,411.62" fill="#808000"/>
<polygon points="231.31,406.87 227.04,404.39 227.04,409.34" fill="#808000"/>
<polygon points="227.09,404.43 222.82,401.96 222.82,406.91" fill="#808000"/>
<polygon points="222.88,401.85 218.6,399.37 218.6,404.32" fill="#808000"/>
<polygon points="218.66,399.1 214.38,396.63 214.38,401.58" fill="#808000"/>
<polygon points="214.43,396.2 210.16,393.72 210.16,398.67" fill="#808000"/>
<polygon points="210.22,393.13 205.94,390.66 205.94,395.61" fill="#808000"/>
<polygon points="205.99,389.9 201.72,387.43 201.72,392.38" fill="#808000"/>
<polygon points="201.78,386.51 197.5,384.03 197.5,388.98" fill="#808000"/>
<polygon points="197.56,382.94 193.28,380.47 193.28,385.42" fill="#808000"/>
<polygon points="193.34,379.21 189.06,376.74 189.06,381.69" fill="#808000"/>
<polygon points="189.11,375.35 184.84,372.87 184.84,377.82" fill="#808000"/>
<polygon points="184.9,371.39 180.62,368.91 180.62,373.86" fill="#808000"/>
<polygon points="180.67,367.37 176.4,364.9 176.4,369.85" fill="#808000"/>
<polygon points="176.46,363.34 172.18,360.87 172.18,365.82" fill="#808000"/>
<polygon points="172.23,359.34 167.96,356.87 167.96,361.82" fill="#808000"/>
<polygon points="168.01,355.4 163.74,352.93 163.74,357.88" fill="#808000"/>
<polygon points="163.79,351.57 159.52,349.1 159.52,354.05" fill="#808000"/>
<polygon points="159.58,347.89 155.3,345.42 155.3,350.37" fill="#808000"/>
<polygon points="155.35,344.4 151.08,341.92 151.08,346.87" fill="#808000"/>
<polygon points="151.13,341.13 146.86,338.65 146.86,343.6" fill="#808000"/>
<polygon points="146.91,338.13 142.64,335.66 142.64,340.61" fill="#808000"/>
<polygon points="142.69,335.44 138.42,332.97 138.42,337.92" fill="#808000"/>
<polygon points="138.47,333.1 134.2,330.63 134.2,335.58" fill="#808000"/>
<polygon points="134.25,331.11 129.98,328.63 129.98,333.58" fill="#808000"/>
<polygon points="130.03,329.43 125.76,326.96 125.76,331.91" fill="#808000"/>
<polygon points="125.81,328.04 121.54,325.57 121.54,330.52" fill="#808000"/>
<polygon points="121.59,326.9 117.32,324.43 117.32,329.38" fill="#808000"/>
<polygon points="117.38,325.99 113.1,323.52 113.1,328.47" fill="#808000"/>
<polygon points="113.15,325.27 108.88,322.8 108.88,327.75" fill="#808000"/>
<polygon points="108.94,324.71 104.66,322.23 104.66,327.18" fill="#808000"/>
<polygon points="104.71,324.27 100.44,321.8 100.44,326.75" fill="#808000"/>
<polygon points="100.49,323.93 96.22,321.46 96.22,326.41" fill="#808000"/>
<polygon points="96.28,323.65 92,321.18 92,326.13" fill="#808000"/>
<polygon points="92.05,323.4 87.78,320.93 87.78,325.88" fill="#808000"/>
<polygon points="87.83,323.15 83.56,320.67 83.56,325.62" fill="#808000"/>
<polygon points="83.61,322.85 79.34,320.38 79.34,325.33" fill="#808000"/>
<polygon points="79.39,322.48 75.12,320.01 75.12,324.96" fill="#808000"/>
<polygon points="75.17,322.01 70.9,319.53 70.9,324.48" fill="#808000"/>
<polygon points="70.95,321.4 66.68,318.92 66.68,323.87" fill="#808000"/>
<polygon points="66.73,320.61 62.46,318.14 62.46,323.09" fill="#808000"/>
<polygon points="62.51,319.95 58.24,317.47 58.24,322.42" fill="#808000"/>
<circle cx="325.9" cy="437.8" r="2.25" fill="#800080"/>
<circle cx="321.68" cy="437.12" r="2.25" fill="#800080"/>
<circle cx="317.46" cy="436.45" r="2.25" fill="#800080"/>
<circle cx="313.24" cy="436.01" r="2.25" fill="#800080"/>
<circle cx="309.02" cy="435.76" r="2.25" fill="#800080"/>
<circle cx="304.8" cy="435.67" r="2.25" fill="#800080"/>
<circle cx="300.58" cy="435.7" r="2.25" fill="#800080"/>
<circle cx="296.36" cy="435.81" r="2.25" fill="#800080"/>
<circle cx="292.14" cy="435.98" r="2.25" fill="#800080"/>
<circle cx="287.92" cy="436.16" r="2.25" fill="#800080"/>
<circle cx="283.7" cy="436.31" r="2.25" fill="#800080"/>
<circle cx="279.48" cy="436.42" r="2.25" fill="#800080"/>
<circle cx="275.26" cy="436.42" r="2.25" fill="#800080"/>
<circle cx="271.04" cy="436.31" r="2.25" fill="#800080"/>
<circle cx="266.82" cy="436.02" r="2.25" fill="#800080"/>
<circle cx="262.6" cy="435.54" r="2.25" fill="#800080"/>
<circle cx="258.38" cy="434.83" r="2.25" fill="#800080"/>
<circle cx="254.16" cy="433.88" r="2.25" fill="#800080"/>
<circle cx="249.94" cy="432.7" r="2.25" fill="#800080"/>
<circle cx="245.72" cy="431.3" r="2.25" fill="#800080"/>
<circle cx="241.5" cy="429.69" r="2.25" fill="#800080"/>
<circle cx="237.28" cy="427.88" r="2.25" fill="#800080"/>
<circle cx="233.06" cy="425.87" r="2.25" fill="#800080"/>
<circle cx="228.84" cy="423.68" r="2.25" fill="#800080"/>
<circle cx="224.62" cy="421.31" r="2.25" fill="#800080"/>
<circle cx="220.4" cy="418.77" r="2.25" fill="#800080"/>
<circle cx="216.18" cy="416.08" r="2.25" fill="#800080"/>
<circle cx="211.96" cy="413.23" r="2.25" fill="#800080"/>
<circle cx="207.74" cy="410.24" r="2.25" fill="#800080"/>
<circle cx="203.52" cy="407.12" r="2.25" fill="#800080"/>
<circle cx="199.3" cy="403.88" r="2.25" fill="#800080"/>
<circle cx="195.08" cy="400.52" r="2.25" fill="#800080"/>
<circle cx="190.86" cy="397.05" r="2.25" fill="#800080"/>
<circle cx="186.64" cy="393.51" r="2.25" fill="#800080"/>
<circle cx="182.42" cy="389.94" r="2.25" fill="#800080"/>
<circle cx="178.2" cy="386.37" r="2.25" fill="#800080"/>
<circle cx="173.98" cy="382.84" r="2.25" fill="#800080"/>
<circle cx="169.76" cy="379.38" r="2.25" fill="#800080"/>
<circle cx="165.54" cy="376.05" r="2.25" fill="#800080"/>
<circle cx="161.32" cy="372.86" r="2.25" fill="#800080"/>
<circle cx="157.1" cy="369.87" r="2.25" fill="#800080"/>
<circle cx="152.88" cy="367.11" r="2.25" fill="#800080"/>
<circle cx="148.66" cy="364.61" r="2.25" fill="#800080"/>
<circle cx="144.44" cy="362.42" r="2.25" fill="#800080"/>
<circle cx="140.22" cy="360.57" r="2.25" fill="#800080"/>
<circle cx="136" cy="359.09" r="2.25" fill="#800080"/>
<circle cx="131.78" cy="357.98" r="2.25" fill="#800080"/>
<circle cx="127.56" cy="357.16" r="2.25" fill="#800080"/>
<circle cx="123.34" cy="356.59" r="2.25" fill="#800080"/>
<circle cx="119.12" cy="356.19" r="2.25" fill="#800080"/>
<circle cx="114.9" cy="355.9" r="2.25" fill="#800080"/>
<circle cx="110.68" cy="355.66" r="2.25" fill="#800080"/>
<circle cx="106.46" cy="355.42" r="2.25" fill="#800080"/>
<circle cx="102.24" cy="355.13" r="2.25" fill="#800080"/>
<circle cx="98.02" cy="354.79" r="2.25" fill="#800080"/>
<circle cx="93.8" cy="354.4" r="2.25" fill="#800080"/>
<circle cx="89.58" cy="353.96" r="2.25" fill="#800080"/>
<circle cx="85.36" cy="353.47" r="2.25" fill="#800080"/>
<circle cx="81.14" cy="352.93" r="2.25" fill="#800080"/>
<circle cx="76.92" cy="352.33" r="2.25" fill="#800080"/>
<circle cx="72.7" cy="351.68" r="2.25" fill="#800080"/>
<circle cx="68.48" cy="350.97" r="2.25" fill="#800080"/>
<circle cx="64.26" cy="350.21" r="2.25" fill="#800080"/>
<circle cx="60.04" cy="349.64" r="2.25" fill="#800080"/>
</g>
<line x1="18.1" y1="405.3" x2="31" y2="405.3" stroke="#111" stroke-width="1.4"/>
<line x1="18.1" y1="390" x2="31" y2="390" stroke="#111" stroke-width="1.4"/>
<text x="0" y="0" font-family='"Liberation Serif", serif' font-size="12.7" font-weight="bold" font-style="normal" text-anchor="middle" textLength="7.5" lengthAdjust="spacingAndGlyphs" transform="translate(30.3,397.2) rotate(-90)">Z</text>
<text x="0" y="0" font-family='"Liberation Serif", serif' font-size="12.7" font-weight="bold" font-style="normal" text-anchor="start" textLength="62.4" lengthAdjust="spacingAndGlyphs" transform="translate(30.3,382.2) rotate(-90)">(Ohm·cm<tspan font-size="8.3" dy="-5">2</tspan><tspan dy="5">)</tspan></text>
<text x="186.3" y="506" font-family='"Liberation Serif", serif' font-size="12.5" font-weight="bold" font-style="normal" text-anchor="middle" textLength="92" lengthAdjust="spacingAndGlyphs" xml:space="preserve">Frequency  (Hz)</text>
<text x="-1" y="266.2" font-family='"Liberation Serif", serif' font-size="29" font-weight="bold" font-style="normal" text-anchor="start" >(c)</text>
<rect x="192" y="265.7" width="4.4" height="4.4" fill="#000000"/>
<text x="209.6" y="271.5" font-family='"Liberation Serif", serif' font-size="10.8" font-weight="bold" font-style="normal" text-anchor="start" >Blank</text>
<polygon points="261.5,265.26 264.14,267.9 261.5,270.54 258.86,267.9" fill="#00ffff"/>
<text x="280" y="271.5" font-family='"Liberation Serif", serif' font-size="10.8" font-weight="bold" font-style="normal" text-anchor="start" >HCTZ</text>
<circle cx="194.2" cy="281.6" r="2.2" fill="#ff0000"/>
<text x="209.6" y="285.2" font-family='"Liberation Serif", serif' font-size="10.8" font-weight="bold" font-style="normal" text-anchor="start" >LK</text>
<polygon points="260.78,281.6 264.96,279.18 264.96,284.02" fill="#ff00ff"/>
<text x="279" y="285.2" font-family='"Liberation Serif", serif' font-size="10.8" font-weight="bold" font-style="normal" text-anchor="start" >VLA</text>
<polygon points="194.2,293.28 196.62,297.46 191.78,297.46" fill="#00ff00"/>
<text x="209.6" y="299.3" font-family='"Liberation Serif", serif' font-size="10.8" font-weight="bold" font-style="normal" text-anchor="start" >ATEN</text>
<polygon points="266.72,295.7 262.54,293.28 262.54,298.12" fill="#808000"/>
<text x="280.7" y="299.3" font-family='"Liberation Serif", serif' font-size="10.8" font-weight="bold" font-style="normal" text-anchor="start" >FUR</text>
<polygon points="194.2,312.32 196.62,308.14 191.78,308.14" fill="#0000ff"/>
<text x="209.6" y="313.5" font-family='"Liberation Serif", serif' font-size="10.8" font-weight="bold" font-style="normal" text-anchor="start" >NF</text>
<circle cx="264.3" cy="309.9" r="2.2" fill="#800080"/>
<text x="280.7" y="313.5" font-family='"Liberation Serif", serif' font-size="10.8" font-weight="bold" font-style="normal" text-anchor="start" >CAP</text>
<rect x="400.5" y="259.2" width="265.9" height="214.1" fill="none" stroke="#2a2a2a" stroke-width="1.3"/>
<clipPath id="clipD"><rect x="397.5" y="259.2" width="271.9" height="214.10000000000002"/></clipPath>
<line x1="398.3" y1="472.95" x2="400.5" y2="472.95" stroke="#2a2a2a" stroke-width="1.3"/>
<line x1="396.5" y1="451.6" x2="400.5" y2="451.6" stroke="#2a2a2a" stroke-width="1.3"/>
<text x="393.6" y="456.1" font-family='"Liberation Serif", serif' font-size="13.3" font-weight="bold" font-style="normal" text-anchor="end" textLength="6.7" lengthAdjust="spacingAndGlyphs" >0</text>
<line x1="398.3" y1="430.25" x2="400.5" y2="430.25" stroke="#2a2a2a" stroke-width="1.3"/>
<line x1="396.5" y1="408.9" x2="400.5" y2="408.9" stroke="#2a2a2a" stroke-width="1.3"/>
<text x="393.6" y="413.4" font-family='"Liberation Serif", serif' font-size="13.3" font-weight="bold" font-style="normal" text-anchor="end" textLength="13.4" lengthAdjust="spacingAndGlyphs" >20</text>
<line x1="398.3" y1="387.55" x2="400.5" y2="387.55" stroke="#2a2a2a" stroke-width="1.3"/>
<line x1="396.5" y1="366.2" x2="400.5" y2="366.2" stroke="#2a2a2a" stroke-width="1.3"/>
<text x="393.6" y="370.7" font-family='"Liberation Serif", serif' font-size="13.3" font-weight="bold" font-style="normal" text-anchor="end" textLength="13.4" lengthAdjust="spacingAndGlyphs" >40</text>
<line x1="398.3" y1="344.85" x2="400.5" y2="344.85" stroke="#2a2a2a" stroke-width="1.3"/>
<line x1="396.5" y1="323.5" x2="400.5" y2="323.5" stroke="#2a2a2a" stroke-width="1.3"/>
<text x="393.6" y="328" font-family='"Liberation Serif", serif' font-size="13.3" font-weight="bold" font-style="normal" text-anchor="end" textLength="13.4" lengthAdjust="spacingAndGlyphs" >60</text>
<line x1="398.3" y1="302.15" x2="400.5" y2="302.15" stroke="#2a2a2a" stroke-width="1.3"/>
<line x1="396.5" y1="280.8" x2="400.5" y2="280.8" stroke="#2a2a2a" stroke-width="1.3"/>
<text x="393.6" y="285.3" font-family='"Liberation Serif", serif' font-size="13.3" font-weight="bold" font-style="normal" text-anchor="end" textLength="13.4" lengthAdjust="spacingAndGlyphs" >80</text>
<line x1="398.3" y1="259.45" x2="400.5" y2="259.45" stroke="#2a2a2a" stroke-width="1.3"/>
<line x1="407.44" y1="473.3" x2="407.44" y2="475.3" stroke="#2a2a2a" stroke-width="1.3"/>
<line x1="412.4" y1="473.3" x2="412.4" y2="475.3" stroke="#2a2a2a" stroke-width="1.3"/>
<line x1="416.25" y1="473.3" x2="416.25" y2="475.3" stroke="#2a2a2a" stroke-width="1.3"/>
<line x1="419.39" y1="473.3" x2="419.39" y2="475.3" stroke="#2a2a2a" stroke-width="1.3"/>
<line x1="422.05" y1="473.3" x2="422.05" y2="475.3" stroke="#2a2a2a" stroke-width="1.3"/>
<line x1="424.35" y1="473.3" x2="424.35" y2="475.3" stroke="#2a2a2a" stroke-width="1.3"/>
<line x1="426.38" y1="473.3" x2="426.38" y2="475.3" stroke="#2a2a2a" stroke-width="1.3"/>
<line x1="440.15" y1="473.3" x2="440.15" y2="475.3" stroke="#2a2a2a" stroke-width="1.3"/>
<line x1="447.14" y1="473.3" x2="447.14" y2="475.3" stroke="#2a2a2a" stroke-width="1.3"/>
<line x1="452.1" y1="473.3" x2="452.1" y2="475.3" stroke="#2a2a2a" stroke-width="1.3"/>
<line x1="455.95" y1="473.3" x2="455.95" y2="475.3" stroke="#2a2a2a" stroke-width="1.3"/>
<line x1="459.09" y1="473.3" x2="459.09" y2="475.3" stroke="#2a2a2a" stroke-width="1.3"/>
<line x1="461.75" y1="473.3" x2="461.75" y2="475.3" stroke="#2a2a2a" stroke-width="1.3"/>
<line x1="464.05" y1="473.3" x2="464.05" y2="475.3" stroke="#2a2a2a" stroke-width="1.3"/>
<line x1="466.08" y1="473.3" x2="466.08" y2="475.3" stroke="#2a2a2a" stroke-width="1.3"/>
<line x1="479.85" y1="473.3" x2="479.85" y2="475.3" stroke="#2a2a2a" stroke-width="1.3"/>
<line x1="486.84" y1="473.3" x2="486.84" y2="475.3" stroke="#2a2a2a" stroke-width="1.3"/>
<line x1="491.8" y1="473.3" x2="491.8" y2="475.3" stroke="#2a2a2a" stroke-width="1.3"/>
<line x1="495.65" y1="473.3" x2="495.65" y2="475.3" stroke="#2a2a2a" stroke-width="1.3"/>
<line x1="498.79" y1="473.3" x2="498.79" y2="475.3" stroke="#2a2a2a" stroke-width="1.3"/>
<line x1="501.45" y1="473.3" x2="501.45" y2="475.3" stroke="#2a2a2a" stroke-width="1.3"/>
<line x1="503.75" y1="473.3" x2="503.75" y2="475.3" stroke="#2a2a2a" stroke-width="1.3"/>
<line x1="505.78" y1="473.3" x2="505.78" y2="475.3" stroke="#2a2a2a" stroke-width="1.3"/>
<line x1="519.55" y1="473.3" x2="519.55" y2="475.3" stroke="#2a2a2a" stroke-width="1.3"/>
<line x1="526.54" y1="473.3" x2="526.54" y2="475.3" stroke="#2a2a2a" stroke-width="1.3"/>
<line x1="531.5" y1="473.3" x2="531.5" y2="475.3" stroke="#2a2a2a" stroke-width="1.3"/>
<line x1="535.35" y1="473.3" x2="535.35" y2="475.3" stroke="#2a2a2a" stroke-width="1.3"/>
<line x1="538.49" y1="473.3" x2="538.49" y2="475.3" stroke="#2a2a2a" stroke-width="1.3"/>
<line x1="541.15" y1="473.3" x2="541.15" y2="475.3" stroke="#2a2a2a" stroke-width="1.3"/>
<line x1="543.45" y1="473.3" x2="543.45" y2="475.3" stroke="#2a2a2a" stroke-width="1.3"/>
<line x1="545.48" y1="473.3" x2="545.48" y2="475.3" stroke="#2a2a2a" stroke-width="1.3"/>
<line x1="559.25" y1="473.3" x2="559.25" y2="475.3" stroke="#2a2a2a" stroke-width="1.3"/>
<line x1="566.24" y1="473.3" x2="566.24" y2="475.3" stroke="#2a2a2a" stroke-width="1.3"/>
<line x1="571.2" y1="473.3" x2="571.2" y2="475.3" stroke="#2a2a2a" stroke-width="1.3"/>
<line x1="575.05" y1="473.3" x2="575.05" y2="475.3" stroke="#2a2a2a" stroke-width="1.3"/>
<line x1="578.19" y1="473.3" x2="578.19" y2="475.3" stroke="#2a2a2a" stroke-width="1.3"/>
<line x1="580.85" y1="473.3" x2="580.85" y2="475.3" stroke="#2a2a2a" stroke-width="1.3"/>
<line x1="583.15" y1="473.3" x2="583.15" y2="475.3" stroke="#2a2a2a" stroke-width="1.3"/>
<line x1="585.18" y1="473.3" x2="585.18" y2="475.3" stroke="#2a2a2a" stroke-width="1.3"/>
<line x1="598.95" y1="473.3" x2="598.95" y2="475.3" stroke="#2a2a2a" stroke-width="1.3"/>
<line x1="605.94" y1="473.3" x2="605.94" y2="475.3" stroke="#2a2a2a" stroke-width="1.3"/>
<line x1="610.9" y1="473.3" x2="610.9" y2="475.3" stroke="#2a2a2a" stroke-width="1.3"/>
<line x1="614.75" y1="473.3" x2="614.75" y2="475.3" stroke="#2a2a2a" stroke-width="1.3"/>
<line x1="617.89" y1="473.3" x2="617.89" y2="475.3" stroke="#2a2a2a" stroke-width="1.3"/>
<line x1="620.55" y1="473.3" x2="620.55" y2="475.3" stroke="#2a2a2a" stroke-width="1.3"/>
<line x1="622.85" y1="473.3" x2="622.85" y2="475.3" stroke="#2a2a2a" stroke-width="1.3"/>
<line x1="624.88" y1="473.3" x2="624.88" y2="475.3" stroke="#2a2a2a" stroke-width="1.3"/>
<line x1="638.65" y1="473.3" x2="638.65" y2="475.3" stroke="#2a2a2a" stroke-width="1.3"/>
<line x1="645.64" y1="473.3" x2="645.64" y2="475.3" stroke="#2a2a2a" stroke-width="1.3"/>
<line x1="650.6" y1="473.3" x2="650.6" y2="475.3" stroke="#2a2a2a" stroke-width="1.3"/>
<line x1="654.45" y1="473.3" x2="654.45" y2="475.3" stroke="#2a2a2a" stroke-width="1.3"/>
<line x1="657.59" y1="473.3" x2="657.59" y2="475.3" stroke="#2a2a2a" stroke-width="1.3"/>
<line x1="660.25" y1="473.3" x2="660.25" y2="475.3" stroke="#2a2a2a" stroke-width="1.3"/>
<line x1="662.55" y1="473.3" x2="662.55" y2="475.3" stroke="#2a2a2a" stroke-width="1.3"/>
<line x1="664.58" y1="473.3" x2="664.58" y2="475.3" stroke="#2a2a2a" stroke-width="1.3"/>
<line x1="428.2" y1="473.3" x2="428.2" y2="477.3" stroke="#2a2a2a" stroke-width="1.3"/>
<text x="419" y="492.6" font-family='"Liberation Serif", serif' font-size="13" font-weight="bold" font-style="normal" text-anchor="start" textLength="12.4" lengthAdjust="spacingAndGlyphs" >10</text>
<text x="431.5" y="487.8" font-family='"Liberation Serif", serif' font-size="8.7" font-weight="bold" font-style="normal" text-anchor="start" textLength="6" lengthAdjust="spacingAndGlyphs" >-1</text>
<line x1="467.9" y1="473.3" x2="467.9" y2="477.3" stroke="#2a2a2a" stroke-width="1.3"/>
<text x="459.6" y="492.6" font-family='"Liberation Serif", serif' font-size="13" font-weight="bold" font-style="normal" text-anchor="start" textLength="12.4" lengthAdjust="spacingAndGlyphs" >10</text>
<text x="472.1" y="487.8" font-family='"Liberation Serif", serif' font-size="8.7" font-weight="bold" font-style="normal" text-anchor="start" textLength="4.2" lengthAdjust="spacingAndGlyphs" >0</text>
<line x1="507.6" y1="473.3" x2="507.6" y2="477.3" stroke="#2a2a2a" stroke-width="1.3"/>
<text x="499.3" y="492.6" font-family='"Liberation Serif", serif' font-size="13" font-weight="bold" font-style="normal" text-anchor="start" textLength="12.4" lengthAdjust="spacingAndGlyphs" >10</text>
<text x="511.8" y="487.8" font-family='"Liberation Serif", serif' font-size="8.7" font-weight="bold" font-style="normal" text-anchor="start" textLength="4.2" lengthAdjust="spacingAndGlyphs" >1</text>
<line x1="547.3" y1="473.3" x2="547.3" y2="477.3" stroke="#2a2a2a" stroke-width="1.3"/>
<text x="539" y="492.6" font-family='"Liberation Serif", serif' font-size="13" font-weight="bold" font-style="normal" text-anchor="start" textLength="12.4" lengthAdjust="spacingAndGlyphs" >10</text>
<text x="551.5" y="487.8" font-family='"Liberation Serif", serif' font-size="8.7" font-weight="bold" font-style="normal" text-anchor="start" textLength="4.2" lengthAdjust="spacingAndGlyphs" >2</text>
<line x1="587" y1="473.3" x2="587" y2="477.3" stroke="#2a2a2a" stroke-width="1.3"/>
<text x="578.7" y="492.6" font-family='"Liberation Serif", serif' font-size="13" font-weight="bold" font-style="normal" text-anchor="start" textLength="12.4" lengthAdjust="spacingAndGlyphs" >10</text>
<text x="591.2" y="487.8" font-family='"Liberation Serif", serif' font-size="8.7" font-weight="bold" font-style="normal" text-anchor="start" textLength="4.2" lengthAdjust="spacingAndGlyphs" >3</text>
<line x1="626.7" y1="473.3" x2="626.7" y2="477.3" stroke="#2a2a2a" stroke-width="1.3"/>
<text x="618.4" y="492.6" font-family='"Liberation Serif", serif' font-size="13" font-weight="bold" font-style="normal" text-anchor="start" textLength="12.4" lengthAdjust="spacingAndGlyphs" >10</text>
<text x="630.9" y="487.8" font-family='"Liberation Serif", serif' font-size="8.7" font-weight="bold" font-style="normal" text-anchor="start" textLength="4.2" lengthAdjust="spacingAndGlyphs" >4</text>
<line x1="666.4" y1="473.3" x2="666.4" y2="477.3" stroke="#2a2a2a" stroke-width="1.3"/>
<text x="658.1" y="492.6" font-family='"Liberation Serif", serif' font-size="13" font-weight="bold" font-style="normal" text-anchor="start" textLength="12.4" lengthAdjust="spacingAndGlyphs" >10</text>
<text x="670.6" y="487.8" font-family='"Liberation Serif", serif' font-size="8.7" font-weight="bold" font-style="normal" text-anchor="start" textLength="4.2" lengthAdjust="spacingAndGlyphs" >5</text>
<g clip-path="url(#clipD)">
<rect x="664.15" y="424.28" width="4.5" height="4.5" fill="#000000"/>
<rect x="660.18" y="423.92" width="4.5" height="4.5" fill="#000000"/>
<rect x="656.21" y="423.36" width="4.5" height="4.5" fill="#000000"/>
<rect x="652.24" y="422.7" width="4.5" height="4.5" fill="#000000"/>
<rect x="648.27" y="421.9" width="4.5" height="4.5" fill="#000000"/>
<rect x="644.3" y="420.93" width="4.5" height="4.5" fill="#000000"/>
<rect x="640.33" y="419.76" width="4.5" height="4.5" fill="#000000"/>
<rect x="636.36" y="418.37" width="4.5" height="4.5" fill="#000000"/>
<rect x="632.39" y="416.73" width="4.5" height="4.5" fill="#000000"/>
<rect x="628.42" y="414.79" width="4.5" height="4.5" fill="#000000"/>
<rect x="624.45" y="412.54" width="4.5" height="4.5" fill="#000000"/>
<rect x="620.48" y="409.95" width="4.5" height="4.5" fill="#000000"/>
<rect x="616.51" y="406.99" width="4.5" height="4.5" fill="#000000"/>
<rect x="612.54" y="403.68" width="4.5" height="4.5" fill="#000000"/>
<rect x="608.57" y="399.98" width="4.5" height="4.5" fill="#000000"/>
<rect x="604.6" y="395.91" width="4.5" height="4.5" fill="#000000"/>
<rect x="600.63" y="391.44" width="4.5" height="4.5" fill="#000000"/>
<rect x="596.66" y="386.58" width="4.5" height="4.5" fill="#000000"/>
<rect x="592.69" y="381.4" width="4.5" height="4.5" fill="#000000"/>
<rect x="588.72" y="375.96" width="4.5" height="4.5" fill="#000000"/>
<rect x="584.75" y="370.33" width="4.5" height="4.5" fill="#000000"/>
<rect x="580.78" y="364.58" width="4.5" height="4.5" fill="#000000"/>
<rect x="576.81" y="358.77" width="4.5" height="4.5" fill="#000000"/>
<rect x="572.84" y="352.97" width="4.5" height="4.5" fill="#000000"/>
<rect x="568.87" y="347.25" width="4.5" height="4.5" fill="#000000"/>
<rect x="564.9" y="341.7" width="4.5" height="4.5" fill="#000000"/>
<rect x="560.93" y="336.39" width="4.5" height="4.5" fill="#000000"/>
<rect x="556.96" y="331.4" width="4.5" height="4.5" fill="#000000"/>
<rect x="552.99" y="326.81" width="4.5" height="4.5" fill="#000000"/>
<rect x="549.02" y="322.72" width="4.5" height="4.5" fill="#000000"/>
<rect x="545.05" y="319.19" width="4.5" height="4.5" fill="#000000"/>
<rect x="541.08" y="316.31" width="4.5" height="4.5" fill="#000000"/>
<rect x="537.11" y="314.16" width="4.5" height="4.5" fill="#000000"/>
<rect x="533.14" y="312.83" width="4.5" height="4.5" fill="#000000"/>
<rect x="529.17" y="312.39" width="4.5" height="4.5" fill="#000000"/>
<rect x="525.2" y="312.92" width="4.5" height="4.5" fill="#000000"/>
<rect x="521.23" y="314.52" width="4.5" height="4.5" fill="#000000"/>
<rect x="517.26" y="317.28" width="4.5" height="4.5" fill="#000000"/>
<rect x="513.29" y="321.32" width="4.5" height="4.5" fill="#000000"/>
<rect x="509.32" y="326.67" width="4.5" height="4.5" fill="#000000"/>
<rect x="505.35" y="333.15" width="4.5" height="4.5" fill="#000000"/>
<rect x="501.38" y="340.52" width="4.5" height="4.5" fill="#000000"/>
<rect x="497.41" y="348.52" width="4.5" height="4.5" fill="#000000"/>
<rect x="493.44" y="356.91" width="4.5" height="4.5" fill="#000000"/>
<rect x="489.47" y="365.36" width="4.5" height="4.5" fill="#000000"/>
<rect x="485.5" y="373.55" width="4.5" height="4.5" fill="#000000"/>
<rect x="481.53" y="381.17" width="4.5" height="4.5" fill="#000000"/>
<rect x="477.56" y="387.96" width="4.5" height="4.5" fill="#000000"/>
<rect x="473.59" y="393.96" width="4.5" height="4.5" fill="#000000"/>
<rect x="469.62" y="399.22" width="4.5" height="4.5" fill="#000000"/>
<rect x="465.65" y="403.83" width="4.5" height="4.5" fill="#000000"/>
<rect x="461.68" y="407.86" width="4.5" height="4.5" fill="#000000"/>
<rect x="457.71" y="411.37" width="4.5" height="4.5" fill="#000000"/>
<rect x="453.74" y="414.45" width="4.5" height="4.5" fill="#000000"/>
<rect x="449.77" y="417.15" width="4.5" height="4.5" fill="#000000"/>
<rect x="445.8" y="419.54" width="4.5" height="4.5" fill="#000000"/>
<rect x="441.83" y="421.68" width="4.5" height="4.5" fill="#000000"/>
<rect x="437.86" y="423.66" width="4.5" height="4.5" fill="#000000"/>
<rect x="433.89" y="425.52" width="4.5" height="4.5" fill="#000000"/>
<rect x="429.92" y="427.33" width="4.5" height="4.5" fill="#000000"/>
<rect x="425.95" y="429.17" width="4.5" height="4.5" fill="#000000"/>
<rect x="421.98" y="431.1" width="4.5" height="4.5" fill="#000000"/>
<rect x="418.01" y="433.18" width="4.5" height="4.5" fill="#000000"/>
<rect x="414.04" y="435.49" width="4.5" height="4.5" fill="#000000"/>
<rect x="410.07" y="438.08" width="4.5" height="4.5" fill="#000000"/>
<rect x="406.1" y="441.02" width="4.5" height="4.5" fill="#000000"/>
<rect x="402.13" y="444.38" width="4.5" height="4.5" fill="#000000"/>
<rect x="398.16" y="447.46" width="4.5" height="4.5" fill="#000000"/>
<circle cx="666.4" cy="417.48" r="2.25" fill="#ff0000"/>
<circle cx="662.43" cy="419.18" r="2.25" fill="#ff0000"/>
<circle cx="658.46" cy="420.9" r="2.25" fill="#ff0000"/>
<circle cx="654.49" cy="421.96" r="2.25" fill="#ff0000"/>
<circle cx="650.52" cy="422.41" r="2.25" fill="#ff0000"/>
<circle cx="646.55" cy="422.3" r="2.25" fill="#ff0000"/>
<circle cx="642.58" cy="421.68" r="2.25" fill="#ff0000"/>
<circle cx="638.61" cy="420.58" r="2.25" fill="#ff0000"/>
<circle cx="634.64" cy="419.06" r="2.25" fill="#ff0000"/>
<circle cx="630.67" cy="417.16" r="2.25" fill="#ff0000"/>
<circle cx="626.7" cy="414.92" r="2.25" fill="#ff0000"/>
<circle cx="622.73" cy="412.4" r="2.25" fill="#ff0000"/>
<circle cx="618.76" cy="409.62" r="2.25" fill="#ff0000"/>
<circle cx="614.79" cy="406.48" r="2.25" fill="#ff0000"/>
<circle cx="610.82" cy="402.83" r="2.25" fill="#ff0000"/>
<circle cx="606.85" cy="398.58" r="2.25" fill="#ff0000"/>
<circle cx="602.88" cy="393.83" r="2.25" fill="#ff0000"/>
<circle cx="598.91" cy="388.76" r="2.25" fill="#ff0000"/>
<circle cx="594.94" cy="383.54" r="2.25" fill="#ff0000"/>
<circle cx="590.97" cy="378.21" r="2.25" fill="#ff0000"/>
<circle cx="587" cy="372.82" r="2.25" fill="#ff0000"/>
<circle cx="583.03" cy="367.38" r="2.25" fill="#ff0000"/>
<circle cx="579.06" cy="361.92" r="2.25" fill="#ff0000"/>
<circle cx="575.09" cy="356.47" r="2.25" fill="#ff0000"/>
<circle cx="571.12" cy="351.05" r="2.25" fill="#ff0000"/>
<circle cx="567.15" cy="345.7" r="2.25" fill="#ff0000"/>
<circle cx="563.18" cy="340.45" r="2.25" fill="#ff0000"/>
<circle cx="559.21" cy="335.37" r="2.25" fill="#ff0000"/>
<circle cx="555.24" cy="330.58" r="2.25" fill="#ff0000"/>
<circle cx="551.27" cy="326.19" r="2.25" fill="#ff0000"/>
<circle cx="547.3" cy="322.3" r="2.25" fill="#ff0000"/>
<circle cx="543.33" cy="319.03" r="2.25" fill="#ff0000"/>
<circle cx="539.36" cy="316.48" r="2.25" fill="#ff0000"/>
<circle cx="535.39" cy="314.76" r="2.25" fill="#ff0000"/>
<circle cx="531.42" cy="313.98" r="2.25" fill="#ff0000"/>
<circle cx="527.45" cy="314.25" r="2.25" fill="#ff0000"/>
<circle cx="523.48" cy="315.66" r="2.25" fill="#ff0000"/>
<circle cx="519.51" cy="318.16" r="2.25" fill="#ff0000"/>
<circle cx="515.54" cy="321.67" r="2.25" fill="#ff0000"/>
<circle cx="511.57" cy="326.13" r="2.25" fill="#ff0000"/>
<circle cx="507.6" cy="331.45" r="2.25" fill="#ff0000"/>
<circle cx="503.63" cy="337.57" r="2.25" fill="#ff0000"/>
<circle cx="499.66" cy="344.4" r="2.25" fill="#ff0000"/>
<circle cx="495.69" cy="351.83" r="2.25" fill="#ff0000"/>
<circle cx="491.72" cy="359.46" r="2.25" fill="#ff0000"/>
<circle cx="487.75" cy="366.8" r="2.25" fill="#ff0000"/>
<circle cx="483.78" cy="373.37" r="2.25" fill="#ff0000"/>
<circle cx="479.81" cy="378.82" r="2.25" fill="#ff0000"/>
<circle cx="475.84" cy="383.26" r="2.25" fill="#ff0000"/>
<circle cx="471.87" cy="386.87" r="2.25" fill="#ff0000"/>
<circle cx="467.9" cy="389.86" r="2.25" fill="#ff0000"/>
<circle cx="463.93" cy="392.4" r="2.25" fill="#ff0000"/>
<circle cx="459.96" cy="394.68" r="2.25" fill="#ff0000"/>
<circle cx="455.99" cy="396.89" r="2.25" fill="#ff0000"/>
<circle cx="452.02" cy="399.14" r="2.25" fill="#ff0000"/>
<circle cx="448.05" cy="401.57" r="2.25" fill="#ff0000"/>
<circle cx="444.08" cy="404.31" r="2.25" fill="#ff0000"/>
<circle cx="440.11" cy="407.47" r="2.25" fill="#ff0000"/>
<circle cx="436.14" cy="411.18" r="2.25" fill="#ff0000"/>
<circle cx="432.17" cy="415.5" r="2.25" fill="#ff0000"/>
<circle cx="428.2" cy="420.24" r="2.25" fill="#ff0000"/>
<circle cx="424.23" cy="425.12" r="2.25" fill="#ff0000"/>
<circle cx="420.26" cy="429.92" r="2.25" fill="#ff0000"/>
<circle cx="416.29" cy="434.57" r="2.25" fill="#ff0000"/>
<circle cx="412.32" cy="439.09" r="2.25" fill="#ff0000"/>
<circle cx="408.35" cy="443.53" r="2.25" fill="#ff0000"/>
<circle cx="404.38" cy="447.9" r="2.25" fill="#ff0000"/>
<circle cx="400.41" cy="451.41" r="2.25" fill="#ff0000"/>
<polygon points="666.4,434.7 668.88,438.97 663.92,438.97" fill="#00ff00"/>
<polygon points="662.43,435.79 664.91,440.06 659.96,440.06" fill="#00ff00"/>
<polygon points="658.46,437.16 660.94,441.43 655.99,441.43" fill="#00ff00"/>
<polygon points="654.49,438.36 656.97,442.63 652.01,442.63" fill="#00ff00"/>
<polygon points="650.52,439.35 653,443.63 648.04,443.63" fill="#00ff00"/>
<polygon points="646.55,440.11 649.02,444.39 644.07,444.39" fill="#00ff00"/>
<polygon points="642.58,440.61 645.06,444.88 640.11,444.88" fill="#00ff00"/>
<polygon points="638.61,440.81 641.09,445.08 636.13,445.08" fill="#00ff00"/>
<polygon points="634.64,440.68 637.12,444.95 632.16,444.95" fill="#00ff00"/>
<polygon points="630.67,440.18 633.14,444.46 628.19,444.46" fill="#00ff00"/>
<polygon points="626.7,439.3 629.18,443.57 624.23,443.57" fill="#00ff00"/>
<polygon points="622.73,437.99 625.21,442.27 620.25,442.27" fill="#00ff00"/>
<polygon points="618.76,436.18 621.24,440.46 616.28,440.46" fill="#00ff00"/>
<polygon points="614.79,433.49 617.26,437.77 612.31,437.77" fill="#00ff00"/>
<polygon points="610.82,429.44 613.29,433.71 608.34,433.71" fill="#00ff00"/>
<polygon points="606.85,423.68 609.33,427.96 604.38,427.96" fill="#00ff00"/>
<polygon points="602.88,416.73 605.36,421 600.4,421" fill="#00ff00"/>
<polygon points="598.91,409.31 601.38,413.59 596.43,413.59" fill="#00ff00"/>
<polygon points="594.94,401.78 597.42,406.06 592.47,406.06" fill="#00ff00"/>
<polygon points="590.97,394.13 593.45,398.4 588.5,398.4" fill="#00ff00"/>
<polygon points="587,386.33 589.48,390.6 584.52,390.6" fill="#00ff00"/>
<polygon points="583.03,378.35 585.5,382.62 580.55,382.62" fill="#00ff00"/>
<polygon points="579.06,370.17 581.53,374.44 576.58,374.44" fill="#00ff00"/>
<polygon points="575.09,361.77 577.56,366.04 572.61,366.04" fill="#00ff00"/>
<polygon points="571.12,353.12 573.6,357.39 568.64,357.39" fill="#00ff00"/>
<polygon points="567.15,344.32 569.62,348.59 564.67,348.59" fill="#00ff00"/>
<polygon points="563.18,335.58 565.66,339.85 560.71,339.85" fill="#00ff00"/>
<polygon points="559.21,327.1 561.69,331.38 556.74,331.38" fill="#00ff00"/>
<polygon points="555.24,319.21 557.72,323.48 552.76,323.48" fill="#00ff00"/>
<polygon points="551.27,312.4 553.75,316.67 548.79,316.67" fill="#00ff00"/>
<polygon points="547.3,307.19 549.77,311.47 544.82,311.47" fill="#00ff00"/>
<polygon points="543.33,304 545.81,308.27 540.86,308.27" fill="#00ff00"/>
<polygon points="539.36,302.78 541.84,307.05 536.88,307.05" fill="#00ff00"/>
<polygon points="535.39,303.4 537.87,307.67 532.91,307.67" fill="#00ff00"/>
<polygon points="531.42,305.71 533.89,309.99 528.94,309.99" fill="#00ff00"/>
<polygon points="527.45,309.59 529.93,313.87 524.98,313.87" fill="#00ff00"/>
<polygon points="523.48,314.9 525.96,319.17 521,319.17" fill="#00ff00"/>
<polygon points="519.51,321.48 521.99,325.76 517.03,325.76" fill="#00ff00"/>
<polygon points="515.54,329.21 518.01,333.49 513.06,333.49" fill="#00ff00"/>
<polygon points="511.57,337.93 514.04,342.21 509.09,342.21" fill="#00ff00"/>
<polygon points="507.6,347.41 510.08,351.69 505.12,351.69" fill="#00ff00"/>
<polygon points="503.63,357.4 506.11,361.67 501.15,361.67" fill="#00ff00"/>
<polygon points="499.66,367.64 502.13,371.92 497.18,371.92" fill="#00ff00"/>
<polygon points="495.69,377.82 498.17,382.09 493.21,382.09" fill="#00ff00"/>
<polygon points="491.72,387.14 494.19,391.41 489.24,391.41" fill="#00ff00"/>
<polygon points="487.75,394.96 490.23,399.24 485.27,399.24" fill="#00ff00"/>
<polygon points="483.78,401.41 486.25,405.69 481.3,405.69" fill="#00ff00"/>
<polygon points="479.81,406.74 482.29,411.01 477.33,411.01" fill="#00ff00"/>
<polygon points="475.84,411.17 478.31,415.45 473.36,415.45" fill="#00ff00"/>
<polygon points="471.87,414.84 474.35,419.12 469.39,419.12" fill="#00ff00"/>
<polygon points="467.9,417.85 470.38,422.12 465.42,422.12" fill="#00ff00"/>
<polygon points="463.93,420.28 466.4,424.55 461.45,424.55" fill="#00ff00"/>
<polygon points="459.96,422.24 462.44,426.51 457.48,426.51" fill="#00ff00"/>
<polygon points="455.99,423.81 458.46,428.09 453.51,428.09" fill="#00ff00"/>
<polygon points="452.02,425.11 454.5,429.38 449.54,429.38" fill="#00ff00"/>
<polygon points="448.05,426.21 450.53,430.49 445.57,430.49" fill="#00ff00"/>
<polygon points="444.08,427.22 446.56,431.5 441.6,431.5" fill="#00ff00"/>
<polygon points="440.11,428.23 442.58,432.5 437.63,432.5" fill="#00ff00"/>
<polygon points="436.14,429.27 438.62,433.55 433.66,433.55" fill="#00ff00"/>
<polygon points="432.17,430.41 434.64,434.69 429.69,434.69" fill="#00ff00"/>
<polygon points="428.2,431.69 430.68,435.96 425.72,435.96" fill="#00ff00"/>
<polygon points="424.23,433.15 426.7,437.42 421.75,437.42" fill="#00ff00"/>
<polygon points="420.26,434.84 422.74,439.11 417.78,439.11" fill="#00ff00"/>
<polygon points="416.29,436.8 418.76,441.07 413.81,441.07" fill="#00ff00"/>
<polygon points="412.32,439.08 414.8,443.36 409.84,443.36" fill="#00ff00"/>
<polygon points="408.35,441.74 410.82,446.01 405.87,446.01" fill="#00ff00"/>
<polygon points="404.38,444.81 406.86,449.08 401.9,449.08" fill="#00ff00"/>
<polygon points="400.41,447.62 402.88,451.9 397.93,451.9" fill="#00ff00"/>
<polygon points="666.4,429.16 668.88,424.89 663.92,424.89" fill="#0000ff"/>
<polygon points="662.43,429.58 664.91,425.3 659.96,425.3" fill="#0000ff"/>
<polygon points="658.46,430.21 660.94,425.93 655.99,425.93" fill="#0000ff"/>
<polygon points="654.49,430.41 656.97,426.13 652.01,426.13" fill="#0000ff"/>
<polygon points="650.52,430.18 653,425.91 648.04,425.91" fill="#0000ff"/>
<polygon points="646.55,429.55 649.02,425.28 644.07,425.28" fill="#0000ff"/>
<polygon points="642.58,428.53 645.06,424.25 640.11,424.25" fill="#0000ff"/>
<polygon points="638.61,427.11 641.09,422.84 636.13,422.84" fill="#0000ff"/>
<polygon points="634.64,425.33 637.12,421.05 632.16,421.05" fill="#0000ff"/>
<polygon points="630.67,423.18 633.14,418.9 628.19,418.9" fill="#0000ff"/>
<polygon points="626.7,420.68 629.18,416.4 624.23,416.4" fill="#0000ff"/>
<polygon points="622.73,417.83 625.21,413.56 620.25,413.56" fill="#0000ff"/>
<polygon points="618.76,414.66 621.24,410.39 616.28,410.39" fill="#0000ff"/>
<polygon points="614.79,411.17 617.26,406.9 612.31,406.9" fill="#0000ff"/>
<polygon points="610.82,407.38 613.29,403.1 608.34,403.1" fill="#0000ff"/>
<polygon points="606.85,403.29 609.33,399.01 604.38,399.01" fill="#0000ff"/>
<polygon points="602.88,398.92 605.36,394.64 600.4,394.64" fill="#0000ff"/>
<polygon points="598.91,394.27 601.38,389.99 596.43,389.99" fill="#0000ff"/>
<polygon points="594.94,389.36 597.42,385.09 592.47,385.09" fill="#0000ff"/>
<polygon points="590.97,384.21 593.45,379.93 588.5,379.93" fill="#0000ff"/>
<polygon points="587,378.81 589.48,374.53 584.52,374.53" fill="#0000ff"/>
<polygon points="583.03,373.19 585.5,368.91 580.55,368.91" fill="#0000ff"/>
<polygon points="579.06,367.35 581.53,363.07 576.58,363.07" fill="#0000ff"/>
<polygon points="575.09,361.31 577.56,357.04 572.61,357.04" fill="#0000ff"/>
<polygon points="571.12,355.18 573.6,350.9 568.64,350.9" fill="#0000ff"/>
<polygon points="567.15,349.1 569.62,344.82 564.67,344.82" fill="#0000ff"/>
<polygon points="563.18,343.22 565.66,338.95 560.71,338.95" fill="#0000ff"/>
<polygon points="559.21,337.71 561.69,333.43 556.74,333.43" fill="#0000ff"/>
<polygon points="555.24,332.67 557.72,328.4 552.76,328.4" fill="#0000ff"/>
<polygon points="551.27,328.15 553.75,323.88 548.79,323.88" fill="#0000ff"/>
<polygon points="547.3,324.13 549.77,319.85 544.82,319.85" fill="#0000ff"/>
<polygon points="543.33,320.6 545.81,316.32 540.86,316.32" fill="#0000ff"/>
<polygon points="539.36,317.55 541.84,313.28 536.88,313.28" fill="#0000ff"/>
<polygon points="535.39,314.98 537.87,310.7 532.91,310.7" fill="#0000ff"/>
<polygon points="531.42,312.81 533.89,308.54 528.94,308.54" fill="#0000ff"/>
<polygon points="527.45,310.96 529.93,306.69 524.98,306.69" fill="#0000ff"/>
<polygon points="523.48,309.38 525.96,305.1 521,305.1" fill="#0000ff"/>
<polygon points="519.51,308.24 521.99,303.97 517.03,303.97" fill="#0000ff"/>
<polygon points="515.54,307.8 518.01,303.53 513.06,303.53" fill="#0000ff"/>
<polygon points="511.57,308.29 514.04,304.02 509.09,304.02" fill="#0000ff"/>
<polygon points="507.6,309.96 510.08,305.68 505.12,305.68" fill="#0000ff"/>
<polygon points="503.63,312.91 506.11,308.63 501.15,308.63" fill="#0000ff"/>
<polygon points="499.66,317.01 502.13,312.74 497.18,312.74" fill="#0000ff"/>
<polygon points="495.69,322.11 498.17,317.83 493.21,317.83" fill="#0000ff"/>
<polygon points="491.72,328.02 494.19,323.75 489.24,323.75" fill="#0000ff"/>
<polygon points="487.75,334.61 490.23,330.33 485.27,330.33" fill="#0000ff"/>
<polygon points="483.78,341.69 486.25,337.42 481.3,337.42" fill="#0000ff"/>
<polygon points="479.81,349.11 482.29,344.84 477.33,344.84" fill="#0000ff"/>
<polygon points="475.84,356.71 478.31,352.43 473.36,352.43" fill="#0000ff"/>
<polygon points="471.87,364.31 474.35,360.04 469.39,360.04" fill="#0000ff"/>
<polygon points="467.9,371.77 470.38,367.49 465.42,367.49" fill="#0000ff"/>
<polygon points="463.93,378.91 466.4,374.63 461.45,374.63" fill="#0000ff"/>
<polygon points="459.96,385.57 462.44,381.3 457.48,381.3" fill="#0000ff"/>
<polygon points="455.99,391.71 458.46,387.43 453.51,387.43" fill="#0000ff"/>
<polygon points="452.02,397.35 454.5,393.08 449.54,393.08" fill="#0000ff"/>
<polygon points="448.05,402.55 450.53,398.28 445.57,398.28" fill="#0000ff"/>
<polygon points="444.08,407.36 446.56,403.08 441.6,403.08" fill="#0000ff"/>
<polygon points="440.11,411.82 442.58,407.54 437.63,407.54" fill="#0000ff"/>
<polygon points="436.14,415.97 438.62,411.7 433.66,411.7" fill="#0000ff"/>
<polygon points="432.17,419.87 434.64,415.6 429.69,415.6" fill="#0000ff"/>
<polygon points="428.2,423.57 430.68,419.29 425.72,419.29" fill="#0000ff"/>
<polygon points="424.23,427.1 426.7,422.82 421.75,422.82" fill="#0000ff"/>
<polygon points="420.26,430.52 422.74,426.24 417.78,426.24" fill="#0000ff"/>
<polygon points="416.29,433.87 418.76,429.6 413.81,429.6" fill="#0000ff"/>
<polygon points="412.32,437.21 414.8,432.93 409.84,432.93" fill="#0000ff"/>
<polygon points="408.35,440.57 410.82,436.3 405.87,436.3" fill="#0000ff"/>
<polygon points="404.38,444.01 406.86,439.74 401.9,439.74" fill="#0000ff"/>
<polygon points="400.41,446.89 402.88,442.61 397.93,442.61" fill="#0000ff"/>
<polygon points="666.4,426.61 669.1,429.31 666.4,432.01 663.7,429.31" fill="#00ffff"/>
<polygon points="662.43,427.36 665.13,430.06 662.43,432.76 659.73,430.06" fill="#00ffff"/>
<polygon points="658.46,427.87 661.16,430.57 658.46,433.27 655.76,430.57" fill="#00ffff"/>
<polygon points="654.49,427.84 657.19,430.54 654.49,433.24 651.79,430.54" fill="#00ffff"/>
<polygon points="650.52,427.31 653.22,430.01 650.52,432.71 647.82,430.01" fill="#00ffff"/>
<polygon points="646.55,426.32 649.25,429.02 646.55,431.72 643.85,429.02" fill="#00ffff"/>
<polygon points="642.58,424.92 645.28,427.62 642.58,430.32 639.88,427.62" fill="#00ffff"/>
<polygon points="638.61,423.14 641.31,425.84 638.61,428.54 635.91,425.84" fill="#00ffff"/>
<polygon points="634.64,421.02 637.34,423.72 634.64,426.42 631.94,423.72" fill="#00ffff"/>
<polygon points="630.67,418.62 633.37,421.32 630.67,424.02 627.97,421.32" fill="#00ffff"/>
<polygon points="626.7,415.96 629.4,418.66 626.7,421.36 624,418.66" fill="#00ffff"/>
<polygon points="622.73,413.09 625.43,415.79 622.73,418.49 620.03,415.79" fill="#00ffff"/>
<polygon points="618.76,410.05 621.46,412.75 618.76,415.45 616.06,412.75" fill="#00ffff"/>
<polygon points="614.79,406.88 617.49,409.58 614.79,412.28 612.09,409.58" fill="#00ffff"/>
<polygon points="610.82,403.55 613.52,406.25 610.82,408.95 608.12,406.25" fill="#00ffff"/>
<polygon points="606.85,400.08 609.55,402.78 606.85,405.48 604.15,402.78" fill="#00ffff"/>
<polygon points="602.88,396.45 605.58,399.15 602.88,401.85 600.18,399.15" fill="#00ffff"/>
<polygon points="598.91,392.66 601.61,395.36 598.91,398.06 596.21,395.36" fill="#00ffff"/>
<polygon points="594.94,388.7 597.64,391.4 594.94,394.1 592.24,391.4" fill="#00ffff"/>
<polygon points="590.97,384.58 593.67,387.28 590.97,389.98 588.27,387.28" fill="#00ffff"/>
<polygon points="587,380.27 589.7,382.97 587,385.67 584.3,382.97" fill="#00ffff"/>
<polygon points="583.03,375.78 585.73,378.48 583.03,381.18 580.33,378.48" fill="#00ffff"/>
<polygon points="579.06,371.11 581.76,373.81 579.06,376.51 576.36,373.81" fill="#00ffff"/>
<polygon points="575.09,366.25 577.79,368.95 575.09,371.65 572.39,368.95" fill="#00ffff"/>
<polygon points="571.12,361.3 573.82,364 571.12,366.7 568.42,364" fill="#00ffff"/>
<polygon points="567.15,356.41 569.85,359.11 567.15,361.81 564.45,359.11" fill="#00ffff"/>
<polygon points="563.18,351.74 565.88,354.44 563.18,357.14 560.48,354.44" fill="#00ffff"/>
<polygon points="559.21,347.44 561.91,350.14 559.21,352.84 556.51,350.14" fill="#00ffff"/>
<polygon points="555.24,343.61 557.94,346.31 555.24,349.01 552.54,346.31" fill="#00ffff"/>
<polygon points="551.27,340.06 553.97,342.76 551.27,345.46 548.57,342.76" fill="#00ffff"/>
<polygon points="547.3,336.55 550,339.25 547.3,341.95 544.6,339.25" fill="#00ffff"/>
<polygon points="543.33,333.41 546.03,336.11 543.33,338.81 540.63,336.11" fill="#00ffff"/>
<polygon points="539.36,331.33 542.06,334.03 539.36,336.73 536.66,334.03" fill="#00ffff"/>
<polygon points="535.39,330.77 538.09,333.47 535.39,336.17 532.69,333.47" fill="#00ffff"/>
<polygon points="531.42,329.32 534.12,332.02 531.42,334.72 528.72,332.02" fill="#00ffff"/>
<polygon points="527.45,326.77 530.15,329.47 527.45,332.17 524.75,329.47" fill="#00ffff"/>
<polygon points="523.48,324.56 526.18,327.26 523.48,329.96 520.78,327.26" fill="#00ffff"/>
<polygon points="519.51,322.98 522.21,325.68 519.51,328.38 516.81,325.68" fill="#00ffff"/>
<polygon points="515.54,322.18 518.24,324.88 515.54,327.58 512.84,324.88" fill="#00ffff"/>
<polygon points="511.57,322.32 514.27,325.02 511.57,327.72 508.87,325.02" fill="#00ffff"/>
<polygon points="507.6,323.56 510.3,326.26 507.6,328.96 504.9,326.26" fill="#00ffff"/>
<polygon points="503.63,326.02 506.33,328.72 503.63,331.42 500.93,328.72" fill="#00ffff"/>
<polygon points="499.66,329.73 502.36,332.43 499.66,335.13 496.96,332.43" fill="#00ffff"/>
<polygon points="495.69,334.67 498.39,337.37 495.69,340.07 492.99,337.37" fill="#00ffff"/>
<polygon points="491.72,340.85 494.42,343.55 491.72,346.25 489.02,343.55" fill="#00ffff"/>
<polygon points="487.75,348.25 490.45,350.95 487.75,353.65 485.05,350.95" fill="#00ffff"/>
<polygon points="483.78,356.86 486.48,359.56 483.78,362.26 481.08,359.56" fill="#00ffff"/>
<polygon points="479.81,365.91 482.51,368.61 479.81,371.31 477.11,368.61" fill="#00ffff"/>
<polygon points="475.84,373.39 478.54,376.09 475.84,378.79 473.14,376.09" fill="#00ffff"/>
<polygon points="471.87,379.55 474.57,382.25 471.87,384.95 469.17,382.25" fill="#00ffff"/>
<polygon points="467.9,384.89 470.6,387.59 467.9,390.29 465.2,387.59" fill="#00ffff"/>
<polygon points="463.93,389.86 466.63,392.56 463.93,395.26 461.23,392.56" fill="#00ffff"/>
<polygon points="459.96,394.93 462.66,397.63 459.96,400.33 457.26,397.63" fill="#00ffff"/>
<polygon points="455.99,400.39 458.69,403.09 455.99,405.79 453.29,403.09" fill="#00ffff"/>
<polygon points="452.02,405.86 454.72,408.56 452.02,411.26 449.32,408.56" fill="#00ffff"/>
<polygon points="448.05,410.69 450.75,413.39 448.05,416.09 445.35,413.39" fill="#00ffff"/>
<polygon points="444.08,414.41 446.78,417.11 444.08,419.81 441.38,417.11" fill="#00ffff"/>
<polygon points="440.11,417.39 442.81,420.09 440.11,422.79 437.41,420.09" fill="#00ffff"/>
<polygon points="436.14,420.2 438.84,422.9 436.14,425.6 433.44,422.9" fill="#00ffff"/>
<polygon points="432.17,423.34 434.87,426.04 432.17,428.74 429.47,426.04" fill="#00ffff"/>
<polygon points="428.2,426.74 430.9,429.44 428.2,432.14 425.5,429.44" fill="#00ffff"/>
<polygon points="424.23,429.96 426.93,432.66 424.23,435.36 421.53,432.66" fill="#00ffff"/>
<polygon points="420.26,432.58 422.96,435.28 420.26,437.98 417.56,435.28" fill="#00ffff"/>
<polygon points="416.29,435.47 418.99,438.17 416.29,440.87 413.59,438.17" fill="#00ffff"/>
<polygon points="412.32,442.34 415.02,445.04 412.32,447.74 409.62,445.04" fill="#00ffff"/>
<polygon points="408.35,451.41 411.05,454.11 408.35,456.81 405.65,454.11" fill="#00ffff"/>
<polygon points="404.38,453.79 407.08,456.49 404.38,459.19 401.68,456.49" fill="#00ffff"/>
<polygon points="400.41,449.35 403.11,452.05 400.41,454.75 397.71,452.05" fill="#00ffff"/>
<polygon points="663.92,437.37 668.2,434.9 668.2,439.85" fill="#ff00ff"/>
<polygon points="659.96,437.67 664.23,435.2 664.23,440.15" fill="#ff00ff"/>
<polygon points="655.99,438.28 660.26,435.81 660.26,440.76" fill="#ff00ff"/>
<polygon points="652.01,439.05 656.29,436.58 656.29,441.53" fill="#ff00ff"/>
<polygon points="648.04,439.89 652.32,437.41 652.32,442.36" fill="#ff00ff"/>
<polygon points="644.07,440.71 648.35,438.24 648.35,443.19" fill="#ff00ff"/>
<polygon points="640.11,441.44 644.38,438.96 644.38,443.91" fill="#ff00ff"/>
<polygon points="636.13,441.98 640.41,439.51 640.41,444.46" fill="#ff00ff"/>
<polygon points="632.16,442.26 636.44,439.79 636.44,444.74" fill="#ff00ff"/>
<polygon points="628.19,442.2 632.47,439.72 632.47,444.67" fill="#ff00ff"/>
<polygon points="624.23,441.7 628.5,439.22 628.5,444.17" fill="#ff00ff"/>
<polygon points="620.25,440.68 624.53,438.21 624.53,443.16" fill="#ff00ff"/>
<polygon points="616.28,439.07 620.56,436.6 620.56,441.55" fill="#ff00ff"/>
<polygon points="612.31,436.78 616.59,434.3 616.59,439.25" fill="#ff00ff"/>
<polygon points="608.34,433.75 612.62,431.27 612.62,436.22" fill="#ff00ff"/>
<polygon points="604.38,430.02 608.65,427.54 608.65,432.49" fill="#ff00ff"/>
<polygon points="600.4,425.64 604.68,423.16 604.68,428.11" fill="#ff00ff"/>
<polygon points="596.43,420.67 600.71,418.19 600.71,423.14" fill="#ff00ff"/>
<polygon points="592.47,415.16 596.74,412.68 596.74,417.63" fill="#ff00ff"/>
<polygon points="588.5,409.17 592.77,406.69 592.77,411.64" fill="#ff00ff"/>
<polygon points="584.52,402.82 588.8,400.34 588.8,405.29" fill="#ff00ff"/>
<polygon points="580.55,396.23 584.83,393.75 584.83,398.7" fill="#ff00ff"/>
<polygon points="576.58,389.54 580.86,387.07 580.86,392.02" fill="#ff00ff"/>
<polygon points="572.61,382.89 576.89,380.42 576.89,385.37" fill="#ff00ff"/>
<polygon points="568.64,376.39 572.92,373.92 572.92,378.87" fill="#ff00ff"/>
<polygon points="564.67,370.12 568.95,367.64 568.95,372.59" fill="#ff00ff"/>
<polygon points="560.71,364.13 564.98,361.65 564.98,366.6" fill="#ff00ff"/>
<polygon points="556.74,358.48 561.01,356 561.01,360.95" fill="#ff00ff"/>
<polygon points="552.76,353.23 557.04,350.76 557.04,355.71" fill="#ff00ff"/>
<polygon points="548.79,348.45 553.07,345.97 553.07,350.92" fill="#ff00ff"/>
<polygon points="544.82,344.18 549.1,341.71 549.1,346.66" fill="#ff00ff"/>
<polygon points="540.86,340.5 545.13,338.02 545.13,342.97" fill="#ff00ff"/>
<polygon points="536.88,337.45 541.16,334.98 541.16,339.93" fill="#ff00ff"/>
<polygon points="532.91,335.12 537.19,332.64 537.19,337.59" fill="#ff00ff"/>
<polygon points="528.94,333.68 533.22,331.21 533.22,336.16" fill="#ff00ff"/>
<polygon points="524.98,333.4 529.25,330.93 529.25,335.88" fill="#ff00ff"/>
<polygon points="521,334.54 525.28,332.07 525.28,337.02" fill="#ff00ff"/>
<polygon points="517.03,337.37 521.31,334.9 521.31,339.85" fill="#ff00ff"/>
<polygon points="513.06,342.15 517.34,339.67 517.34,344.62" fill="#ff00ff"/>
<polygon points="509.09,348.83 513.37,346.36 513.37,351.31" fill="#ff00ff"/>
<polygon points="505.12,356.88 509.4,354.41 509.4,359.36" fill="#ff00ff"/>
<polygon points="501.15,366.72 505.43,364.24 505.43,369.19" fill="#ff00ff"/>
<polygon points="497.18,377.21 501.46,374.74 501.46,379.69" fill="#ff00ff"/>
<polygon points="493.21,386.79 497.49,384.32 497.49,389.27" fill="#ff00ff"/>
<polygon points="489.24,394.88 493.52,392.41 493.52,397.36" fill="#ff00ff"/>
<polygon points="485.27,401.64 489.55,399.16 489.55,404.11" fill="#ff00ff"/>
<polygon points="481.3,407.24 485.58,404.77 485.58,409.72" fill="#ff00ff"/>
<polygon points="477.33,411.87 481.61,409.4 481.61,414.35" fill="#ff00ff"/>
<polygon points="473.36,415.71 477.64,413.23 477.64,418.18" fill="#ff00ff"/>
<polygon points="469.39,418.87 473.67,416.4 473.67,421.35" fill="#ff00ff"/>
<polygon points="465.42,421.47 469.7,419 469.7,423.95" fill="#ff00ff"/>
<polygon points="461.45,423.59 465.73,421.12 465.73,426.07" fill="#ff00ff"/>
<polygon points="457.48,425.34 461.76,422.86 461.76,427.81" fill="#ff00ff"/>
<polygon points="453.51,426.79 457.79,424.32 457.79,429.27" fill="#ff00ff"/>
<polygon points="449.54,428.07 453.82,425.59 453.82,430.54" fill="#ff00ff"/>
<polygon points="445.57,429.24 449.85,426.77 449.85,431.72" fill="#ff00ff"/>
<polygon points="441.6,430.42 445.88,427.94 445.88,432.89" fill="#ff00ff"/>
<polygon points="437.63,431.64 441.91,429.16 441.91,434.11" fill="#ff00ff"/>
<polygon points="433.66,432.92 437.94,430.45 437.94,435.4" fill="#ff00ff"/>
<polygon points="429.69,434.29 433.97,431.81 433.97,436.76" fill="#ff00ff"/>
<polygon points="425.72,435.75 430,433.28 430,438.23" fill="#ff00ff"/>
<polygon points="421.75,437.33 426.03,434.85 426.03,439.8" fill="#ff00ff"/>
<polygon points="417.78,439.04 422.06,436.57 422.06,441.52" fill="#ff00ff"/>
<polygon points="413.81,440.91 418.09,438.43 418.09,443.38" fill="#ff00ff"/>
<polygon points="409.84,442.94 414.12,440.46 414.12,445.41" fill="#ff00ff"/>
<polygon points="405.87,445.16 410.15,442.68 410.15,447.63" fill="#ff00ff"/>
<polygon points="401.9,447.58 406.18,445.1 406.18,450.05" fill="#ff00ff"/>
<polygon points="397.93,449.7 402.21,447.22 402.21,452.17" fill="#ff00ff"/>
<polygon points="668.88,430.5 664.6,428.03 664.6,432.98" fill="#808000"/>
<polygon points="664.91,431.18 660.63,428.71 660.63,433.66" fill="#808000"/>
<polygon points="660.94,431.89 656.66,429.42 656.66,434.37" fill="#808000"/>
<polygon points="656.97,432.34 652.69,429.87 652.69,434.82" fill="#808000"/>
<polygon points="653,432.52 648.72,430.04 648.72,434.99" fill="#808000"/>
<polygon points="649.02,432.41 644.75,429.94 644.75,434.89" fill="#808000"/>
<polygon points="645.06,432.01 640.78,429.53 640.78,434.48" fill="#808000"/>
<polygon points="641.09,431.29 636.81,428.82 636.81,433.77" fill="#808000"/>
<polygon points="637.12,430.26 632.84,427.79 632.84,432.74" fill="#808000"/>
<polygon points="633.14,428.9 628.87,426.42 628.87,431.37" fill="#808000"/>
<polygon points="629.18,427.19 624.9,424.72 624.9,429.67" fill="#808000"/>
<polygon points="625.21,425.14 620.93,422.66 620.93,427.61" fill="#808000"/>
<polygon points="621.24,422.72 616.96,420.24 616.96,425.19" fill="#808000"/>
<polygon points="617.26,419.92 612.99,417.44 612.99,422.39" fill="#808000"/>
<polygon points="613.29,416.73 609.02,414.26 609.02,419.21" fill="#808000"/>
<polygon points="609.33,413.15 605.05,410.68 605.05,415.63" fill="#808000"/>
<polygon points="605.36,409.16 601.08,406.68 601.08,411.63" fill="#808000"/>
<polygon points="601.38,404.74 597.11,402.27 597.11,407.22" fill="#808000"/>
<polygon points="597.42,399.89 593.14,397.42 593.14,402.37" fill="#808000"/>
<polygon points="593.45,394.6 589.17,392.13 589.17,397.08" fill="#808000"/>
<polygon points="589.48,388.86 585.2,386.38 585.2,391.33" fill="#808000"/>
<polygon points="585.5,382.64 581.23,380.17 581.23,385.12" fill="#808000"/>
<polygon points="581.53,375.95 577.26,373.48 577.26,378.43" fill="#808000"/>
<polygon points="577.56,368.85 573.29,366.38 573.29,371.33" fill="#808000"/>
<polygon points="573.6,361.59 569.32,359.11 569.32,364.06" fill="#808000"/>
<polygon points="569.62,354.4 565.35,351.92 565.35,356.87" fill="#808000"/>
<polygon points="565.66,347.53 561.38,345.06 561.38,350.01" fill="#808000"/>
<polygon points="561.69,341.24 557.41,338.77 557.41,343.72" fill="#808000"/>
<polygon points="557.72,335.66 553.44,333.18 553.44,338.13" fill="#808000"/>
<polygon points="553.75,330.79 549.47,328.32 549.47,333.27" fill="#808000"/>
<polygon points="549.77,326.68 545.5,324.21 545.5,329.16" fill="#808000"/>
<polygon points="545.81,323.34 541.53,320.87 541.53,325.82" fill="#808000"/>
<polygon points="541.84,320.81 537.56,318.33 537.56,323.28" fill="#808000"/>
<polygon points="537.87,319.15 533.59,316.67 533.59,321.62" fill="#808000"/>
<polygon points="533.89,318.44 529.62,315.96 529.62,320.91" fill="#808000"/>
<polygon points="529.93,318.77 525.65,316.29 525.65,321.24" fill="#808000"/>
<polygon points="525.96,320.23 521.68,317.75 521.68,322.7" fill="#808000"/>
<polygon points="521.99,322.89 517.71,320.42 517.71,325.37" fill="#808000"/>
<polygon points="518.01,326.85 513.74,324.38 513.74,329.33" fill="#808000"/>
<polygon points="514.04,332.19 509.77,329.72 509.77,334.67" fill="#808000"/>
<polygon points="510.08,338.99 505.8,336.52 505.8,341.47" fill="#808000"/>
<polygon points="506.11,347.25 501.83,344.77 501.83,349.72" fill="#808000"/>
<polygon points="502.13,356.53 497.86,354.06 497.86,359.01" fill="#808000"/>
<polygon points="498.17,366.3 493.89,363.82 493.89,368.77" fill="#808000"/>
<polygon points="494.19,376 489.92,373.52 489.92,378.47" fill="#808000"/>
<polygon points="490.23,385.14 485.95,382.66 485.95,387.61" fill="#808000"/>
<polygon points="486.25,393.5 481.98,391.03 481.98,395.98" fill="#808000"/>
<polygon points="482.29,400.99 478.01,398.51 478.01,403.46" fill="#808000"/>
<polygon points="478.31,407.49 474.04,405.01 474.04,409.96" fill="#808000"/>
<polygon points="474.35,412.9 470.07,410.43 470.07,415.38" fill="#808000"/>
<polygon points="470.38,417.21 466.1,414.73 466.1,419.68" fill="#808000"/>
<polygon points="466.4,420.55 462.13,418.07 462.13,423.02" fill="#808000"/>
<polygon points="462.44,423.12 458.16,420.64 458.16,425.59" fill="#808000"/>
<polygon points="458.46,425.11 454.19,422.63 454.19,427.58" fill="#808000"/>
<polygon points="454.5,426.7 450.22,424.23 450.22,429.18" fill="#808000"/>
<polygon points="450.53,428.09 446.25,425.61 446.25,430.56" fill="#808000"/>
<polygon points="446.56,429.45 442.28,426.97 442.28,431.92" fill="#808000"/>
<polygon points="442.58,430.85 438.31,428.37 438.31,433.32" fill="#808000"/>
<polygon points="438.62,432.3 434.34,429.82 434.34,434.77" fill="#808000"/>
<polygon points="434.64,433.8 430.37,431.32 430.37,436.27" fill="#808000"/>
<polygon points="430.68,435.34 426.4,432.87 426.4,437.82" fill="#808000"/>
<polygon points="426.7,436.94 422.43,434.46 422.43,439.41" fill="#808000"/>
<polygon points="422.74,438.58 418.46,436.11 418.46,441.06" fill="#808000"/>
<polygon points="418.76,440.28 414.49,437.81 414.49,442.76" fill="#808000"/>
<polygon points="414.8,442.04 410.52,439.56 410.52,444.51" fill="#808000"/>
<polygon points="410.82,443.85 406.55,441.37 406.55,446.32" fill="#808000"/>
<polygon points="406.86,445.71 402.58,443.24 402.58,448.19" fill="#808000"/>
<polygon points="402.88,447.26 398.61,444.79 398.61,449.74" fill="#808000"/>
<circle cx="666.4" cy="430.07" r="2.25" fill="#800080"/>
<circle cx="662.43" cy="431.11" r="2.25" fill="#800080"/>
<circle cx="658.46" cy="432.39" r="2.25" fill="#800080"/>
<circle cx="654.49" cy="433.49" r="2.25" fill="#800080"/>
<circle cx="650.52" cy="434.4" r="2.25" fill="#800080"/>
<circle cx="646.55" cy="435.11" r="2.25" fill="#800080"/>
<circle cx="642.58" cy="435.61" r="2.25" fill="#800080"/>
<circle cx="638.61" cy="435.88" r="2.25" fill="#800080"/>
<circle cx="634.64" cy="435.91" r="2.25" fill="#800080"/>
<circle cx="630.67" cy="435.69" r="2.25" fill="#800080"/>
<circle cx="626.7" cy="435.21" r="2.25" fill="#800080"/>
<circle cx="622.73" cy="434.45" r="2.25" fill="#800080"/>
<circle cx="618.76" cy="433.41" r="2.25" fill="#800080"/>
<circle cx="614.79" cy="432.05" r="2.25" fill="#800080"/>
<circle cx="610.82" cy="430.23" r="2.25" fill="#800080"/>
<circle cx="606.85" cy="427.69" r="2.25" fill="#800080"/>
<circle cx="602.88" cy="424.19" r="2.25" fill="#800080"/>
<circle cx="598.91" cy="419.49" r="2.25" fill="#800080"/>
<circle cx="594.94" cy="413.41" r="2.25" fill="#800080"/>
<circle cx="590.97" cy="406.17" r="2.25" fill="#800080"/>
<circle cx="587" cy="398.04" r="2.25" fill="#800080"/>
<circle cx="583.03" cy="389.34" r="2.25" fill="#800080"/>
<circle cx="579.06" cy="380.34" r="2.25" fill="#800080"/>
<circle cx="575.09" cy="371.35" r="2.25" fill="#800080"/>
<circle cx="571.12" cy="362.64" r="2.25" fill="#800080"/>
<circle cx="567.15" cy="354.34" r="2.25" fill="#800080"/>
<circle cx="563.18" cy="346.6" r="2.25" fill="#800080"/>
<circle cx="559.21" cy="339.59" r="2.25" fill="#800080"/>
<circle cx="555.24" cy="333.57" r="2.25" fill="#800080"/>
<circle cx="551.27" cy="328.74" r="2.25" fill="#800080"/>
<circle cx="547.3" cy="325.35" r="2.25" fill="#800080"/>
<circle cx="543.33" cy="323.58" r="2.25" fill="#800080"/>
<circle cx="539.36" cy="323.44" r="2.25" fill="#800080"/>
<circle cx="535.39" cy="324.92" r="2.25" fill="#800080"/>
<circle cx="531.42" cy="327.98" r="2.25" fill="#800080"/>
<circle cx="527.45" cy="332.6" r="2.25" fill="#800080"/>
<circle cx="523.48" cy="338.75" r="2.25" fill="#800080"/>
<circle cx="519.51" cy="346.4" r="2.25" fill="#800080"/>
<circle cx="515.54" cy="355.47" r="2.25" fill="#800080"/>
<circle cx="511.57" cy="365.48" r="2.25" fill="#800080"/>
<circle cx="507.6" cy="375.82" r="2.25" fill="#800080"/>
<circle cx="503.63" cy="385.91" r="2.25" fill="#800080"/>
<circle cx="499.66" cy="395.24" r="2.25" fill="#800080"/>
<circle cx="495.69" cy="403.66" r="2.25" fill="#800080"/>
<circle cx="491.72" cy="411.09" r="2.25" fill="#800080"/>
<circle cx="487.75" cy="417.43" r="2.25" fill="#800080"/>
<circle cx="483.78" cy="422.6" r="2.25" fill="#800080"/>
<circle cx="479.81" cy="426.54" r="2.25" fill="#800080"/>
<circle cx="475.84" cy="429.43" r="2.25" fill="#800080"/>
<circle cx="471.87" cy="431.55" r="2.25" fill="#800080"/>
<circle cx="467.9" cy="433.2" r="2.25" fill="#800080"/>
<circle cx="463.93" cy="434.53" r="2.25" fill="#800080"/>
<circle cx="459.96" cy="435.59" r="2.25" fill="#800080"/>
<circle cx="455.99" cy="436.44" r="2.25" fill="#800080"/>
<circle cx="452.02" cy="437.1" r="2.25" fill="#800080"/>
<circle cx="448.05" cy="437.64" r="2.25" fill="#800080"/>
<circle cx="444.08" cy="438.1" r="2.25" fill="#800080"/>
<circle cx="440.11" cy="438.51" r="2.25" fill="#800080"/>
<circle cx="436.14" cy="438.95" r="2.25" fill="#800080"/>
<circle cx="432.17" cy="439.46" r="2.25" fill="#800080"/>
<circle cx="428.2" cy="440.09" r="2.25" fill="#800080"/>
<circle cx="424.23" cy="440.89" r="2.25" fill="#800080"/>
<circle cx="420.26" cy="441.92" r="2.25" fill="#800080"/>
<circle cx="416.29" cy="443.22" r="2.25" fill="#800080"/>
<circle cx="412.32" cy="444.86" r="2.25" fill="#800080"/>
<circle cx="408.35" cy="446.88" r="2.25" fill="#800080"/>
<circle cx="404.38" cy="449.33" r="2.25" fill="#800080"/>
<circle cx="400.41" cy="451.67" r="2.25" fill="#800080"/>
</g>
<text x="0" y="0" font-family='"Liberation Serif", serif' font-size="12" font-weight="bold" font-style="normal" text-anchor="middle" textLength="109.7" lengthAdjust="spacingAndGlyphs" transform="translate(374.9,366.7) rotate(-90)">Phase of Z (degree)</text>
<text x="529" y="508" font-family='"Liberation Serif", serif' font-size="12.3" font-weight="bold" font-style="normal" text-anchor="middle" textLength="89" lengthAdjust="spacingAndGlyphs" >Frequency (Hz)</text>
<text x="335.6" y="270.6" font-family='"Liberation Serif", serif' font-size="29" font-weight="bold" font-style="normal" text-anchor="start" >(d)</text>
<rect x="561.91" y="267.01" width="4.18" height="4.18" fill="#000000"/>
<text x="578" y="272.7" font-family='"Liberation Serif", serif' font-size="9.7" font-weight="bold" font-style="normal" text-anchor="start" >Blank</text>
<polygon points="620,266.59 622.51,269.1 620,271.61 617.49,269.1" fill="#00ffff"/>
<text x="633.7" y="272.7" font-family='"Liberation Serif", serif' font-size="9.7" font-weight="bold" font-style="normal" text-anchor="start" >HCTZ</text>
<circle cx="564" cy="281.9" r="2.09" fill="#ff0000"/>
<text x="578" y="285.5" font-family='"Liberation Serif", serif' font-size="9.7" font-weight="bold" font-style="normal" text-anchor="start" >LK</text>
<polygon points="619.2,281.9 623.17,279.6 623.17,284.2" fill="#ff00ff"/>
<text x="636.2" y="285.5" font-family='"Liberation Serif", serif' font-size="9.7" font-weight="bold" font-style="normal" text-anchor="start" >VLA</text>
<polygon points="564,291.9 566.3,295.87 561.7,295.87" fill="#00ff00"/>
<text x="578" y="297.8" font-family='"Liberation Serif", serif' font-size="9.7" font-weight="bold" font-style="normal" text-anchor="start" >ATEN</text>
<polygon points="625,294.2 621.03,291.9 621.03,296.5" fill="#808000"/>
<text x="636.2" y="297.8" font-family='"Liberation Serif", serif' font-size="9.7" font-weight="bold" font-style="normal" text-anchor="start" >FUR</text>
<polygon points="564,309.3 566.3,305.33 561.7,305.33" fill="#0000ff"/>
<text x="578" y="310.6" font-family='"Liberation Serif", serif' font-size="9.7" font-weight="bold" font-style="normal" text-anchor="start" >NF</text>
<circle cx="622.7" cy="307" r="2.09" fill="#800080"/>
<text x="637.2" y="310.6" font-family='"Liberation Serif", serif' font-size="9.7" font-weight="bold" font-style="normal" text-anchor="start" >CAP</text>
<polyline points="47.7,590.8 75,590.8 80.5,580.6 85.3,602.6 93.2,580.3 98.7,602.6 102.4,590.8 115.5,590.8" stroke="#1a1a1a" stroke-width="2.9" fill="none" stroke-linejoin="round" stroke-linecap="butt"/>
<polyline points="115.5,556.4 115.5,622.8" stroke="#1a1a1a" stroke-width="2.3" fill="none" stroke-linejoin="miter" stroke-linecap="square"/>
<polyline points="115.5,556.4 197.5,556.4" stroke="#1a1a1a" stroke-width="3.3" fill="none" stroke-linejoin="miter" stroke-linecap="square"/>
<polyline points="204.4,556.4 295.5,556.4" stroke="#1a1a1a" stroke-width="3.3" fill="none" stroke-linejoin="miter" stroke-linecap="square"/>
<path d="M195.3,544.7 Q199.5,556.4 195.3,568" stroke="#1a1a1a" stroke-width="2.4" fill="none"/>
<polyline points="205.1,544.7 205.1,568" stroke="#1a1a1a" stroke-width="2.8" fill="none" stroke-linejoin="miter" stroke-linecap="square"/>
<polyline points="295.5,556.4 295.5,667.7" stroke="#1a1a1a" stroke-width="2.3" fill="none" stroke-linejoin="miter" stroke-linecap="square"/>
<polyline points="295.5,612.4 314.2,612.4" stroke="#1a1a1a" stroke-width="3.2" fill="none" stroke-linejoin="miter" stroke-linecap="square"/>
<polyline points="115.5,622.8 134.2,622.8 138.5,613 142.9,634.4 150.6,612 156,634.4 160.4,622.8 172.1,622.8" stroke="#1a1a1a" stroke-width="2.9" fill="none" stroke-linejoin="round" stroke-linecap="butt"/>
<polyline points="172.1,593.7 172.1,651.4" stroke="#1a1a1a" stroke-width="2.3" fill="none" stroke-linejoin="miter" stroke-linecap="square"/>
<polyline points="172.1,593.7 228.4,593.7" stroke="#1a1a1a" stroke-width="2.3" fill="none" stroke-linejoin="miter" stroke-linecap="square"/>
<polyline points="257,593.7 295.5,593.7" stroke="#1a1a1a" stroke-width="2.3" fill="none" stroke-linejoin="miter" stroke-linecap="square"/>
<rect x="228.4" y="578.5" width="28.6" height="29.2" stroke="#1a1a1a" stroke-width="2.3" fill="none" stroke-linejoin="miter" stroke-linecap="square"/>
<polyline points="172.1,651.4 188,651.4 192.7,642.7 197.4,663.4 205.5,641.6 211.4,663.4 214.9,652.6 228.2,652.6" stroke="#1a1a1a" stroke-width="2.9" fill="none" stroke-linejoin="round" stroke-linecap="butt"/>
<polyline points="228.2,633.9 228.2,667.7" stroke="#1a1a1a" stroke-width="2.3" fill="none" stroke-linejoin="miter" stroke-linecap="square"/>
<polyline points="228.2,633.9 248.8,633.9" stroke="#1a1a1a" stroke-width="2.3" fill="none" stroke-linejoin="miter" stroke-linecap="square"/>
<polyline points="278,633.9 295.5,633.9" stroke="#1a1a1a" stroke-width="2.3" fill="none" stroke-linejoin="miter" stroke-linecap="square"/>
<rect x="248.8" y="619.9" width="29.2" height="28.7" stroke="#1a1a1a" stroke-width="2.3" fill="none" stroke-linejoin="miter" stroke-linecap="square"/>
<polyline points="228.2,667.7 247.6,667.7 252.3,657.9 256.9,679.8 266.3,656.8 272.1,679.8 274.5,667.7 295.5,667.7" stroke="#1a1a1a" stroke-width="2.9" fill="none" stroke-linejoin="round" stroke-linecap="butt"/>
<text x="242.8" y="598.2" font-family='"Liberation Sans", sans-serif' font-size="20" font-weight="bold" font-style="normal" text-anchor="middle" >Q</text>
<text x="263.6" y="639" font-family='"Liberation Sans", sans-serif' font-size="19.5" font-weight="bold" font-style="normal" text-anchor="middle" >Q</text>
<text x="76" y="572.8" font-family='"Liberation Serif", serif' font-size="16.5" font-weight="bold" font-style="italic" text-anchor="start" textLength="18.7" lengthAdjust="spacingAndGlyphs" >Rs</text>
<text x="136.3" y="604" font-family='"Liberation Serif", serif' font-size="17" font-weight="bold" font-style="italic" text-anchor="start" textLength="24.6" lengthAdjust="spacingAndGlyphs" >Rct</text>
<text x="240.4" y="573.3" font-family='"Liberation Serif", serif' font-size="16.5" font-weight="normal" font-style="normal" text-anchor="start" textLength="18.9" lengthAdjust="spacingAndGlyphs" >Q1</text>
<text x="263.9" y="612.7" font-family='"Liberation Serif", serif' font-size="16.5" font-weight="normal" font-style="normal" text-anchor="start" textLength="19.7" lengthAdjust="spacingAndGlyphs" >Q2</text>
<text x="186.9" y="683" font-family='"Liberation Serif", serif' font-size="16" font-weight="bold" font-style="italic" text-anchor="start" textLength="11.6" lengthAdjust="spacingAndGlyphs" >R</text>
<text x="199" y="686.5" font-family='"Liberation Serif", serif' font-size="12" font-weight="normal" font-style="normal" text-anchor="start" textLength="13.6" lengthAdjust="spacingAndGlyphs" ><tspan font-style="italic">f</tspan><tspan dx="1">1</tspan></text>
<text x="248.8" y="699.5" font-family='"Liberation Serif", serif' font-size="16" font-weight="bold" font-style="italic" text-anchor="start" textLength="11.6" lengthAdjust="spacingAndGlyphs" >R</text>
<text x="261" y="703" font-family='"Liberation Serif", serif' font-size="12" font-weight="normal" font-style="normal" text-anchor="start" textLength="14.6" lengthAdjust="spacingAndGlyphs" ><tspan font-style="italic">f</tspan><tspan dx="1">2</tspan></text>
<text x="3.9" y="532.6" font-family='"Liberation Serif", serif' font-size="29" font-weight="bold" font-style="normal" text-anchor="start" >(e)</text>
</svg></body></html>
